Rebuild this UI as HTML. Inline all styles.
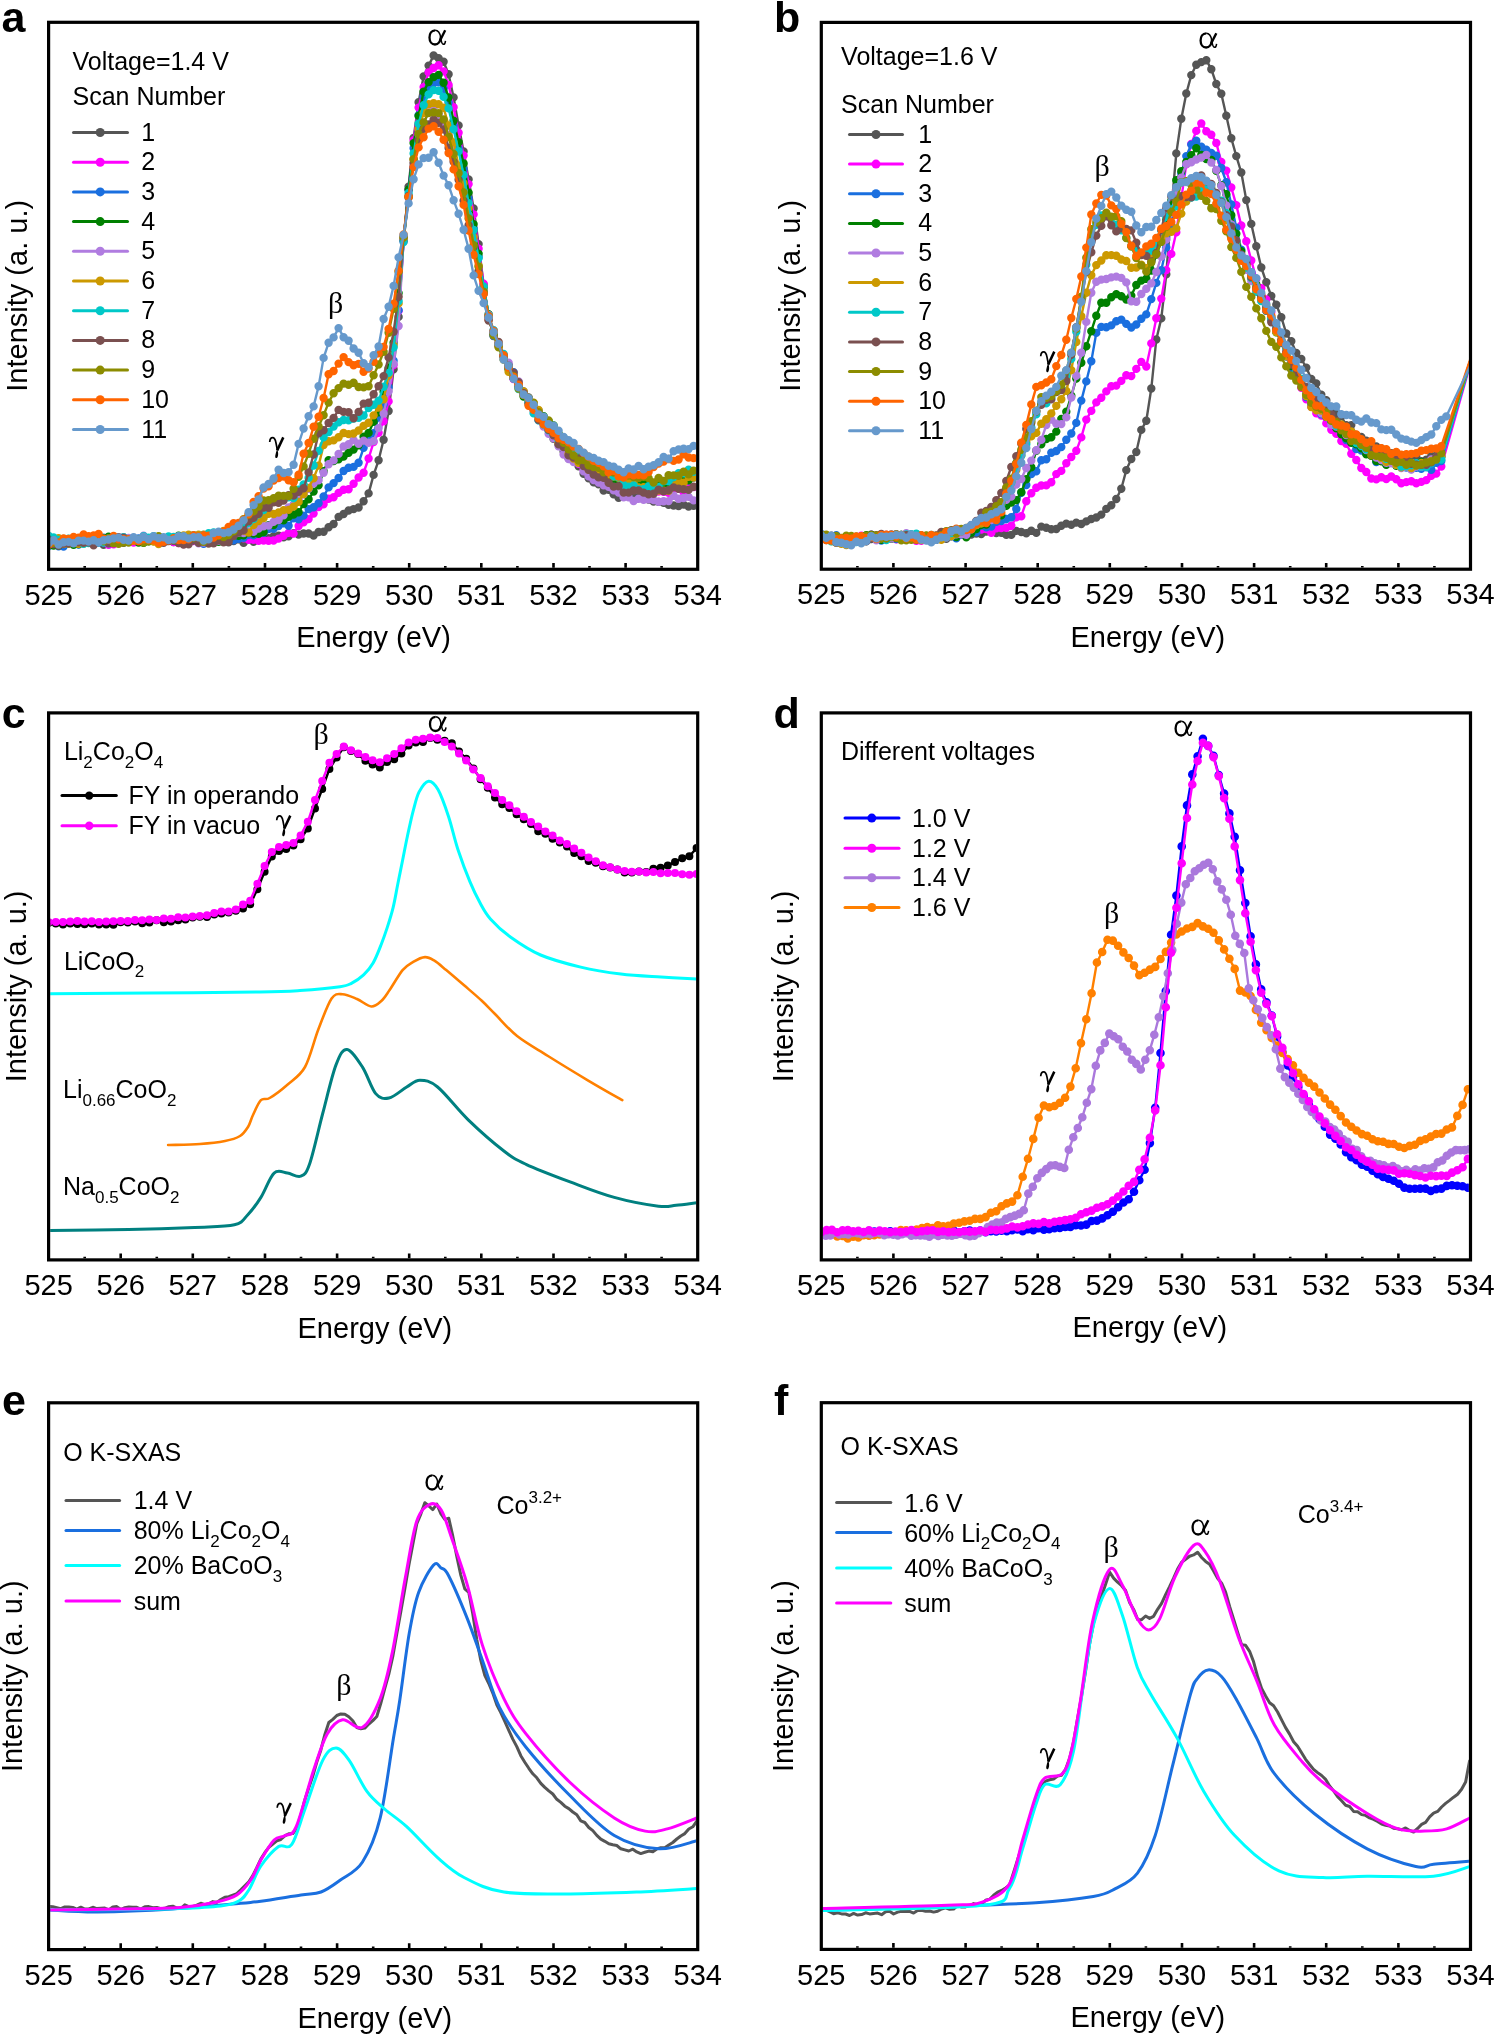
<!DOCTYPE html>
<html><head><meta charset="utf-8"><style>html,body{margin:0;padding:0;background:#fff;overflow:hidden}svg{display:block;will-change:transform}</style></head><body>
<svg width="1494" height="2034" viewBox="0 0 1494 2034">
<rect width="1494" height="2034" fill="#fff"/>
<defs>
<clipPath id="cla"><rect x="50.2" y="23.9" width="645.9" height="543.8"/></clipPath>
<clipPath id="clb"><rect x="822.9" y="24" width="646" height="543.6"/></clipPath>
<clipPath id="clc"><rect x="50.2" y="714.5" width="645.9" height="543.8"/></clipPath>
<clipPath id="cld"><rect x="822.9" y="714.5" width="646" height="543.8"/></clipPath>
<clipPath id="cle"><rect x="50.2" y="1404.4" width="645.9" height="543.6"/></clipPath>
<clipPath id="clf"><rect x="822.9" y="1404.3" width="646" height="543.5"/></clipPath>
</defs>
<g clip-path="url(#cla)"><path d="M48.6 540.1L53.6 538.2L58.6 542.8L63.6 543L68.6 540.9L73.6 542.4L78.6 540.3L83.6 540.6L88.6 541.1L93.6 543.4L98.6 540.7L103.6 544.8L108.6 539.6L113.6 540.1L118.6 539.3L123.6 542.8L128.6 540.2L133.6 540.6L138.6 539.6L143.6 541.2L148.6 539.8L153.6 538.7L158.6 539.9L163.6 539.2L168.6 538.1L173.6 542L178.6 541.1L183.6 541.2L188.6 542.7L193.6 540.3L198.6 540.4L203.6 540.9L208.6 541.1L213.6 542.8L218.6 539.3L223.6 541.9L228.6 542.2L233.6 541L238.6 539.2L243.6 542.9L248.6 539L253.6 541.7L258.6 538.9L263.6 537.8L268.6 538.1L273.6 536.3L278.6 535.6L283.6 537.4L288.6 536.4L293.6 533.1L298.6 534.6L303.6 533.5L308.6 533.5L313.6 535.5L318.6 532L323.6 531.7L328.6 527.3L333.6 524L338.6 516.9L343.6 514L348.6 510.5L353.6 509.1L358.6 507.5L363.6 501.3L368.6 493.4L373.6 474.9L378.6 460.3L383.6 439.8L388.6 411L393.6 369.2L398.6 316.9L403.6 239.8L408.6 186.6L413.6 137.9L418.6 102.3L423.6 76.4L428.6 65.6L433.6 55.5L438.6 58.2L443.6 61.7L448.6 74.2L453.6 97.4L458.6 125.4L463.6 151.4L468.6 179.4L473.6 208.5L478.6 244.1L483.6 284.8L488.6 315.7L493.6 336.1L498.6 345.2L503.6 355.4L508.6 365L513.6 378.3L518.6 386.3L523.6 391.5L528.6 397.4L533.6 407.8L538.6 416.5L543.6 419.1L548.6 430L553.6 438.9L558.6 444.4L563.6 451.6L568.6 458.4L573.6 460.6L578.6 466.2L583.6 473.7L588.6 478.3L593.6 482.3L598.6 484.3L603.6 490.6L608.6 489.7L613.6 494.3L618.6 497.7L623.6 496.4L628.6 495.2L633.6 496.9L638.6 496.9L643.6 498.4L648.6 499.6L653.6 501.6L658.6 501.9L663.6 502.9L668.6 504.8L673.6 505.5L678.6 506.1L683.6 504.6L688.6 506.5L693.6 505.8" fill="none" stroke="#555555" stroke-width="2.4" stroke-linejoin="round"/><path d="M48.6 540.1h0M53.6 538.2h0M58.6 542.8h0M63.6 543h0M68.6 540.9h0M73.6 542.4h0M78.6 540.3h0M83.6 540.6h0M88.6 541.1h0M93.6 543.4h0M98.6 540.7h0M103.6 544.8h0M108.6 539.6h0M113.6 540.1h0M118.6 539.3h0M123.6 542.8h0M128.6 540.2h0M133.6 540.6h0M138.6 539.6h0M143.6 541.2h0M148.6 539.8h0M153.6 538.7h0M158.6 539.9h0M163.6 539.2h0M168.6 538.1h0M173.6 542h0M178.6 541.1h0M183.6 541.2h0M188.6 542.7h0M193.6 540.3h0M198.6 540.4h0M203.6 540.9h0M208.6 541.1h0M213.6 542.8h0M218.6 539.3h0M223.6 541.9h0M228.6 542.2h0M233.6 541h0M238.6 539.2h0M243.6 542.9h0M248.6 539h0M253.6 541.7h0M258.6 538.9h0M263.6 537.8h0M268.6 538.1h0M273.6 536.3h0M278.6 535.6h0M283.6 537.4h0M288.6 536.4h0M293.6 533.1h0M298.6 534.6h0M303.6 533.5h0M308.6 533.5h0M313.6 535.5h0M318.6 532h0M323.6 531.7h0M328.6 527.3h0M333.6 524h0M338.6 516.9h0M343.6 514h0M348.6 510.5h0M353.6 509.1h0M358.6 507.5h0M363.6 501.3h0M368.6 493.4h0M373.6 474.9h0M378.6 460.3h0M383.6 439.8h0M388.6 411h0M393.6 369.2h0M398.6 316.9h0M403.6 239.8h0M408.6 186.6h0M413.6 137.9h0M418.6 102.3h0M423.6 76.4h0M428.6 65.6h0M433.6 55.5h0M438.6 58.2h0M443.6 61.7h0M448.6 74.2h0M453.6 97.4h0M458.6 125.4h0M463.6 151.4h0M468.6 179.4h0M473.6 208.5h0M478.6 244.1h0M483.6 284.8h0M488.6 315.7h0M493.6 336.1h0M498.6 345.2h0M503.6 355.4h0M508.6 365h0M513.6 378.3h0M518.6 386.3h0M523.6 391.5h0M528.6 397.4h0M533.6 407.8h0M538.6 416.5h0M543.6 419.1h0M548.6 430h0M553.6 438.9h0M558.6 444.4h0M563.6 451.6h0M568.6 458.4h0M573.6 460.6h0M578.6 466.2h0M583.6 473.7h0M588.6 478.3h0M593.6 482.3h0M598.6 484.3h0M603.6 490.6h0M608.6 489.7h0M613.6 494.3h0M618.6 497.7h0M623.6 496.4h0M628.6 495.2h0M633.6 496.9h0M638.6 496.9h0M643.6 498.4h0M648.6 499.6h0M653.6 501.6h0M658.6 501.9h0M663.6 502.9h0M668.6 504.8h0M673.6 505.5h0M678.6 506.1h0M683.6 504.6h0M688.6 506.5h0M693.6 505.8h0" fill="none" stroke="#555555" stroke-width="8.4" stroke-linecap="round"/>
<path d="M48.6 541.5L53.6 543.3L58.6 539.7L63.6 541.7L68.6 540.2L73.6 538.3L78.6 539.3L83.6 539.2L88.6 536.9L93.6 540.4L98.6 541.9L103.6 542.2L108.6 544.9L113.6 544.4L118.6 542.3L123.6 541L128.6 539.6L133.6 542.5L138.6 540.8L143.6 539.6L148.6 538.2L153.6 538.4L158.6 537.1L163.6 539.6L168.6 538.4L173.6 542.1L178.6 543.1L183.6 544.1L188.6 542L193.6 541L198.6 541.7L203.6 542.6L208.6 540.4L213.6 540.3L218.6 537.3L223.6 536.2L228.6 538.6L233.6 534.5L238.6 535.2L243.6 538.3L248.6 539.8L253.6 539.7L258.6 540.9L263.6 540.5L268.6 540.7L273.6 540.5L278.6 538.6L283.6 535.7L288.6 532.9L293.6 533.6L298.6 526L303.6 522.3L308.6 519.1L313.6 513.5L318.6 507L323.6 504.2L328.6 498.8L333.6 497.2L338.6 492.9L343.6 489.7L348.6 489.3L353.6 483.8L358.6 477.5L363.6 472.7L368.6 458.5L373.6 442.1L378.6 432.7L383.6 421.3L388.6 401.4L393.6 365.1L398.6 310.9L403.6 241.5L408.6 189.8L413.6 140.3L418.6 107.6L423.6 87.1L428.6 72.4L433.6 68L438.6 65.3L443.6 71.4L448.6 84.9L453.6 107.2L458.6 132.8L463.6 155.5L468.6 184.1L473.6 214.4L478.6 248.8L483.6 283.6L488.6 319.2L493.6 333.3L498.6 345.8L503.6 356.5L508.6 367.7L513.6 379L518.6 384.4L523.6 394L528.6 402.2L533.6 408.5L538.6 412.6L543.6 421.1L548.6 426.6L553.6 431.1L558.6 437.6L563.6 444.3L568.6 453L573.6 456L578.6 463.7L583.6 469.5L588.6 474L593.6 475.1L598.6 475L603.6 478.6L608.6 480.1L613.6 484.2L618.6 486L623.6 488L628.6 487L633.6 488.8L638.6 487.6L643.6 487.7L648.6 491.1L653.6 488.7L658.6 491.6L663.6 491.7L668.6 492.8L673.6 488.4L678.6 488.7L683.6 492.3L688.6 486.7L693.6 487.1" fill="none" stroke="#ff00ff" stroke-width="2.4" stroke-linejoin="round"/><path d="M48.6 541.5h0M53.6 543.3h0M58.6 539.7h0M63.6 541.7h0M68.6 540.2h0M73.6 538.3h0M78.6 539.3h0M83.6 539.2h0M88.6 536.9h0M93.6 540.4h0M98.6 541.9h0M103.6 542.2h0M108.6 544.9h0M113.6 544.4h0M118.6 542.3h0M123.6 541h0M128.6 539.6h0M133.6 542.5h0M138.6 540.8h0M143.6 539.6h0M148.6 538.2h0M153.6 538.4h0M158.6 537.1h0M163.6 539.6h0M168.6 538.4h0M173.6 542.1h0M178.6 543.1h0M183.6 544.1h0M188.6 542h0M193.6 541h0M198.6 541.7h0M203.6 542.6h0M208.6 540.4h0M213.6 540.3h0M218.6 537.3h0M223.6 536.2h0M228.6 538.6h0M233.6 534.5h0M238.6 535.2h0M243.6 538.3h0M248.6 539.8h0M253.6 539.7h0M258.6 540.9h0M263.6 540.5h0M268.6 540.7h0M273.6 540.5h0M278.6 538.6h0M283.6 535.7h0M288.6 532.9h0M293.6 533.6h0M298.6 526h0M303.6 522.3h0M308.6 519.1h0M313.6 513.5h0M318.6 507h0M323.6 504.2h0M328.6 498.8h0M333.6 497.2h0M338.6 492.9h0M343.6 489.7h0M348.6 489.3h0M353.6 483.8h0M358.6 477.5h0M363.6 472.7h0M368.6 458.5h0M373.6 442.1h0M378.6 432.7h0M383.6 421.3h0M388.6 401.4h0M393.6 365.1h0M398.6 310.9h0M403.6 241.5h0M408.6 189.8h0M413.6 140.3h0M418.6 107.6h0M423.6 87.1h0M428.6 72.4h0M433.6 68h0M438.6 65.3h0M443.6 71.4h0M448.6 84.9h0M453.6 107.2h0M458.6 132.8h0M463.6 155.5h0M468.6 184.1h0M473.6 214.4h0M478.6 248.8h0M483.6 283.6h0M488.6 319.2h0M493.6 333.3h0M498.6 345.8h0M503.6 356.5h0M508.6 367.7h0M513.6 379h0M518.6 384.4h0M523.6 394h0M528.6 402.2h0M533.6 408.5h0M538.6 412.6h0M543.6 421.1h0M548.6 426.6h0M553.6 431.1h0M558.6 437.6h0M563.6 444.3h0M568.6 453h0M573.6 456h0M578.6 463.7h0M583.6 469.5h0M588.6 474h0M593.6 475.1h0M598.6 475h0M603.6 478.6h0M608.6 480.1h0M613.6 484.2h0M618.6 486h0M623.6 488h0M628.6 487h0M633.6 488.8h0M638.6 487.6h0M643.6 487.7h0M648.6 491.1h0M653.6 488.7h0M658.6 491.6h0M663.6 491.7h0M668.6 492.8h0M673.6 488.4h0M678.6 488.7h0M683.6 492.3h0M688.6 486.7h0M693.6 487.1h0" fill="none" stroke="#ff00ff" stroke-width="8.4" stroke-linecap="round"/>
<path d="M48.6 546.4L53.6 544.2L58.6 546.2L63.6 546.5L68.6 543.5L73.6 542.3L78.6 544.5L83.6 540.9L88.6 541.4L93.6 543.4L98.6 542.5L103.6 537.8L108.6 537.3L113.6 538L118.6 541.6L123.6 537.3L128.6 538.7L133.6 538.3L138.6 538.5L143.6 540.6L148.6 538.5L153.6 539.4L158.6 540.9L163.6 540.4L168.6 538.5L173.6 540.5L178.6 539.4L183.6 541.1L188.6 538.4L193.6 539.6L198.6 541.4L203.6 543.7L208.6 541.8L213.6 540.7L218.6 539L223.6 538.4L228.6 537.1L233.6 540.4L238.6 538.7L243.6 537.7L248.6 534.7L253.6 535.3L258.6 532.5L263.6 532.9L268.6 529.1L273.6 528.8L278.6 526L283.6 523.3L288.6 525.8L293.6 518.2L298.6 519.3L303.6 515.6L308.6 509.1L313.6 507.2L318.6 503.3L323.6 496.5L328.6 487.4L333.6 483.1L338.6 478L343.6 471L348.6 467.8L353.6 466.9L358.6 462.8L363.6 447.8L368.6 438.6L373.6 433.2L378.6 417.5L383.6 404.6L388.6 387.3L393.6 360.7L398.6 310.3L403.6 239.4L408.6 189.7L413.6 148.2L418.6 115.2L423.6 96.8L428.6 87.4L433.6 83.4L438.6 82.4L443.6 88.7L448.6 102.6L453.6 125.5L458.6 148.6L463.6 169.2L468.6 198.5L473.6 228.4L478.6 257L483.6 291.1L488.6 317.3L493.6 335.8L498.6 344.3L503.6 355.7L508.6 368.3L513.6 372.2L518.6 383.8L523.6 393.6L528.6 400.6L533.6 405.8L538.6 410.8L543.6 417.9L548.6 426.7L553.6 430.7L558.6 437.7L563.6 448.4L568.6 451.4L573.6 453.1L578.6 458.6L583.6 461.6L588.6 468.5L593.6 468L598.6 472.5L603.6 474.8L608.6 474.8L613.6 477L618.6 481.3L623.6 482.8L628.6 485.3L633.6 485.2L638.6 489L643.6 487.9L648.6 486.9L653.6 490L658.6 489.2L663.6 486.5L668.6 484.5L673.6 485L678.6 484.1L683.6 478.1L688.6 480.3L693.6 477.5" fill="none" stroke="#1a6fdf" stroke-width="2.4" stroke-linejoin="round"/><path d="M48.6 546.4h0M53.6 544.2h0M58.6 546.2h0M63.6 546.5h0M68.6 543.5h0M73.6 542.3h0M78.6 544.5h0M83.6 540.9h0M88.6 541.4h0M93.6 543.4h0M98.6 542.5h0M103.6 537.8h0M108.6 537.3h0M113.6 538h0M118.6 541.6h0M123.6 537.3h0M128.6 538.7h0M133.6 538.3h0M138.6 538.5h0M143.6 540.6h0M148.6 538.5h0M153.6 539.4h0M158.6 540.9h0M163.6 540.4h0M168.6 538.5h0M173.6 540.5h0M178.6 539.4h0M183.6 541.1h0M188.6 538.4h0M193.6 539.6h0M198.6 541.4h0M203.6 543.7h0M208.6 541.8h0M213.6 540.7h0M218.6 539h0M223.6 538.4h0M228.6 537.1h0M233.6 540.4h0M238.6 538.7h0M243.6 537.7h0M248.6 534.7h0M253.6 535.3h0M258.6 532.5h0M263.6 532.9h0M268.6 529.1h0M273.6 528.8h0M278.6 526h0M283.6 523.3h0M288.6 525.8h0M293.6 518.2h0M298.6 519.3h0M303.6 515.6h0M308.6 509.1h0M313.6 507.2h0M318.6 503.3h0M323.6 496.5h0M328.6 487.4h0M333.6 483.1h0M338.6 478h0M343.6 471h0M348.6 467.8h0M353.6 466.9h0M358.6 462.8h0M363.6 447.8h0M368.6 438.6h0M373.6 433.2h0M378.6 417.5h0M383.6 404.6h0M388.6 387.3h0M393.6 360.7h0M398.6 310.3h0M403.6 239.4h0M408.6 189.7h0M413.6 148.2h0M418.6 115.2h0M423.6 96.8h0M428.6 87.4h0M433.6 83.4h0M438.6 82.4h0M443.6 88.7h0M448.6 102.6h0M453.6 125.5h0M458.6 148.6h0M463.6 169.2h0M468.6 198.5h0M473.6 228.4h0M478.6 257h0M483.6 291.1h0M488.6 317.3h0M493.6 335.8h0M498.6 344.3h0M503.6 355.7h0M508.6 368.3h0M513.6 372.2h0M518.6 383.8h0M523.6 393.6h0M528.6 400.6h0M533.6 405.8h0M538.6 410.8h0M543.6 417.9h0M548.6 426.7h0M553.6 430.7h0M558.6 437.7h0M563.6 448.4h0M568.6 451.4h0M573.6 453.1h0M578.6 458.6h0M583.6 461.6h0M588.6 468.5h0M593.6 468h0M598.6 472.5h0M603.6 474.8h0M608.6 474.8h0M613.6 477h0M618.6 481.3h0M623.6 482.8h0M628.6 485.3h0M633.6 485.2h0M638.6 489h0M643.6 487.9h0M648.6 486.9h0M653.6 490h0M658.6 489.2h0M663.6 486.5h0M668.6 484.5h0M673.6 485h0M678.6 484.1h0M683.6 478.1h0M688.6 480.3h0M693.6 477.5h0" fill="none" stroke="#1a6fdf" stroke-width="8.4" stroke-linecap="round"/>
<path d="M48.6 545L53.6 545.6L58.6 545.5L63.6 542.9L68.6 543.2L73.6 544.7L78.6 544.1L83.6 538.5L88.6 538.1L93.6 541.1L98.6 535.9L103.6 538.5L108.6 536.7L113.6 538.9L118.6 540.8L123.6 540.1L128.6 539.9L133.6 540.3L138.6 542.5L143.6 542.7L148.6 541.3L153.6 541.1L158.6 540.8L163.6 538.4L168.6 537.2L173.6 538.7L178.6 535.7L183.6 538.4L188.6 539.8L193.6 540.4L198.6 537.8L203.6 539L208.6 541.9L213.6 538.6L218.6 541.8L223.6 536.6L228.6 539.2L233.6 533.5L238.6 535.7L243.6 535.2L248.6 532.6L253.6 533.5L258.6 533.9L263.6 532L268.6 525.3L273.6 525.1L278.6 520.3L283.6 520.2L288.6 516.7L293.6 514.5L298.6 512.3L303.6 504.1L308.6 499.3L313.6 491.6L318.6 485.3L323.6 471.3L328.6 460.3L333.6 461L338.6 459.3L343.6 456.5L348.6 452.8L353.6 449.6L358.6 445.3L363.6 436.8L368.6 432.9L373.6 421.8L378.6 412.4L383.6 391.8L388.6 368.1L393.6 342.8L398.6 293.1L403.6 240.2L408.6 189.5L413.6 143.1L418.6 115.9L423.6 91.7L428.6 82.1L433.6 77.1L438.6 74.9L443.6 82.7L448.6 97.5L453.6 120.8L458.6 142.3L463.6 163.5L468.6 192.6L473.6 224.1L478.6 253.6L483.6 287.7L488.6 314.3L493.6 333.9L498.6 345.1L503.6 356.7L508.6 369.2L513.6 378.2L518.6 387.1L523.6 396.6L528.6 402.7L533.6 408L538.6 415.8L543.6 416.1L548.6 421.2L553.6 425.4L558.6 433.8L563.6 437.8L568.6 444.6L573.6 448.9L578.6 454.9L583.6 462.8L588.6 466.6L593.6 475.8L598.6 477.1L603.6 478.5L608.6 480.7L613.6 483.7L618.6 481.5L623.6 480.3L628.6 478.3L633.6 478.6L638.6 480.9L643.6 480.7L648.6 480.3L653.6 484.9L658.6 481.3L663.6 483.2L668.6 486.1L673.6 486.8L678.6 483.3L683.6 479.2L688.6 480.2L693.6 476.9" fill="none" stroke="#008000" stroke-width="2.4" stroke-linejoin="round"/><path d="M48.6 545h0M53.6 545.6h0M58.6 545.5h0M63.6 542.9h0M68.6 543.2h0M73.6 544.7h0M78.6 544.1h0M83.6 538.5h0M88.6 538.1h0M93.6 541.1h0M98.6 535.9h0M103.6 538.5h0M108.6 536.7h0M113.6 538.9h0M118.6 540.8h0M123.6 540.1h0M128.6 539.9h0M133.6 540.3h0M138.6 542.5h0M143.6 542.7h0M148.6 541.3h0M153.6 541.1h0M158.6 540.8h0M163.6 538.4h0M168.6 537.2h0M173.6 538.7h0M178.6 535.7h0M183.6 538.4h0M188.6 539.8h0M193.6 540.4h0M198.6 537.8h0M203.6 539h0M208.6 541.9h0M213.6 538.6h0M218.6 541.8h0M223.6 536.6h0M228.6 539.2h0M233.6 533.5h0M238.6 535.7h0M243.6 535.2h0M248.6 532.6h0M253.6 533.5h0M258.6 533.9h0M263.6 532h0M268.6 525.3h0M273.6 525.1h0M278.6 520.3h0M283.6 520.2h0M288.6 516.7h0M293.6 514.5h0M298.6 512.3h0M303.6 504.1h0M308.6 499.3h0M313.6 491.6h0M318.6 485.3h0M323.6 471.3h0M328.6 460.3h0M333.6 461h0M338.6 459.3h0M343.6 456.5h0M348.6 452.8h0M353.6 449.6h0M358.6 445.3h0M363.6 436.8h0M368.6 432.9h0M373.6 421.8h0M378.6 412.4h0M383.6 391.8h0M388.6 368.1h0M393.6 342.8h0M398.6 293.1h0M403.6 240.2h0M408.6 189.5h0M413.6 143.1h0M418.6 115.9h0M423.6 91.7h0M428.6 82.1h0M433.6 77.1h0M438.6 74.9h0M443.6 82.7h0M448.6 97.5h0M453.6 120.8h0M458.6 142.3h0M463.6 163.5h0M468.6 192.6h0M473.6 224.1h0M478.6 253.6h0M483.6 287.7h0M488.6 314.3h0M493.6 333.9h0M498.6 345.1h0M503.6 356.7h0M508.6 369.2h0M513.6 378.2h0M518.6 387.1h0M523.6 396.6h0M528.6 402.7h0M533.6 408h0M538.6 415.8h0M543.6 416.1h0M548.6 421.2h0M553.6 425.4h0M558.6 433.8h0M563.6 437.8h0M568.6 444.6h0M573.6 448.9h0M578.6 454.9h0M583.6 462.8h0M588.6 466.6h0M593.6 475.8h0M598.6 477.1h0M603.6 478.5h0M608.6 480.7h0M613.6 483.7h0M618.6 481.5h0M623.6 480.3h0M628.6 478.3h0M633.6 478.6h0M638.6 480.9h0M643.6 480.7h0M648.6 480.3h0M653.6 484.9h0M658.6 481.3h0M663.6 483.2h0M668.6 486.1h0M673.6 486.8h0M678.6 483.3h0M683.6 479.2h0M688.6 480.2h0M693.6 476.9h0" fill="none" stroke="#008000" stroke-width="8.4" stroke-linecap="round"/>
<path d="M48.6 543.9L53.6 540.6L58.6 542.8L63.6 543.3L68.6 539.5L73.6 541.8L78.6 539.2L83.6 538.1L88.6 539.1L93.6 541.3L98.6 537.9L103.6 540.7L108.6 538.8L113.6 537.6L118.6 538.7L123.6 538L128.6 538L133.6 539.9L138.6 539.8L143.6 535.6L148.6 539.8L153.6 537.6L158.6 539.7L163.6 539.2L168.6 538.1L173.6 537.2L178.6 541.7L183.6 542.8L188.6 541.3L193.6 538.9L198.6 543.2L203.6 542.5L208.6 542.5L213.6 542.1L218.6 540.9L223.6 538.3L228.6 535L233.6 534.4L238.6 532.9L243.6 533.1L248.6 531.3L253.6 531.8L258.6 528.6L263.6 526.3L268.6 525.6L273.6 521.9L278.6 520L283.6 515.2L288.6 507.4L293.6 504.5L298.6 499.2L303.6 494.4L308.6 488.7L313.6 483.5L318.6 480.3L323.6 472.7L328.6 464.3L333.6 460.4L338.6 453.9L343.6 446.5L348.6 444.2L353.6 440.1L358.6 443.7L363.6 440.6L368.6 442.8L373.6 441.1L378.6 428.1L383.6 413.5L388.6 391.5L393.6 363.7L398.6 326L403.6 239.6L408.6 198.1L413.6 159.3L418.6 134.2L423.6 123L428.6 112.4L433.6 107.5L438.6 114.7L443.6 123.3L448.6 134.8L453.6 151.4L458.6 174.6L463.6 191.3L468.6 215.3L473.6 240.9L478.6 271.2L483.6 291.9L488.6 315L493.6 330.4L498.6 344.4L503.6 356.5L508.6 362.6L513.6 374L518.6 381.5L523.6 394.6L528.6 401.1L533.6 410.7L538.6 420.2L543.6 426.6L548.6 433.7L553.6 438.4L558.6 446.2L563.6 454.5L568.6 459L573.6 462.1L578.6 463.2L583.6 471.3L588.6 476.3L593.6 480L598.6 482.6L603.6 485.3L608.6 486.9L613.6 490.3L618.6 492.5L623.6 497.4L628.6 497.2L633.6 501L638.6 498.8L643.6 499.7L648.6 499.4L653.6 500.1L658.6 501.8L663.6 501.2L668.6 501.1L673.6 495.7L678.6 498.8L683.6 498L688.6 496.9L693.6 500.4" fill="none" stroke="#b07ce0" stroke-width="2.4" stroke-linejoin="round"/><path d="M48.6 543.9h0M53.6 540.6h0M58.6 542.8h0M63.6 543.3h0M68.6 539.5h0M73.6 541.8h0M78.6 539.2h0M83.6 538.1h0M88.6 539.1h0M93.6 541.3h0M98.6 537.9h0M103.6 540.7h0M108.6 538.8h0M113.6 537.6h0M118.6 538.7h0M123.6 538h0M128.6 538h0M133.6 539.9h0M138.6 539.8h0M143.6 535.6h0M148.6 539.8h0M153.6 537.6h0M158.6 539.7h0M163.6 539.2h0M168.6 538.1h0M173.6 537.2h0M178.6 541.7h0M183.6 542.8h0M188.6 541.3h0M193.6 538.9h0M198.6 543.2h0M203.6 542.5h0M208.6 542.5h0M213.6 542.1h0M218.6 540.9h0M223.6 538.3h0M228.6 535h0M233.6 534.4h0M238.6 532.9h0M243.6 533.1h0M248.6 531.3h0M253.6 531.8h0M258.6 528.6h0M263.6 526.3h0M268.6 525.6h0M273.6 521.9h0M278.6 520h0M283.6 515.2h0M288.6 507.4h0M293.6 504.5h0M298.6 499.2h0M303.6 494.4h0M308.6 488.7h0M313.6 483.5h0M318.6 480.3h0M323.6 472.7h0M328.6 464.3h0M333.6 460.4h0M338.6 453.9h0M343.6 446.5h0M348.6 444.2h0M353.6 440.1h0M358.6 443.7h0M363.6 440.6h0M368.6 442.8h0M373.6 441.1h0M378.6 428.1h0M383.6 413.5h0M388.6 391.5h0M393.6 363.7h0M398.6 326h0M403.6 239.6h0M408.6 198.1h0M413.6 159.3h0M418.6 134.2h0M423.6 123h0M428.6 112.4h0M433.6 107.5h0M438.6 114.7h0M443.6 123.3h0M448.6 134.8h0M453.6 151.4h0M458.6 174.6h0M463.6 191.3h0M468.6 215.3h0M473.6 240.9h0M478.6 271.2h0M483.6 291.9h0M488.6 315h0M493.6 330.4h0M498.6 344.4h0M503.6 356.5h0M508.6 362.6h0M513.6 374h0M518.6 381.5h0M523.6 394.6h0M528.6 401.1h0M533.6 410.7h0M538.6 420.2h0M543.6 426.6h0M548.6 433.7h0M553.6 438.4h0M558.6 446.2h0M563.6 454.5h0M568.6 459h0M573.6 462.1h0M578.6 463.2h0M583.6 471.3h0M588.6 476.3h0M593.6 480h0M598.6 482.6h0M603.6 485.3h0M608.6 486.9h0M613.6 490.3h0M618.6 492.5h0M623.6 497.4h0M628.6 497.2h0M633.6 501h0M638.6 498.8h0M643.6 499.7h0M648.6 499.4h0M653.6 500.1h0M658.6 501.8h0M663.6 501.2h0M668.6 501.1h0M673.6 495.7h0M678.6 498.8h0M683.6 498h0M688.6 496.9h0M693.6 500.4h0" fill="none" stroke="#b07ce0" stroke-width="8.4" stroke-linecap="round"/>
<path d="M48.6 540.9L53.6 542.5L58.6 538.2L63.6 543.9L68.6 543.6L73.6 539.6L78.6 543.8L83.6 543.5L88.6 539.5L93.6 543.3L98.6 539.2L103.6 539L108.6 539.7L113.6 539.6L118.6 540L123.6 537.6L128.6 539.3L133.6 538.1L138.6 539.6L143.6 541.5L148.6 539.8L153.6 541.5L158.6 544L163.6 540L168.6 540.6L173.6 537.4L178.6 540.2L183.6 535.4L188.6 534.8L193.6 537.1L198.6 534.8L203.6 534.6L208.6 534.2L213.6 533.2L218.6 532.6L223.6 531L228.6 530.9L233.6 531L238.6 530.8L243.6 530.5L248.6 532.6L253.6 525L258.6 521L263.6 518.1L268.6 513.7L273.6 514L278.6 512.5L283.6 510.1L288.6 509.9L293.6 506.6L298.6 501.9L303.6 494L308.6 488L313.6 478.2L318.6 465.6L323.6 445L328.6 441.3L333.6 440.4L338.6 437.3L343.6 433L348.6 434.1L353.6 433.5L358.6 430.5L363.6 425.9L368.6 422.8L373.6 415.4L378.6 407.6L383.6 399.2L388.6 375.6L393.6 345.8L398.6 303.4L403.6 238.1L408.6 196.8L413.6 159.5L418.6 129L423.6 113L428.6 104.3L433.6 103.1L438.6 104.2L443.6 107.8L448.6 125.5L453.6 142.4L458.6 165.8L463.6 183.3L468.6 208.1L473.6 237.3L478.6 265.7L483.6 292.7L488.6 319.7L493.6 332.6L498.6 346.6L503.6 356.1L508.6 371.7L513.6 377.2L518.6 384.2L523.6 391.4L528.6 399.9L533.6 402.6L538.6 410L543.6 419.7L548.6 426L553.6 434.5L558.6 442.8L563.6 446.2L568.6 453.7L573.6 458.5L578.6 462.8L583.6 464.9L588.6 469.5L593.6 467.6L598.6 469.7L603.6 473.1L608.6 474.5L613.6 476.6L618.6 477.7L623.6 477.7L628.6 481.1L633.6 482.5L638.6 487.5L643.6 487.3L648.6 492.4L653.6 491.9L658.6 490.6L663.6 490.8L668.6 490.7L673.6 485.4L678.6 481L683.6 482.7L688.6 476.7L693.6 477.6" fill="none" stroke="#cc9900" stroke-width="2.4" stroke-linejoin="round"/><path d="M48.6 540.9h0M53.6 542.5h0M58.6 538.2h0M63.6 543.9h0M68.6 543.6h0M73.6 539.6h0M78.6 543.8h0M83.6 543.5h0M88.6 539.5h0M93.6 543.3h0M98.6 539.2h0M103.6 539h0M108.6 539.7h0M113.6 539.6h0M118.6 540h0M123.6 537.6h0M128.6 539.3h0M133.6 538.1h0M138.6 539.6h0M143.6 541.5h0M148.6 539.8h0M153.6 541.5h0M158.6 544h0M163.6 540h0M168.6 540.6h0M173.6 537.4h0M178.6 540.2h0M183.6 535.4h0M188.6 534.8h0M193.6 537.1h0M198.6 534.8h0M203.6 534.6h0M208.6 534.2h0M213.6 533.2h0M218.6 532.6h0M223.6 531h0M228.6 530.9h0M233.6 531h0M238.6 530.8h0M243.6 530.5h0M248.6 532.6h0M253.6 525h0M258.6 521h0M263.6 518.1h0M268.6 513.7h0M273.6 514h0M278.6 512.5h0M283.6 510.1h0M288.6 509.9h0M293.6 506.6h0M298.6 501.9h0M303.6 494h0M308.6 488h0M313.6 478.2h0M318.6 465.6h0M323.6 445h0M328.6 441.3h0M333.6 440.4h0M338.6 437.3h0M343.6 433h0M348.6 434.1h0M353.6 433.5h0M358.6 430.5h0M363.6 425.9h0M368.6 422.8h0M373.6 415.4h0M378.6 407.6h0M383.6 399.2h0M388.6 375.6h0M393.6 345.8h0M398.6 303.4h0M403.6 238.1h0M408.6 196.8h0M413.6 159.5h0M418.6 129h0M423.6 113h0M428.6 104.3h0M433.6 103.1h0M438.6 104.2h0M443.6 107.8h0M448.6 125.5h0M453.6 142.4h0M458.6 165.8h0M463.6 183.3h0M468.6 208.1h0M473.6 237.3h0M478.6 265.7h0M483.6 292.7h0M488.6 319.7h0M493.6 332.6h0M498.6 346.6h0M503.6 356.1h0M508.6 371.7h0M513.6 377.2h0M518.6 384.2h0M523.6 391.4h0M528.6 399.9h0M533.6 402.6h0M538.6 410h0M543.6 419.7h0M548.6 426h0M553.6 434.5h0M558.6 442.8h0M563.6 446.2h0M568.6 453.7h0M573.6 458.5h0M578.6 462.8h0M583.6 464.9h0M588.6 469.5h0M593.6 467.6h0M598.6 469.7h0M603.6 473.1h0M608.6 474.5h0M613.6 476.6h0M618.6 477.7h0M623.6 477.7h0M628.6 481.1h0M633.6 482.5h0M638.6 487.5h0M643.6 487.3h0M648.6 492.4h0M653.6 491.9h0M658.6 490.6h0M663.6 490.8h0M668.6 490.7h0M673.6 485.4h0M678.6 481h0M683.6 482.7h0M688.6 476.7h0M693.6 477.6h0" fill="none" stroke="#cc9900" stroke-width="8.4" stroke-linecap="round"/>
<path d="M48.6 535.7L53.6 537.5L58.6 540L63.6 538.9L68.6 538.6L73.6 538.5L78.6 538.4L83.6 543.9L88.6 543L93.6 540.4L98.6 542.3L103.6 542.6L108.6 543.2L113.6 539.1L118.6 538.7L123.6 537.4L128.6 539.1L133.6 540.7L138.6 539.5L143.6 536.2L148.6 537.6L153.6 536.1L158.6 536.6L163.6 538.5L168.6 536.5L173.6 536.9L178.6 536.4L183.6 537L188.6 539L193.6 535.2L198.6 537L203.6 534.9L208.6 533.3L213.6 532.5L218.6 534.5L223.6 534.1L228.6 532.8L233.6 532.9L238.6 531.1L243.6 527.6L248.6 522.9L253.6 519.1L258.6 514.2L263.6 510L268.6 505.5L273.6 499.7L278.6 498.9L283.6 497.2L288.6 497.3L293.6 498.1L298.6 489.7L303.6 484.5L308.6 477.9L313.6 465.5L318.6 450.9L323.6 437.4L328.6 432.1L333.6 426.6L338.6 422.3L343.6 420L348.6 420.3L353.6 418.5L358.6 417.7L363.6 415.5L368.6 408L373.6 404.8L378.6 400.6L383.6 386.7L388.6 372.9L393.6 347.5L398.6 301L403.6 242L408.6 192.9L413.6 153.5L418.6 123.8L423.6 105.1L428.6 94.4L433.6 90.1L438.6 90.8L443.6 96.9L448.6 108.4L453.6 129.3L458.6 151.2L463.6 175L468.6 203.1L473.6 230L478.6 258.2L483.6 286.5L488.6 315.6L493.6 330.3L498.6 343.8L503.6 354L508.6 367.1L513.6 376L518.6 389.1L523.6 394.3L528.6 401.4L533.6 413.2L538.6 420.4L543.6 424.5L548.6 430.4L553.6 434.7L558.6 440.2L563.6 443.3L568.6 444.7L573.6 452.2L578.6 454.3L583.6 457.4L588.6 456.9L593.6 462.8L598.6 462.4L603.6 469.4L608.6 469.4L613.6 476.2L618.6 477.4L623.6 484.9L628.6 486.6L633.6 485.4L638.6 489.3L643.6 489.2L648.6 486.1L653.6 488.9L658.6 486.9L663.6 481.2L668.6 481.4L673.6 477L678.6 473.1L683.6 473.4L688.6 469.7L693.6 471.8" fill="none" stroke="#00c8c8" stroke-width="2.4" stroke-linejoin="round"/><path d="M48.6 535.7h0M53.6 537.5h0M58.6 540h0M63.6 538.9h0M68.6 538.6h0M73.6 538.5h0M78.6 538.4h0M83.6 543.9h0M88.6 543h0M93.6 540.4h0M98.6 542.3h0M103.6 542.6h0M108.6 543.2h0M113.6 539.1h0M118.6 538.7h0M123.6 537.4h0M128.6 539.1h0M133.6 540.7h0M138.6 539.5h0M143.6 536.2h0M148.6 537.6h0M153.6 536.1h0M158.6 536.6h0M163.6 538.5h0M168.6 536.5h0M173.6 536.9h0M178.6 536.4h0M183.6 537h0M188.6 539h0M193.6 535.2h0M198.6 537h0M203.6 534.9h0M208.6 533.3h0M213.6 532.5h0M218.6 534.5h0M223.6 534.1h0M228.6 532.8h0M233.6 532.9h0M238.6 531.1h0M243.6 527.6h0M248.6 522.9h0M253.6 519.1h0M258.6 514.2h0M263.6 510h0M268.6 505.5h0M273.6 499.7h0M278.6 498.9h0M283.6 497.2h0M288.6 497.3h0M293.6 498.1h0M298.6 489.7h0M303.6 484.5h0M308.6 477.9h0M313.6 465.5h0M318.6 450.9h0M323.6 437.4h0M328.6 432.1h0M333.6 426.6h0M338.6 422.3h0M343.6 420h0M348.6 420.3h0M353.6 418.5h0M358.6 417.7h0M363.6 415.5h0M368.6 408h0M373.6 404.8h0M378.6 400.6h0M383.6 386.7h0M388.6 372.9h0M393.6 347.5h0M398.6 301h0M403.6 242h0M408.6 192.9h0M413.6 153.5h0M418.6 123.8h0M423.6 105.1h0M428.6 94.4h0M433.6 90.1h0M438.6 90.8h0M443.6 96.9h0M448.6 108.4h0M453.6 129.3h0M458.6 151.2h0M463.6 175h0M468.6 203.1h0M473.6 230h0M478.6 258.2h0M483.6 286.5h0M488.6 315.6h0M493.6 330.3h0M498.6 343.8h0M503.6 354h0M508.6 367.1h0M513.6 376h0M518.6 389.1h0M523.6 394.3h0M528.6 401.4h0M533.6 413.2h0M538.6 420.4h0M543.6 424.5h0M548.6 430.4h0M553.6 434.7h0M558.6 440.2h0M563.6 443.3h0M568.6 444.7h0M573.6 452.2h0M578.6 454.3h0M583.6 457.4h0M588.6 456.9h0M593.6 462.8h0M598.6 462.4h0M603.6 469.4h0M608.6 469.4h0M613.6 476.2h0M618.6 477.4h0M623.6 484.9h0M628.6 486.6h0M633.6 485.4h0M638.6 489.3h0M643.6 489.2h0M648.6 486.1h0M653.6 488.9h0M658.6 486.9h0M663.6 481.2h0M668.6 481.4h0M673.6 477h0M678.6 473.1h0M683.6 473.4h0M688.6 469.7h0M693.6 471.8h0" fill="none" stroke="#00c8c8" stroke-width="8.4" stroke-linecap="round"/>
<path d="M48.6 539.7L53.6 544.4L58.6 545.6L63.6 543.5L68.6 543.3L73.6 543.1L78.6 542.4L83.6 542.9L88.6 542.3L93.6 545.3L98.6 540.8L103.6 539.9L108.6 543.2L113.6 542.4L118.6 537.2L123.6 538L128.6 541.5L133.6 538.1L138.6 539.6L143.6 540.3L148.6 540.4L153.6 537.6L158.6 541.7L163.6 542.7L168.6 541L173.6 540.7L178.6 543L183.6 544.5L188.6 544.2L193.6 539.9L198.6 542.8L203.6 541L208.6 543.5L213.6 543.2L218.6 540.2L223.6 542.2L228.6 541.9L233.6 536.1L238.6 532.5L243.6 530.4L248.6 521.3L253.6 517.7L258.6 513.7L263.6 507.5L268.6 507.8L273.6 502.4L278.6 502.7L283.6 500.5L288.6 495.2L293.6 495.6L298.6 491.8L303.6 488.3L308.6 472.4L313.6 454.5L318.6 433.4L323.6 430.2L328.6 423L333.6 417.9L338.6 409.9L343.6 411.9L348.6 412.2L353.6 418.2L358.6 411.9L363.6 403.6L368.6 402.8L373.6 394.2L378.6 386.2L383.6 376.1L388.6 357.4L393.6 331.7L398.6 296.8L403.6 236.6L408.6 196L413.6 162.7L418.6 140L423.6 128.8L428.6 124.5L433.6 119.8L438.6 122.9L443.6 129.4L448.6 147.9L453.6 161.8L458.6 179.8L463.6 200.7L468.6 225.2L473.6 247.1L478.6 271.1L483.6 294L488.6 320.5L493.6 332L498.6 342L503.6 355.9L508.6 365.7L513.6 372.8L518.6 382.1L523.6 393.3L528.6 404.6L533.6 409.2L538.6 419.9L543.6 423.6L548.6 429.9L553.6 435.2L558.6 444.4L563.6 447L568.6 455.4L573.6 457.6L578.6 458.4L583.6 466.1L588.6 469.8L593.6 474.6L598.6 477.4L603.6 477.7L608.6 482.8L613.6 486.6L618.6 486.3L623.6 492.6L628.6 492.6L633.6 490.5L638.6 490.4L643.6 492.6L648.6 494.2L653.6 493.7L658.6 489.6L663.6 491.2L668.6 490.2L673.6 487.4L678.6 488.7L683.6 489.3L688.6 489.9L693.6 486.7" fill="none" stroke="#7a5050" stroke-width="2.4" stroke-linejoin="round"/><path d="M48.6 539.7h0M53.6 544.4h0M58.6 545.6h0M63.6 543.5h0M68.6 543.3h0M73.6 543.1h0M78.6 542.4h0M83.6 542.9h0M88.6 542.3h0M93.6 545.3h0M98.6 540.8h0M103.6 539.9h0M108.6 543.2h0M113.6 542.4h0M118.6 537.2h0M123.6 538h0M128.6 541.5h0M133.6 538.1h0M138.6 539.6h0M143.6 540.3h0M148.6 540.4h0M153.6 537.6h0M158.6 541.7h0M163.6 542.7h0M168.6 541h0M173.6 540.7h0M178.6 543h0M183.6 544.5h0M188.6 544.2h0M193.6 539.9h0M198.6 542.8h0M203.6 541h0M208.6 543.5h0M213.6 543.2h0M218.6 540.2h0M223.6 542.2h0M228.6 541.9h0M233.6 536.1h0M238.6 532.5h0M243.6 530.4h0M248.6 521.3h0M253.6 517.7h0M258.6 513.7h0M263.6 507.5h0M268.6 507.8h0M273.6 502.4h0M278.6 502.7h0M283.6 500.5h0M288.6 495.2h0M293.6 495.6h0M298.6 491.8h0M303.6 488.3h0M308.6 472.4h0M313.6 454.5h0M318.6 433.4h0M323.6 430.2h0M328.6 423h0M333.6 417.9h0M338.6 409.9h0M343.6 411.9h0M348.6 412.2h0M353.6 418.2h0M358.6 411.9h0M363.6 403.6h0M368.6 402.8h0M373.6 394.2h0M378.6 386.2h0M383.6 376.1h0M388.6 357.4h0M393.6 331.7h0M398.6 296.8h0M403.6 236.6h0M408.6 196h0M413.6 162.7h0M418.6 140h0M423.6 128.8h0M428.6 124.5h0M433.6 119.8h0M438.6 122.9h0M443.6 129.4h0M448.6 147.9h0M453.6 161.8h0M458.6 179.8h0M463.6 200.7h0M468.6 225.2h0M473.6 247.1h0M478.6 271.1h0M483.6 294h0M488.6 320.5h0M493.6 332h0M498.6 342h0M503.6 355.9h0M508.6 365.7h0M513.6 372.8h0M518.6 382.1h0M523.6 393.3h0M528.6 404.6h0M533.6 409.2h0M538.6 419.9h0M543.6 423.6h0M548.6 429.9h0M553.6 435.2h0M558.6 444.4h0M563.6 447h0M568.6 455.4h0M573.6 457.6h0M578.6 458.4h0M583.6 466.1h0M588.6 469.8h0M593.6 474.6h0M598.6 477.4h0M603.6 477.7h0M608.6 482.8h0M613.6 486.6h0M618.6 486.3h0M623.6 492.6h0M628.6 492.6h0M633.6 490.5h0M638.6 490.4h0M643.6 492.6h0M648.6 494.2h0M653.6 493.7h0M658.6 489.6h0M663.6 491.2h0M668.6 490.2h0M673.6 487.4h0M678.6 488.7h0M683.6 489.3h0M688.6 489.9h0M693.6 486.7h0" fill="none" stroke="#7a5050" stroke-width="8.4" stroke-linecap="round"/>
<path d="M48.6 541.9L53.6 542.8L58.6 542.8L63.6 539.7L68.6 541L73.6 542.6L78.6 539.6L83.6 538.7L88.6 539.9L93.6 538L98.6 537.4L103.6 541.2L108.6 538.3L113.6 543.2L118.6 543.9L123.6 542.5L128.6 542.5L133.6 539.8L138.6 539.9L143.6 542.5L148.6 541.3L153.6 539.8L158.6 536.2L163.6 538.9L168.6 540.1L173.6 539.6L178.6 538.8L183.6 538.1L188.6 538.5L193.6 537.5L198.6 537.1L203.6 541.9L208.6 537.8L213.6 536.6L218.6 535.7L223.6 537L228.6 535.1L233.6 531.4L238.6 526.1L243.6 519.3L248.6 514.9L253.6 511.4L258.6 506.5L263.6 500.5L268.6 500.2L273.6 498.2L278.6 495.8L283.6 495.9L288.6 496L293.6 488.8L298.6 476.9L303.6 466.4L308.6 453.7L313.6 438.7L318.6 426.4L323.6 415.3L328.6 402.6L333.6 393.2L338.6 388.1L343.6 383.6L348.6 384.8L353.6 382.7L358.6 387L363.6 387.4L368.6 386.2L373.6 375.3L378.6 364.5L383.6 351.8L388.6 332.7L393.6 308.9L398.6 271.8L403.6 237.5L408.6 197.3L413.6 159.2L418.6 134L423.6 122.4L428.6 113.1L433.6 112.2L438.6 113.1L443.6 119.4L448.6 137L453.6 154L458.6 173.3L463.6 192.4L468.6 218.4L473.6 245.1L478.6 266.7L483.6 291.7L488.6 316.2L493.6 335.3L498.6 347.2L503.6 359.6L508.6 367L513.6 376.2L518.6 388.5L523.6 395L528.6 397.9L533.6 403L538.6 412.2L543.6 418.3L548.6 420.5L553.6 432.3L558.6 434.8L563.6 442.7L568.6 449.3L573.6 455.5L578.6 460.6L583.6 460.1L588.6 465.2L593.6 467L598.6 467.9L603.6 472.2L608.6 470.1L613.6 472.5L618.6 475.1L623.6 476.4L628.6 475.5L633.6 477.1L638.6 478L643.6 476.8L648.6 478.1L653.6 482.5L658.6 478L663.6 480.9L668.6 475.2L673.6 475.4L678.6 475.8L683.6 471.7L688.6 474.4L693.6 470.6" fill="none" stroke="#8c8c00" stroke-width="2.4" stroke-linejoin="round"/><path d="M48.6 541.9h0M53.6 542.8h0M58.6 542.8h0M63.6 539.7h0M68.6 541h0M73.6 542.6h0M78.6 539.6h0M83.6 538.7h0M88.6 539.9h0M93.6 538h0M98.6 537.4h0M103.6 541.2h0M108.6 538.3h0M113.6 543.2h0M118.6 543.9h0M123.6 542.5h0M128.6 542.5h0M133.6 539.8h0M138.6 539.9h0M143.6 542.5h0M148.6 541.3h0M153.6 539.8h0M158.6 536.2h0M163.6 538.9h0M168.6 540.1h0M173.6 539.6h0M178.6 538.8h0M183.6 538.1h0M188.6 538.5h0M193.6 537.5h0M198.6 537.1h0M203.6 541.9h0M208.6 537.8h0M213.6 536.6h0M218.6 535.7h0M223.6 537h0M228.6 535.1h0M233.6 531.4h0M238.6 526.1h0M243.6 519.3h0M248.6 514.9h0M253.6 511.4h0M258.6 506.5h0M263.6 500.5h0M268.6 500.2h0M273.6 498.2h0M278.6 495.8h0M283.6 495.9h0M288.6 496h0M293.6 488.8h0M298.6 476.9h0M303.6 466.4h0M308.6 453.7h0M313.6 438.7h0M318.6 426.4h0M323.6 415.3h0M328.6 402.6h0M333.6 393.2h0M338.6 388.1h0M343.6 383.6h0M348.6 384.8h0M353.6 382.7h0M358.6 387h0M363.6 387.4h0M368.6 386.2h0M373.6 375.3h0M378.6 364.5h0M383.6 351.8h0M388.6 332.7h0M393.6 308.9h0M398.6 271.8h0M403.6 237.5h0M408.6 197.3h0M413.6 159.2h0M418.6 134h0M423.6 122.4h0M428.6 113.1h0M433.6 112.2h0M438.6 113.1h0M443.6 119.4h0M448.6 137h0M453.6 154h0M458.6 173.3h0M463.6 192.4h0M468.6 218.4h0M473.6 245.1h0M478.6 266.7h0M483.6 291.7h0M488.6 316.2h0M493.6 335.3h0M498.6 347.2h0M503.6 359.6h0M508.6 367h0M513.6 376.2h0M518.6 388.5h0M523.6 395h0M528.6 397.9h0M533.6 403h0M538.6 412.2h0M543.6 418.3h0M548.6 420.5h0M553.6 432.3h0M558.6 434.8h0M563.6 442.7h0M568.6 449.3h0M573.6 455.5h0M578.6 460.6h0M583.6 460.1h0M588.6 465.2h0M593.6 467h0M598.6 467.9h0M603.6 472.2h0M608.6 470.1h0M613.6 472.5h0M618.6 475.1h0M623.6 476.4h0M628.6 475.5h0M633.6 477.1h0M638.6 478h0M643.6 476.8h0M648.6 478.1h0M653.6 482.5h0M658.6 478h0M663.6 480.9h0M668.6 475.2h0M673.6 475.4h0M678.6 475.8h0M683.6 471.7h0M688.6 474.4h0M693.6 470.6h0" fill="none" stroke="#8c8c00" stroke-width="8.4" stroke-linecap="round"/>
<path d="M48.6 544.7L53.6 541L58.6 542.6L63.6 538.5L68.6 538.9L73.6 536.9L78.6 537.7L83.6 534.5L88.6 536.1L93.6 535.4L98.6 533.9L103.6 538.6L108.6 539.6L113.6 535.9L118.6 539.2L123.6 539.3L128.6 539.3L133.6 540.7L138.6 541.4L143.6 539.4L148.6 539.8L153.6 540.4L158.6 542.7L163.6 541.8L168.6 540.4L173.6 538.1L178.6 540.1L183.6 540.1L188.6 539.3L193.6 535.3L198.6 536.5L203.6 535.1L208.6 535.8L213.6 537.6L218.6 535L223.6 531.4L228.6 526.9L233.6 523.1L238.6 523L243.6 519.7L248.6 514.1L253.6 501.9L258.6 496.1L263.6 488.6L268.6 486.2L273.6 480.5L278.6 478L283.6 476.6L288.6 480.2L293.6 482.3L298.6 474.8L303.6 453.7L308.6 443L313.6 426.8L318.6 416.7L323.6 398L328.6 374.3L333.6 371L338.6 363.6L343.6 357.1L348.6 362.1L353.6 365.3L358.6 363.9L363.6 371.7L368.6 368.6L373.6 361.7L378.6 353.4L383.6 346.9L388.6 329L393.6 303.8L398.6 270.6L403.6 234.4L408.6 196.7L413.6 167.1L418.6 147.4L423.6 137.3L428.6 128.6L433.6 126.2L438.6 131.8L443.6 139.7L448.6 153L453.6 169.4L458.6 186.2L463.6 204.9L468.6 230.5L473.6 254.9L478.6 274.1L483.6 294.3L488.6 316.1L493.6 331L498.6 343.6L503.6 355.3L508.6 367.5L513.6 376.9L518.6 384.6L523.6 394.6L528.6 405.8L533.6 409.9L538.6 418.4L543.6 424.2L548.6 428.7L553.6 432.7L558.6 438.4L563.6 439.8L568.6 442.3L573.6 446.6L578.6 449L583.6 453L588.6 456.8L593.6 460.8L598.6 462.8L603.6 466.3L608.6 472.4L613.6 470.9L618.6 476.6L623.6 477.5L628.6 474.2L633.6 475.3L638.6 474.9L643.6 475.4L648.6 472.1L653.6 467L658.6 463.5L663.6 461.5L668.6 459L673.6 460.9L678.6 459.5L683.6 454.3L688.6 457.5L693.6 458.1" fill="none" stroke="#ff6400" stroke-width="2.4" stroke-linejoin="round"/><path d="M48.6 544.7h0M53.6 541h0M58.6 542.6h0M63.6 538.5h0M68.6 538.9h0M73.6 536.9h0M78.6 537.7h0M83.6 534.5h0M88.6 536.1h0M93.6 535.4h0M98.6 533.9h0M103.6 538.6h0M108.6 539.6h0M113.6 535.9h0M118.6 539.2h0M123.6 539.3h0M128.6 539.3h0M133.6 540.7h0M138.6 541.4h0M143.6 539.4h0M148.6 539.8h0M153.6 540.4h0M158.6 542.7h0M163.6 541.8h0M168.6 540.4h0M173.6 538.1h0M178.6 540.1h0M183.6 540.1h0M188.6 539.3h0M193.6 535.3h0M198.6 536.5h0M203.6 535.1h0M208.6 535.8h0M213.6 537.6h0M218.6 535h0M223.6 531.4h0M228.6 526.9h0M233.6 523.1h0M238.6 523h0M243.6 519.7h0M248.6 514.1h0M253.6 501.9h0M258.6 496.1h0M263.6 488.6h0M268.6 486.2h0M273.6 480.5h0M278.6 478h0M283.6 476.6h0M288.6 480.2h0M293.6 482.3h0M298.6 474.8h0M303.6 453.7h0M308.6 443h0M313.6 426.8h0M318.6 416.7h0M323.6 398h0M328.6 374.3h0M333.6 371h0M338.6 363.6h0M343.6 357.1h0M348.6 362.1h0M353.6 365.3h0M358.6 363.9h0M363.6 371.7h0M368.6 368.6h0M373.6 361.7h0M378.6 353.4h0M383.6 346.9h0M388.6 329h0M393.6 303.8h0M398.6 270.6h0M403.6 234.4h0M408.6 196.7h0M413.6 167.1h0M418.6 147.4h0M423.6 137.3h0M428.6 128.6h0M433.6 126.2h0M438.6 131.8h0M443.6 139.7h0M448.6 153h0M453.6 169.4h0M458.6 186.2h0M463.6 204.9h0M468.6 230.5h0M473.6 254.9h0M478.6 274.1h0M483.6 294.3h0M488.6 316.1h0M493.6 331h0M498.6 343.6h0M503.6 355.3h0M508.6 367.5h0M513.6 376.9h0M518.6 384.6h0M523.6 394.6h0M528.6 405.8h0M533.6 409.9h0M538.6 418.4h0M543.6 424.2h0M548.6 428.7h0M553.6 432.7h0M558.6 438.4h0M563.6 439.8h0M568.6 442.3h0M573.6 446.6h0M578.6 449h0M583.6 453h0M588.6 456.8h0M593.6 460.8h0M598.6 462.8h0M603.6 466.3h0M608.6 472.4h0M613.6 470.9h0M618.6 476.6h0M623.6 477.5h0M628.6 474.2h0M633.6 475.3h0M638.6 474.9h0M643.6 475.4h0M648.6 472.1h0M653.6 467h0M658.6 463.5h0M663.6 461.5h0M668.6 459h0M673.6 460.9h0M678.6 459.5h0M683.6 454.3h0M688.6 457.5h0M693.6 458.1h0" fill="none" stroke="#ff6400" stroke-width="8.4" stroke-linecap="round"/>
<path d="M48.6 543.3L53.6 540.2L58.6 544.5L63.6 542.3L68.6 541.9L73.6 543.2L78.6 540.6L83.6 540.6L88.6 541.6L93.6 540.2L98.6 542.2L103.6 540.3L108.6 539.5L113.6 538.4L118.6 537.6L123.6 539.9L128.6 540.5L133.6 537.1L138.6 539.5L143.6 536.7L148.6 539.2L153.6 536.3L158.6 538.1L163.6 537.3L168.6 540L173.6 539.6L178.6 536.1L183.6 536.3L188.6 538.4L193.6 537.1L198.6 537.3L203.6 540.5L208.6 539.4L213.6 533L218.6 531.8L223.6 533.1L228.6 532.3L233.6 529.5L238.6 525.7L243.6 520.4L248.6 512.3L253.6 505.1L258.6 499.4L263.6 487.5L268.6 484L273.6 478.5L278.6 469.7L283.6 473L288.6 472.1L293.6 464.8L298.6 443.9L303.6 428.5L308.6 416.3L313.6 406.4L318.6 386.2L323.6 357.9L328.6 342.8L333.6 337.4L338.6 328.1L343.6 337.2L348.6 340.8L353.6 348.5L358.6 352.7L363.6 363.2L368.6 367.3L373.6 355.3L378.6 346.5L383.6 319L388.6 306.7L393.6 285.9L398.6 257.4L403.6 234.9L408.6 203.4L413.6 179.2L418.6 164.4L423.6 158.1L428.6 157.8L433.6 152.3L438.6 162.7L443.6 175.6L448.6 185.2L453.6 200.2L458.6 213.8L463.6 229.8L468.6 248.7L473.6 275.4L478.6 290.8L483.6 303.1L488.6 317.6L493.6 332.3L498.6 343.9L503.6 359.5L508.6 365.7L513.6 378.7L518.6 387.3L523.6 394.5L528.6 398.1L533.6 404.7L538.6 414.4L543.6 416.8L548.6 424.1L553.6 425.8L558.6 430.8L563.6 436.9L568.6 440.2L573.6 443L578.6 449.1L583.6 452.6L588.6 456.4L593.6 458L598.6 460.8L603.6 462.1L608.6 465.7L613.6 466.6L618.6 469.7L623.6 472.2L628.6 468.4L633.6 469.5L638.6 466L643.6 469.3L648.6 466.8L653.6 465.2L658.6 462.2L663.6 457L668.6 458.7L673.6 451.2L678.6 449.5L683.6 448.8L688.6 449.1L693.6 445.9" fill="none" stroke="#6699cc" stroke-width="2.4" stroke-linejoin="round"/><path d="M48.6 543.3h0M53.6 540.2h0M58.6 544.5h0M63.6 542.3h0M68.6 541.9h0M73.6 543.2h0M78.6 540.6h0M83.6 540.6h0M88.6 541.6h0M93.6 540.2h0M98.6 542.2h0M103.6 540.3h0M108.6 539.5h0M113.6 538.4h0M118.6 537.6h0M123.6 539.9h0M128.6 540.5h0M133.6 537.1h0M138.6 539.5h0M143.6 536.7h0M148.6 539.2h0M153.6 536.3h0M158.6 538.1h0M163.6 537.3h0M168.6 540h0M173.6 539.6h0M178.6 536.1h0M183.6 536.3h0M188.6 538.4h0M193.6 537.1h0M198.6 537.3h0M203.6 540.5h0M208.6 539.4h0M213.6 533h0M218.6 531.8h0M223.6 533.1h0M228.6 532.3h0M233.6 529.5h0M238.6 525.7h0M243.6 520.4h0M248.6 512.3h0M253.6 505.1h0M258.6 499.4h0M263.6 487.5h0M268.6 484h0M273.6 478.5h0M278.6 469.7h0M283.6 473h0M288.6 472.1h0M293.6 464.8h0M298.6 443.9h0M303.6 428.5h0M308.6 416.3h0M313.6 406.4h0M318.6 386.2h0M323.6 357.9h0M328.6 342.8h0M333.6 337.4h0M338.6 328.1h0M343.6 337.2h0M348.6 340.8h0M353.6 348.5h0M358.6 352.7h0M363.6 363.2h0M368.6 367.3h0M373.6 355.3h0M378.6 346.5h0M383.6 319h0M388.6 306.7h0M393.6 285.9h0M398.6 257.4h0M403.6 234.9h0M408.6 203.4h0M413.6 179.2h0M418.6 164.4h0M423.6 158.1h0M428.6 157.8h0M433.6 152.3h0M438.6 162.7h0M443.6 175.6h0M448.6 185.2h0M453.6 200.2h0M458.6 213.8h0M463.6 229.8h0M468.6 248.7h0M473.6 275.4h0M478.6 290.8h0M483.6 303.1h0M488.6 317.6h0M493.6 332.3h0M498.6 343.9h0M503.6 359.5h0M508.6 365.7h0M513.6 378.7h0M518.6 387.3h0M523.6 394.5h0M528.6 398.1h0M533.6 404.7h0M538.6 414.4h0M543.6 416.8h0M548.6 424.1h0M553.6 425.8h0M558.6 430.8h0M563.6 436.9h0M568.6 440.2h0M573.6 443h0M578.6 449.1h0M583.6 452.6h0M588.6 456.4h0M593.6 458h0M598.6 460.8h0M603.6 462.1h0M608.6 465.7h0M613.6 466.6h0M618.6 469.7h0M623.6 472.2h0M628.6 468.4h0M633.6 469.5h0M638.6 466h0M643.6 469.3h0M648.6 466.8h0M653.6 465.2h0M658.6 462.2h0M663.6 457h0M668.6 458.7h0M673.6 451.2h0M678.6 449.5h0M683.6 448.8h0M688.6 449.1h0M693.6 445.9h0" fill="none" stroke="#6699cc" stroke-width="8.4" stroke-linecap="round"/></g>
<g clip-path="url(#clb)"><path d="M821.3 534.8L826.3 536.8L831.3 535.7L836.3 538.1L841.3 541.7L846.3 542.2L851.3 540.6L856.3 541.8L861.3 539.6L866.3 541.3L871.3 539L876.3 535.9L881.3 537.8L886.3 536.7L891.3 536.5L896.3 534.2L901.3 536.7L906.3 533.9L911.3 534.9L916.3 535.1L921.3 536L926.3 536.4L931.3 540.2L936.3 539.9L941.3 536.3L946.3 538.9L951.3 535.4L956.3 537.5L961.3 534.9L966.3 534.4L971.3 534.5L976.3 533.6L981.3 534L986.3 531.5L991.3 530.3L996.3 533L1001.3 532.8L1006.3 534.9L1011.3 534.9L1016.3 530.9L1021.3 532L1026.3 533.3L1031.3 530.8L1036.3 532.9L1041.3 526.6L1046.3 527.8L1051.3 529.3L1056.3 529L1061.3 525.7L1066.3 523.6L1071.3 524.8L1076.3 522.6L1081.3 524L1086.3 521.4L1091.3 519L1096.3 517.5L1101.3 514.6L1106.3 508.9L1111.3 505.3L1116.3 499L1121.3 488.8L1126.3 470.1L1131.3 459L1136.3 452L1141.3 429.9L1146.3 420.8L1151.3 388.5L1156.3 339.5L1161.3 318.4L1166.3 274.2L1171.3 209.5L1176.3 153.4L1181.3 118.8L1186.3 93.5L1191.3 75.1L1196.3 64.7L1201.3 62.1L1206.3 60.2L1211.3 69.2L1216.3 84L1221.3 93.8L1226.3 115.8L1231.3 138.3L1236.3 156.1L1241.3 172.5L1246.3 200.1L1251.3 223.9L1256.3 246.3L1261.3 267.5L1266.3 282.3L1271.3 296L1276.3 304.7L1281.3 317.2L1286.3 333.5L1291.3 341.3L1296.3 353L1301.3 359L1306.3 367.6L1311.3 378.9L1316.3 383.4L1321.3 394.8L1326.3 400.2L1331.3 407L1336.3 413.8L1341.3 416.4L1346.3 425.3L1351.3 425.1L1356.3 434.9L1361.3 436.9L1366.3 440.8L1371.3 443.9L1376.3 446.4L1381.3 448.5L1386.3 450.4L1391.3 453.1L1396.3 452.8L1401.3 457.3L1406.3 458.2L1411.3 455.2L1416.3 456.3L1421.3 461.2L1426.3 459.8L1431.3 455.9L1436.3 455.4L1441.3 452.3L1480 330" fill="none" stroke="#555555" stroke-width="2.4" stroke-linejoin="round"/><path d="M821.3 534.8h0M826.3 536.8h0M831.3 535.7h0M836.3 538.1h0M841.3 541.7h0M846.3 542.2h0M851.3 540.6h0M856.3 541.8h0M861.3 539.6h0M866.3 541.3h0M871.3 539h0M876.3 535.9h0M881.3 537.8h0M886.3 536.7h0M891.3 536.5h0M896.3 534.2h0M901.3 536.7h0M906.3 533.9h0M911.3 534.9h0M916.3 535.1h0M921.3 536h0M926.3 536.4h0M931.3 540.2h0M936.3 539.9h0M941.3 536.3h0M946.3 538.9h0M951.3 535.4h0M956.3 537.5h0M961.3 534.9h0M966.3 534.4h0M971.3 534.5h0M976.3 533.6h0M981.3 534h0M986.3 531.5h0M991.3 530.3h0M996.3 533h0M1001.3 532.8h0M1006.3 534.9h0M1011.3 534.9h0M1016.3 530.9h0M1021.3 532h0M1026.3 533.3h0M1031.3 530.8h0M1036.3 532.9h0M1041.3 526.6h0M1046.3 527.8h0M1051.3 529.3h0M1056.3 529h0M1061.3 525.7h0M1066.3 523.6h0M1071.3 524.8h0M1076.3 522.6h0M1081.3 524h0M1086.3 521.4h0M1091.3 519h0M1096.3 517.5h0M1101.3 514.6h0M1106.3 508.9h0M1111.3 505.3h0M1116.3 499h0M1121.3 488.8h0M1126.3 470.1h0M1131.3 459h0M1136.3 452h0M1141.3 429.9h0M1146.3 420.8h0M1151.3 388.5h0M1156.3 339.5h0M1161.3 318.4h0M1166.3 274.2h0M1171.3 209.5h0M1176.3 153.4h0M1181.3 118.8h0M1186.3 93.5h0M1191.3 75.1h0M1196.3 64.7h0M1201.3 62.1h0M1206.3 60.2h0M1211.3 69.2h0M1216.3 84h0M1221.3 93.8h0M1226.3 115.8h0M1231.3 138.3h0M1236.3 156.1h0M1241.3 172.5h0M1246.3 200.1h0M1251.3 223.9h0M1256.3 246.3h0M1261.3 267.5h0M1266.3 282.3h0M1271.3 296h0M1276.3 304.7h0M1281.3 317.2h0M1286.3 333.5h0M1291.3 341.3h0M1296.3 353h0M1301.3 359h0M1306.3 367.6h0M1311.3 378.9h0M1316.3 383.4h0M1321.3 394.8h0M1326.3 400.2h0M1331.3 407h0M1336.3 413.8h0M1341.3 416.4h0M1346.3 425.3h0M1351.3 425.1h0M1356.3 434.9h0M1361.3 436.9h0M1366.3 440.8h0M1371.3 443.9h0M1376.3 446.4h0M1381.3 448.5h0M1386.3 450.4h0M1391.3 453.1h0M1396.3 452.8h0M1401.3 457.3h0M1406.3 458.2h0M1411.3 455.2h0M1416.3 456.3h0M1421.3 461.2h0M1426.3 459.8h0M1431.3 455.9h0M1436.3 455.4h0M1441.3 452.3h0" fill="none" stroke="#555555" stroke-width="8.4" stroke-linecap="round"/>
<path d="M821.3 538.1L826.3 538.3L831.3 538L836.3 537.7L841.3 541.2L846.3 543.4L851.3 539.6L856.3 541.1L861.3 535.7L866.3 537.5L871.3 534.8L876.3 536.2L881.3 536.9L886.3 538.4L891.3 536.9L896.3 539.3L901.3 536.9L906.3 536.4L911.3 538.8L916.3 540.7L921.3 540.9L926.3 537.1L931.3 537.8L936.3 536.7L941.3 536.6L946.3 537.4L951.3 532.7L956.3 530.2L961.3 533.9L966.3 532.8L971.3 531.9L976.3 527.8L981.3 529.6L986.3 529L991.3 532.9L996.3 528.3L1001.3 528L1006.3 527.7L1011.3 525.8L1016.3 517.3L1021.3 516.2L1026.3 501.3L1031.3 493.3L1036.3 487.8L1041.3 485.5L1046.3 485.4L1051.3 482.2L1056.3 474.1L1061.3 470.9L1066.3 463.3L1071.3 457L1076.3 450.8L1081.3 437.4L1086.3 419.6L1091.3 410.9L1096.3 402.4L1101.3 397.8L1106.3 391.4L1111.3 386.3L1116.3 385.6L1121.3 380.9L1126.3 375.2L1131.3 376.1L1136.3 368.9L1141.3 361.9L1146.3 366.5L1151.3 343.4L1156.3 318.3L1161.3 298.6L1166.3 270.1L1171.3 253.9L1176.3 232.3L1181.3 198.4L1186.3 164.4L1191.3 144L1196.3 130.9L1201.3 123.5L1206.3 131.3L1211.3 134.8L1216.3 143L1221.3 161.9L1226.3 170.6L1231.3 187.5L1236.3 205.1L1241.3 225.5L1246.3 241.2L1251.3 260.5L1256.3 278.8L1261.3 288.3L1266.3 299.4L1271.3 312.3L1276.3 328.3L1281.3 342.7L1286.3 352.6L1291.3 361.7L1296.3 374L1301.3 387.7L1306.3 399.2L1311.3 406.7L1316.3 413.3L1321.3 415.6L1326.3 423.4L1331.3 429.8L1336.3 433.9L1341.3 441.1L1346.3 443.7L1351.3 453.7L1356.3 460L1361.3 468L1366.3 472L1371.3 478.5L1376.3 479.4L1381.3 477.2L1386.3 479.1L1391.3 476.5L1396.3 479.3L1401.3 483.2L1406.3 482.1L1411.3 481.2L1416.3 483.2L1421.3 481.9L1426.3 480.1L1431.3 475.7L1436.3 473.6L1441.3 466.5L1480 330" fill="none" stroke="#ff00ff" stroke-width="2.4" stroke-linejoin="round"/><path d="M821.3 538.1h0M826.3 538.3h0M831.3 538h0M836.3 537.7h0M841.3 541.2h0M846.3 543.4h0M851.3 539.6h0M856.3 541.1h0M861.3 535.7h0M866.3 537.5h0M871.3 534.8h0M876.3 536.2h0M881.3 536.9h0M886.3 538.4h0M891.3 536.9h0M896.3 539.3h0M901.3 536.9h0M906.3 536.4h0M911.3 538.8h0M916.3 540.7h0M921.3 540.9h0M926.3 537.1h0M931.3 537.8h0M936.3 536.7h0M941.3 536.6h0M946.3 537.4h0M951.3 532.7h0M956.3 530.2h0M961.3 533.9h0M966.3 532.8h0M971.3 531.9h0M976.3 527.8h0M981.3 529.6h0M986.3 529h0M991.3 532.9h0M996.3 528.3h0M1001.3 528h0M1006.3 527.7h0M1011.3 525.8h0M1016.3 517.3h0M1021.3 516.2h0M1026.3 501.3h0M1031.3 493.3h0M1036.3 487.8h0M1041.3 485.5h0M1046.3 485.4h0M1051.3 482.2h0M1056.3 474.1h0M1061.3 470.9h0M1066.3 463.3h0M1071.3 457h0M1076.3 450.8h0M1081.3 437.4h0M1086.3 419.6h0M1091.3 410.9h0M1096.3 402.4h0M1101.3 397.8h0M1106.3 391.4h0M1111.3 386.3h0M1116.3 385.6h0M1121.3 380.9h0M1126.3 375.2h0M1131.3 376.1h0M1136.3 368.9h0M1141.3 361.9h0M1146.3 366.5h0M1151.3 343.4h0M1156.3 318.3h0M1161.3 298.6h0M1166.3 270.1h0M1171.3 253.9h0M1176.3 232.3h0M1181.3 198.4h0M1186.3 164.4h0M1191.3 144h0M1196.3 130.9h0M1201.3 123.5h0M1206.3 131.3h0M1211.3 134.8h0M1216.3 143h0M1221.3 161.9h0M1226.3 170.6h0M1231.3 187.5h0M1236.3 205.1h0M1241.3 225.5h0M1246.3 241.2h0M1251.3 260.5h0M1256.3 278.8h0M1261.3 288.3h0M1266.3 299.4h0M1271.3 312.3h0M1276.3 328.3h0M1281.3 342.7h0M1286.3 352.6h0M1291.3 361.7h0M1296.3 374h0M1301.3 387.7h0M1306.3 399.2h0M1311.3 406.7h0M1316.3 413.3h0M1321.3 415.6h0M1326.3 423.4h0M1331.3 429.8h0M1336.3 433.9h0M1341.3 441.1h0M1346.3 443.7h0M1351.3 453.7h0M1356.3 460h0M1361.3 468h0M1366.3 472h0M1371.3 478.5h0M1376.3 479.4h0M1381.3 477.2h0M1386.3 479.1h0M1391.3 476.5h0M1396.3 479.3h0M1401.3 483.2h0M1406.3 482.1h0M1411.3 481.2h0M1416.3 483.2h0M1421.3 481.9h0M1426.3 480.1h0M1431.3 475.7h0M1436.3 473.6h0M1441.3 466.5h0" fill="none" stroke="#ff00ff" stroke-width="8.4" stroke-linecap="round"/>
<path d="M821.3 533.8L826.3 537.9L831.3 536.8L836.3 535.3L841.3 539.5L846.3 539.6L851.3 541L856.3 539.9L861.3 540.6L866.3 540.8L871.3 537.9L876.3 536.3L881.3 540.5L886.3 535.5L891.3 537.3L896.3 539.1L901.3 535L906.3 534.3L911.3 535L916.3 534.3L921.3 537.9L926.3 536.1L931.3 535.4L936.3 538.5L941.3 536.6L946.3 535.8L951.3 534.4L956.3 538.2L961.3 534.7L966.3 534.8L971.3 532.2L976.3 532.2L981.3 525.8L986.3 527.2L991.3 526.6L996.3 521.9L1001.3 521.1L1006.3 519L1011.3 517.3L1016.3 509L1021.3 492.8L1026.3 485L1031.3 474.1L1036.3 471.2L1041.3 460.2L1046.3 459.3L1051.3 452.7L1056.3 451L1061.3 447.1L1066.3 439.8L1071.3 433.5L1076.3 422.9L1081.3 400.6L1086.3 381.4L1091.3 361.2L1096.3 332.9L1101.3 326.9L1106.3 327.3L1111.3 325.4L1116.3 321.3L1121.3 319.6L1126.3 323.9L1131.3 327.5L1136.3 324.5L1141.3 318.8L1146.3 314.4L1151.3 299.1L1156.3 282.9L1161.3 270.3L1166.3 247.4L1171.3 225.2L1176.3 197.7L1181.3 173.4L1186.3 156.1L1191.3 144.6L1196.3 140.7L1201.3 146.8L1206.3 149.6L1211.3 153L1216.3 155.8L1221.3 168L1226.3 182.2L1231.3 204.4L1236.3 227.8L1241.3 249.8L1246.3 261.8L1251.3 272.4L1256.3 288.2L1261.3 299.6L1266.3 310.8L1271.3 320.3L1276.3 329.9L1281.3 342.7L1286.3 356.6L1291.3 369.2L1296.3 377.7L1301.3 383.6L1306.3 397L1311.3 404.1L1316.3 407.7L1321.3 414.2L1326.3 417.1L1331.3 423L1336.3 425.4L1341.3 430.4L1346.3 440.1L1351.3 442.2L1356.3 449L1361.3 450.5L1366.3 453.9L1371.3 455.2L1376.3 462.1L1381.3 460.8L1386.3 464.2L1391.3 461.5L1396.3 463.1L1401.3 463.2L1406.3 467.6L1411.3 469L1416.3 467.9L1421.3 468.7L1426.3 467.1L1431.3 469.7L1436.3 462.8L1441.3 461L1480 330" fill="none" stroke="#1a6fdf" stroke-width="2.4" stroke-linejoin="round"/><path d="M821.3 533.8h0M826.3 537.9h0M831.3 536.8h0M836.3 535.3h0M841.3 539.5h0M846.3 539.6h0M851.3 541h0M856.3 539.9h0M861.3 540.6h0M866.3 540.8h0M871.3 537.9h0M876.3 536.3h0M881.3 540.5h0M886.3 535.5h0M891.3 537.3h0M896.3 539.1h0M901.3 535h0M906.3 534.3h0M911.3 535h0M916.3 534.3h0M921.3 537.9h0M926.3 536.1h0M931.3 535.4h0M936.3 538.5h0M941.3 536.6h0M946.3 535.8h0M951.3 534.4h0M956.3 538.2h0M961.3 534.7h0M966.3 534.8h0M971.3 532.2h0M976.3 532.2h0M981.3 525.8h0M986.3 527.2h0M991.3 526.6h0M996.3 521.9h0M1001.3 521.1h0M1006.3 519h0M1011.3 517.3h0M1016.3 509h0M1021.3 492.8h0M1026.3 485h0M1031.3 474.1h0M1036.3 471.2h0M1041.3 460.2h0M1046.3 459.3h0M1051.3 452.7h0M1056.3 451h0M1061.3 447.1h0M1066.3 439.8h0M1071.3 433.5h0M1076.3 422.9h0M1081.3 400.6h0M1086.3 381.4h0M1091.3 361.2h0M1096.3 332.9h0M1101.3 326.9h0M1106.3 327.3h0M1111.3 325.4h0M1116.3 321.3h0M1121.3 319.6h0M1126.3 323.9h0M1131.3 327.5h0M1136.3 324.5h0M1141.3 318.8h0M1146.3 314.4h0M1151.3 299.1h0M1156.3 282.9h0M1161.3 270.3h0M1166.3 247.4h0M1171.3 225.2h0M1176.3 197.7h0M1181.3 173.4h0M1186.3 156.1h0M1191.3 144.6h0M1196.3 140.7h0M1201.3 146.8h0M1206.3 149.6h0M1211.3 153h0M1216.3 155.8h0M1221.3 168h0M1226.3 182.2h0M1231.3 204.4h0M1236.3 227.8h0M1241.3 249.8h0M1246.3 261.8h0M1251.3 272.4h0M1256.3 288.2h0M1261.3 299.6h0M1266.3 310.8h0M1271.3 320.3h0M1276.3 329.9h0M1281.3 342.7h0M1286.3 356.6h0M1291.3 369.2h0M1296.3 377.7h0M1301.3 383.6h0M1306.3 397h0M1311.3 404.1h0M1316.3 407.7h0M1321.3 414.2h0M1326.3 417.1h0M1331.3 423h0M1336.3 425.4h0M1341.3 430.4h0M1346.3 440.1h0M1351.3 442.2h0M1356.3 449h0M1361.3 450.5h0M1366.3 453.9h0M1371.3 455.2h0M1376.3 462.1h0M1381.3 460.8h0M1386.3 464.2h0M1391.3 461.5h0M1396.3 463.1h0M1401.3 463.2h0M1406.3 467.6h0M1411.3 469h0M1416.3 467.9h0M1421.3 468.7h0M1426.3 467.1h0M1431.3 469.7h0M1436.3 462.8h0M1441.3 461h0" fill="none" stroke="#1a6fdf" stroke-width="8.4" stroke-linecap="round"/>
<path d="M821.3 536.9L826.3 535.5L831.3 538.7L836.3 536.6L841.3 539.1L846.3 538.8L851.3 540.2L856.3 536.6L861.3 540.7L866.3 535.2L871.3 534.6L876.3 538L881.3 539.8L886.3 539L891.3 538.7L896.3 534.8L901.3 534.9L906.3 535.3L911.3 534.9L916.3 534.5L921.3 535.4L926.3 536L931.3 535.9L936.3 538.4L941.3 538.4L946.3 534.3L951.3 536.2L956.3 537.1L961.3 532.8L966.3 537.3L971.3 532.8L976.3 529L981.3 524.9L986.3 524.6L991.3 519.5L996.3 515.9L1001.3 515.3L1006.3 505.9L1011.3 502.5L1016.3 500.1L1021.3 492.2L1026.3 479.3L1031.3 467.2L1036.3 450.7L1041.3 444.3L1046.3 439L1051.3 437.3L1056.3 431.6L1061.3 418.9L1066.3 411.8L1071.3 395.8L1076.3 378.5L1081.3 362.8L1086.3 346.3L1091.3 331.2L1096.3 315.7L1101.3 302.8L1106.3 302.7L1111.3 297.2L1116.3 294.1L1121.3 296.2L1126.3 299.6L1131.3 295.6L1136.3 285L1141.3 280.6L1146.3 278.8L1151.3 270.5L1156.3 254.5L1161.3 241.7L1166.3 219.7L1171.3 200.7L1176.3 180.2L1181.3 171.3L1186.3 162L1191.3 155.3L1196.3 148.3L1201.3 155L1206.3 159L1211.3 159.9L1216.3 170.8L1221.3 185.3L1226.3 194.3L1231.3 215.3L1236.3 233.8L1241.3 251.2L1246.3 264.9L1251.3 278.4L1256.3 284.5L1261.3 297.1L1266.3 310.6L1271.3 318.1L1276.3 332.3L1281.3 341.5L1286.3 355.8L1291.3 366.1L1296.3 374.2L1301.3 380.3L1306.3 393.4L1311.3 399.1L1316.3 407.1L1321.3 411.5L1326.3 416.6L1331.3 420.9L1336.3 428.3L1341.3 434.3L1346.3 438.4L1351.3 442.9L1356.3 444.4L1361.3 448.2L1366.3 454.3L1371.3 455.8L1376.3 461.1L1381.3 461.4L1386.3 464.7L1391.3 460L1396.3 465.8L1401.3 463L1406.3 465.7L1411.3 464L1416.3 463.7L1421.3 462.3L1426.3 463.9L1431.3 462.5L1436.3 457.3L1441.3 456.9L1480 330" fill="none" stroke="#008000" stroke-width="2.4" stroke-linejoin="round"/><path d="M821.3 536.9h0M826.3 535.5h0M831.3 538.7h0M836.3 536.6h0M841.3 539.1h0M846.3 538.8h0M851.3 540.2h0M856.3 536.6h0M861.3 540.7h0M866.3 535.2h0M871.3 534.6h0M876.3 538h0M881.3 539.8h0M886.3 539h0M891.3 538.7h0M896.3 534.8h0M901.3 534.9h0M906.3 535.3h0M911.3 534.9h0M916.3 534.5h0M921.3 535.4h0M926.3 536h0M931.3 535.9h0M936.3 538.4h0M941.3 538.4h0M946.3 534.3h0M951.3 536.2h0M956.3 537.1h0M961.3 532.8h0M966.3 537.3h0M971.3 532.8h0M976.3 529h0M981.3 524.9h0M986.3 524.6h0M991.3 519.5h0M996.3 515.9h0M1001.3 515.3h0M1006.3 505.9h0M1011.3 502.5h0M1016.3 500.1h0M1021.3 492.2h0M1026.3 479.3h0M1031.3 467.2h0M1036.3 450.7h0M1041.3 444.3h0M1046.3 439h0M1051.3 437.3h0M1056.3 431.6h0M1061.3 418.9h0M1066.3 411.8h0M1071.3 395.8h0M1076.3 378.5h0M1081.3 362.8h0M1086.3 346.3h0M1091.3 331.2h0M1096.3 315.7h0M1101.3 302.8h0M1106.3 302.7h0M1111.3 297.2h0M1116.3 294.1h0M1121.3 296.2h0M1126.3 299.6h0M1131.3 295.6h0M1136.3 285h0M1141.3 280.6h0M1146.3 278.8h0M1151.3 270.5h0M1156.3 254.5h0M1161.3 241.7h0M1166.3 219.7h0M1171.3 200.7h0M1176.3 180.2h0M1181.3 171.3h0M1186.3 162h0M1191.3 155.3h0M1196.3 148.3h0M1201.3 155h0M1206.3 159h0M1211.3 159.9h0M1216.3 170.8h0M1221.3 185.3h0M1226.3 194.3h0M1231.3 215.3h0M1236.3 233.8h0M1241.3 251.2h0M1246.3 264.9h0M1251.3 278.4h0M1256.3 284.5h0M1261.3 297.1h0M1266.3 310.6h0M1271.3 318.1h0M1276.3 332.3h0M1281.3 341.5h0M1286.3 355.8h0M1291.3 366.1h0M1296.3 374.2h0M1301.3 380.3h0M1306.3 393.4h0M1311.3 399.1h0M1316.3 407.1h0M1321.3 411.5h0M1326.3 416.6h0M1331.3 420.9h0M1336.3 428.3h0M1341.3 434.3h0M1346.3 438.4h0M1351.3 442.9h0M1356.3 444.4h0M1361.3 448.2h0M1366.3 454.3h0M1371.3 455.8h0M1376.3 461.1h0M1381.3 461.4h0M1386.3 464.7h0M1391.3 460h0M1396.3 465.8h0M1401.3 463h0M1406.3 465.7h0M1411.3 464h0M1416.3 463.7h0M1421.3 462.3h0M1426.3 463.9h0M1431.3 462.5h0M1436.3 457.3h0M1441.3 456.9h0" fill="none" stroke="#008000" stroke-width="8.4" stroke-linecap="round"/>
<path d="M821.3 536.2L826.3 538.8L831.3 538.9L836.3 539.8L841.3 542.9L846.3 540.5L851.3 544.3L856.3 541.2L861.3 538.1L866.3 540.8L871.3 536.8L876.3 540.3L881.3 538.1L886.3 534.8L891.3 538.6L896.3 534.7L901.3 538.2L906.3 533.1L911.3 535.1L916.3 537.4L921.3 536.1L926.3 537L931.3 535.9L936.3 538.3L941.3 539.1L946.3 535.3L951.3 536.3L956.3 534.4L961.3 534.2L966.3 534.7L971.3 529.3L976.3 525.1L981.3 523.1L986.3 521.4L991.3 520L996.3 516.9L1001.3 508.9L1006.3 499.8L1011.3 496.6L1016.3 484.5L1021.3 479.1L1026.3 468L1031.3 460.6L1036.3 450.2L1041.3 439.9L1046.3 425.1L1051.3 419.6L1056.3 423.7L1061.3 424.1L1066.3 417.4L1071.3 397.5L1076.3 375.7L1081.3 352.7L1086.3 321.9L1091.3 292.8L1096.3 281.8L1101.3 279.6L1106.3 279L1111.3 277.4L1116.3 276.6L1121.3 277.9L1126.3 282.4L1131.3 301.2L1136.3 301.8L1141.3 294L1146.3 288.8L1151.3 283.4L1156.3 272L1161.3 256.5L1166.3 239.6L1171.3 212.7L1176.3 190.2L1181.3 177.6L1186.3 164.1L1191.3 162.2L1196.3 159.5L1201.3 157.6L1206.3 154.9L1211.3 162.6L1216.3 169.9L1221.3 186L1226.3 205.5L1231.3 224.5L1236.3 240.9L1241.3 257.9L1246.3 269.9L1251.3 281.1L1256.3 290.7L1261.3 300.9L1266.3 310.3L1271.3 317.9L1276.3 331.3L1281.3 340.3L1286.3 353.2L1291.3 362.6L1296.3 375.3L1301.3 382.5L1306.3 392.3L1311.3 401L1316.3 407.9L1321.3 413.4L1326.3 415.5L1331.3 424.8L1336.3 426.5L1341.3 428.2L1346.3 435L1351.3 434.2L1356.3 441.7L1361.3 443.4L1366.3 450L1371.3 449L1376.3 457.6L1381.3 460.1L1386.3 462.9L1391.3 463.4L1396.3 464.9L1401.3 468.1L1406.3 467L1411.3 469.6L1416.3 466.5L1421.3 466.7L1426.3 465.4L1431.3 459.4L1436.3 457.5L1441.3 452.1L1480 330" fill="none" stroke="#b07ce0" stroke-width="2.4" stroke-linejoin="round"/><path d="M821.3 536.2h0M826.3 538.8h0M831.3 538.9h0M836.3 539.8h0M841.3 542.9h0M846.3 540.5h0M851.3 544.3h0M856.3 541.2h0M861.3 538.1h0M866.3 540.8h0M871.3 536.8h0M876.3 540.3h0M881.3 538.1h0M886.3 534.8h0M891.3 538.6h0M896.3 534.7h0M901.3 538.2h0M906.3 533.1h0M911.3 535.1h0M916.3 537.4h0M921.3 536.1h0M926.3 537h0M931.3 535.9h0M936.3 538.3h0M941.3 539.1h0M946.3 535.3h0M951.3 536.3h0M956.3 534.4h0M961.3 534.2h0M966.3 534.7h0M971.3 529.3h0M976.3 525.1h0M981.3 523.1h0M986.3 521.4h0M991.3 520h0M996.3 516.9h0M1001.3 508.9h0M1006.3 499.8h0M1011.3 496.6h0M1016.3 484.5h0M1021.3 479.1h0M1026.3 468h0M1031.3 460.6h0M1036.3 450.2h0M1041.3 439.9h0M1046.3 425.1h0M1051.3 419.6h0M1056.3 423.7h0M1061.3 424.1h0M1066.3 417.4h0M1071.3 397.5h0M1076.3 375.7h0M1081.3 352.7h0M1086.3 321.9h0M1091.3 292.8h0M1096.3 281.8h0M1101.3 279.6h0M1106.3 279h0M1111.3 277.4h0M1116.3 276.6h0M1121.3 277.9h0M1126.3 282.4h0M1131.3 301.2h0M1136.3 301.8h0M1141.3 294h0M1146.3 288.8h0M1151.3 283.4h0M1156.3 272h0M1161.3 256.5h0M1166.3 239.6h0M1171.3 212.7h0M1176.3 190.2h0M1181.3 177.6h0M1186.3 164.1h0M1191.3 162.2h0M1196.3 159.5h0M1201.3 157.6h0M1206.3 154.9h0M1211.3 162.6h0M1216.3 169.9h0M1221.3 186h0M1226.3 205.5h0M1231.3 224.5h0M1236.3 240.9h0M1241.3 257.9h0M1246.3 269.9h0M1251.3 281.1h0M1256.3 290.7h0M1261.3 300.9h0M1266.3 310.3h0M1271.3 317.9h0M1276.3 331.3h0M1281.3 340.3h0M1286.3 353.2h0M1291.3 362.6h0M1296.3 375.3h0M1301.3 382.5h0M1306.3 392.3h0M1311.3 401h0M1316.3 407.9h0M1321.3 413.4h0M1326.3 415.5h0M1331.3 424.8h0M1336.3 426.5h0M1341.3 428.2h0M1346.3 435h0M1351.3 434.2h0M1356.3 441.7h0M1361.3 443.4h0M1366.3 450h0M1371.3 449h0M1376.3 457.6h0M1381.3 460.1h0M1386.3 462.9h0M1391.3 463.4h0M1396.3 464.9h0M1401.3 468.1h0M1406.3 467h0M1411.3 469.6h0M1416.3 466.5h0M1421.3 466.7h0M1426.3 465.4h0M1431.3 459.4h0M1436.3 457.5h0M1441.3 452.1h0" fill="none" stroke="#b07ce0" stroke-width="8.4" stroke-linecap="round"/>
<path d="M821.3 534.8L826.3 537.6L831.3 541.1L836.3 542.7L841.3 543.9L846.3 545L851.3 539.9L856.3 539.5L861.3 540.1L866.3 539.7L871.3 536L876.3 538.5L881.3 535.4L886.3 537.2L891.3 536.7L896.3 534.6L901.3 535.3L906.3 537L911.3 536.6L916.3 535.8L921.3 540L926.3 537.3L931.3 537.4L936.3 535.7L941.3 539.8L946.3 537.4L951.3 536L956.3 533.8L961.3 530.5L966.3 528L971.3 527.6L976.3 525.1L981.3 523.4L986.3 514.8L991.3 511.3L996.3 507.9L1001.3 502.8L1006.3 494.1L1011.3 481.5L1016.3 470.1L1021.3 455.5L1026.3 441.9L1031.3 436.4L1036.3 432.9L1041.3 423.8L1046.3 419.2L1051.3 413.4L1056.3 405.9L1061.3 399.2L1066.3 390.9L1071.3 370.1L1076.3 342L1081.3 316.2L1086.3 292.8L1091.3 275.2L1096.3 265.1L1101.3 260.5L1106.3 255.2L1111.3 255.1L1116.3 255.7L1121.3 259.5L1126.3 261L1131.3 267.7L1136.3 267.5L1141.3 264.6L1146.3 268.1L1151.3 257.2L1156.3 244.5L1161.3 239.4L1166.3 233.4L1171.3 231.8L1176.3 228.4L1181.3 213.6L1186.3 201.6L1191.3 190.1L1196.3 183.6L1201.3 182.6L1206.3 182.2L1211.3 188L1216.3 196.8L1221.3 202.9L1226.3 220.2L1231.3 231.9L1236.3 242.7L1241.3 256.9L1246.3 266.4L1251.3 277.7L1256.3 286.6L1261.3 295.2L1266.3 305.3L1271.3 316.7L1276.3 332.1L1281.3 339.4L1286.3 356.3L1291.3 363.8L1296.3 374.9L1301.3 383.6L1306.3 396L1311.3 407.1L1316.3 410.4L1321.3 410.5L1326.3 416.8L1331.3 418.1L1336.3 421.2L1341.3 424.4L1346.3 430.3L1351.3 431.5L1356.3 439L1361.3 441.1L1366.3 443.5L1371.3 446.9L1376.3 455.4L1381.3 457.7L1386.3 461.9L1391.3 460.4L1396.3 464.8L1401.3 467.4L1406.3 466.1L1411.3 468.1L1416.3 465.4L1421.3 462.9L1426.3 465.1L1431.3 460.9L1436.3 458.3L1441.3 456.4L1480 330" fill="none" stroke="#cc9900" stroke-width="2.4" stroke-linejoin="round"/><path d="M821.3 534.8h0M826.3 537.6h0M831.3 541.1h0M836.3 542.7h0M841.3 543.9h0M846.3 545h0M851.3 539.9h0M856.3 539.5h0M861.3 540.1h0M866.3 539.7h0M871.3 536h0M876.3 538.5h0M881.3 535.4h0M886.3 537.2h0M891.3 536.7h0M896.3 534.6h0M901.3 535.3h0M906.3 537h0M911.3 536.6h0M916.3 535.8h0M921.3 540h0M926.3 537.3h0M931.3 537.4h0M936.3 535.7h0M941.3 539.8h0M946.3 537.4h0M951.3 536h0M956.3 533.8h0M961.3 530.5h0M966.3 528h0M971.3 527.6h0M976.3 525.1h0M981.3 523.4h0M986.3 514.8h0M991.3 511.3h0M996.3 507.9h0M1001.3 502.8h0M1006.3 494.1h0M1011.3 481.5h0M1016.3 470.1h0M1021.3 455.5h0M1026.3 441.9h0M1031.3 436.4h0M1036.3 432.9h0M1041.3 423.8h0M1046.3 419.2h0M1051.3 413.4h0M1056.3 405.9h0M1061.3 399.2h0M1066.3 390.9h0M1071.3 370.1h0M1076.3 342h0M1081.3 316.2h0M1086.3 292.8h0M1091.3 275.2h0M1096.3 265.1h0M1101.3 260.5h0M1106.3 255.2h0M1111.3 255.1h0M1116.3 255.7h0M1121.3 259.5h0M1126.3 261h0M1131.3 267.7h0M1136.3 267.5h0M1141.3 264.6h0M1146.3 268.1h0M1151.3 257.2h0M1156.3 244.5h0M1161.3 239.4h0M1166.3 233.4h0M1171.3 231.8h0M1176.3 228.4h0M1181.3 213.6h0M1186.3 201.6h0M1191.3 190.1h0M1196.3 183.6h0M1201.3 182.6h0M1206.3 182.2h0M1211.3 188h0M1216.3 196.8h0M1221.3 202.9h0M1226.3 220.2h0M1231.3 231.9h0M1236.3 242.7h0M1241.3 256.9h0M1246.3 266.4h0M1251.3 277.7h0M1256.3 286.6h0M1261.3 295.2h0M1266.3 305.3h0M1271.3 316.7h0M1276.3 332.1h0M1281.3 339.4h0M1286.3 356.3h0M1291.3 363.8h0M1296.3 374.9h0M1301.3 383.6h0M1306.3 396h0M1311.3 407.1h0M1316.3 410.4h0M1321.3 410.5h0M1326.3 416.8h0M1331.3 418.1h0M1336.3 421.2h0M1341.3 424.4h0M1346.3 430.3h0M1351.3 431.5h0M1356.3 439h0M1361.3 441.1h0M1366.3 443.5h0M1371.3 446.9h0M1376.3 455.4h0M1381.3 457.7h0M1386.3 461.9h0M1391.3 460.4h0M1396.3 464.8h0M1401.3 467.4h0M1406.3 466.1h0M1411.3 468.1h0M1416.3 465.4h0M1421.3 462.9h0M1426.3 465.1h0M1431.3 460.9h0M1436.3 458.3h0M1441.3 456.4h0" fill="none" stroke="#cc9900" stroke-width="8.4" stroke-linecap="round"/>
<path d="M821.3 537.5L826.3 539.4L831.3 541.4L836.3 538.9L841.3 539.6L846.3 543.2L851.3 540.8L856.3 542.1L861.3 542.3L866.3 537.1L871.3 537.9L876.3 536.5L881.3 537L886.3 540L891.3 535.6L896.3 536.3L901.3 534.9L906.3 534.5L911.3 534.1L916.3 533.6L921.3 537.8L926.3 537.2L931.3 534.9L936.3 536.4L941.3 536.4L946.3 531.7L951.3 533L956.3 529.1L961.3 529.1L966.3 528.6L971.3 526.2L976.3 523.6L981.3 518.9L986.3 515.3L991.3 514L996.3 508.1L1001.3 504.4L1006.3 493.3L1011.3 482.8L1016.3 467.7L1021.3 455.6L1026.3 444.3L1031.3 427.4L1036.3 414.3L1041.3 403.3L1046.3 403.4L1051.3 397.7L1056.3 391.6L1061.3 388.1L1066.3 375.7L1071.3 358.9L1076.3 331.8L1081.3 299L1086.3 264.8L1091.3 236.3L1096.3 224.8L1101.3 215.5L1106.3 213.9L1111.3 218.4L1116.3 224.9L1121.3 230.3L1126.3 237.9L1131.3 246L1136.3 249.5L1141.3 254L1146.3 251.3L1151.3 250.6L1156.3 243.5L1161.3 230.4L1166.3 216.9L1171.3 209.5L1176.3 206.3L1181.3 199L1186.3 196.3L1191.3 197.5L1196.3 196.6L1201.3 189.8L1206.3 189.3L1211.3 189.1L1216.3 193.9L1221.3 200.6L1226.3 213.1L1231.3 226.1L1236.3 241.4L1241.3 257.4L1246.3 267.5L1251.3 277.8L1256.3 291.7L1261.3 301.1L1266.3 307.1L1271.3 318.8L1276.3 326.2L1281.3 341.7L1286.3 348.3L1291.3 361L1296.3 371.2L1301.3 378.7L1306.3 390.8L1311.3 396.7L1316.3 402.2L1321.3 407.7L1326.3 413.6L1331.3 419.8L1336.3 425.8L1341.3 428L1346.3 431.3L1351.3 435.2L1356.3 443L1361.3 446.1L1366.3 449.3L1371.3 451.5L1376.3 454.3L1381.3 454.8L1386.3 458.9L1391.3 460.2L1396.3 460.1L1401.3 466.5L1406.3 466.4L1411.3 465.4L1416.3 463.3L1421.3 466.6L1426.3 467L1431.3 463.3L1436.3 459.6L1441.3 459.5L1480 330" fill="none" stroke="#00c8c8" stroke-width="2.4" stroke-linejoin="round"/><path d="M821.3 537.5h0M826.3 539.4h0M831.3 541.4h0M836.3 538.9h0M841.3 539.6h0M846.3 543.2h0M851.3 540.8h0M856.3 542.1h0M861.3 542.3h0M866.3 537.1h0M871.3 537.9h0M876.3 536.5h0M881.3 537h0M886.3 540h0M891.3 535.6h0M896.3 536.3h0M901.3 534.9h0M906.3 534.5h0M911.3 534.1h0M916.3 533.6h0M921.3 537.8h0M926.3 537.2h0M931.3 534.9h0M936.3 536.4h0M941.3 536.4h0M946.3 531.7h0M951.3 533h0M956.3 529.1h0M961.3 529.1h0M966.3 528.6h0M971.3 526.2h0M976.3 523.6h0M981.3 518.9h0M986.3 515.3h0M991.3 514h0M996.3 508.1h0M1001.3 504.4h0M1006.3 493.3h0M1011.3 482.8h0M1016.3 467.7h0M1021.3 455.6h0M1026.3 444.3h0M1031.3 427.4h0M1036.3 414.3h0M1041.3 403.3h0M1046.3 403.4h0M1051.3 397.7h0M1056.3 391.6h0M1061.3 388.1h0M1066.3 375.7h0M1071.3 358.9h0M1076.3 331.8h0M1081.3 299h0M1086.3 264.8h0M1091.3 236.3h0M1096.3 224.8h0M1101.3 215.5h0M1106.3 213.9h0M1111.3 218.4h0M1116.3 224.9h0M1121.3 230.3h0M1126.3 237.9h0M1131.3 246h0M1136.3 249.5h0M1141.3 254h0M1146.3 251.3h0M1151.3 250.6h0M1156.3 243.5h0M1161.3 230.4h0M1166.3 216.9h0M1171.3 209.5h0M1176.3 206.3h0M1181.3 199h0M1186.3 196.3h0M1191.3 197.5h0M1196.3 196.6h0M1201.3 189.8h0M1206.3 189.3h0M1211.3 189.1h0M1216.3 193.9h0M1221.3 200.6h0M1226.3 213.1h0M1231.3 226.1h0M1236.3 241.4h0M1241.3 257.4h0M1246.3 267.5h0M1251.3 277.8h0M1256.3 291.7h0M1261.3 301.1h0M1266.3 307.1h0M1271.3 318.8h0M1276.3 326.2h0M1281.3 341.7h0M1286.3 348.3h0M1291.3 361h0M1296.3 371.2h0M1301.3 378.7h0M1306.3 390.8h0M1311.3 396.7h0M1316.3 402.2h0M1321.3 407.7h0M1326.3 413.6h0M1331.3 419.8h0M1336.3 425.8h0M1341.3 428h0M1346.3 431.3h0M1351.3 435.2h0M1356.3 443h0M1361.3 446.1h0M1366.3 449.3h0M1371.3 451.5h0M1376.3 454.3h0M1381.3 454.8h0M1386.3 458.9h0M1391.3 460.2h0M1396.3 460.1h0M1401.3 466.5h0M1406.3 466.4h0M1411.3 465.4h0M1416.3 463.3h0M1421.3 466.6h0M1426.3 467h0M1431.3 463.3h0M1436.3 459.6h0M1441.3 459.5h0" fill="none" stroke="#00c8c8" stroke-width="8.4" stroke-linecap="round"/>
<path d="M821.3 536.2L826.3 540.1L831.3 537.2L836.3 542.6L841.3 540.6L846.3 543.1L851.3 543.8L856.3 539.6L861.3 540.7L866.3 541L871.3 537.7L876.3 535.3L881.3 533.9L886.3 538.3L891.3 534.5L896.3 538L901.3 536.8L906.3 535.1L911.3 536.9L916.3 537.2L921.3 538.6L926.3 536.2L931.3 537.1L936.3 535.5L941.3 532L946.3 533.7L951.3 530.2L956.3 531L961.3 530.5L966.3 529L971.3 525.2L976.3 521L981.3 512.8L986.3 511L991.3 507L996.3 500.2L1001.3 492.9L1006.3 481L1011.3 467L1016.3 456.2L1021.3 443.7L1026.3 428.9L1031.3 422.8L1036.3 411.6L1041.3 404.8L1046.3 399.7L1051.3 399.4L1056.3 392L1061.3 390L1066.3 381L1071.3 354.7L1076.3 327.3L1081.3 299.4L1086.3 271.8L1091.3 252.3L1096.3 235.6L1101.3 225.9L1106.3 216.2L1111.3 225.2L1116.3 231.4L1121.3 228.2L1126.3 228.9L1131.3 230.4L1136.3 242.8L1141.3 255L1146.3 255.9L1151.3 261.5L1156.3 252.9L1161.3 229.9L1166.3 208.2L1171.3 196.6L1176.3 201L1181.3 196.2L1186.3 197L1191.3 197.4L1196.3 182.8L1201.3 175.4L1206.3 181.1L1211.3 183.9L1216.3 192.9L1221.3 201.9L1226.3 215.3L1231.3 226.7L1236.3 240.4L1241.3 254.4L1246.3 263.8L1251.3 277L1256.3 288.4L1261.3 296.8L1266.3 308.3L1271.3 322.2L1276.3 329.3L1281.3 340.9L1286.3 352L1291.3 364.6L1296.3 374.3L1301.3 380.1L1306.3 386.9L1311.3 396.5L1316.3 399.8L1321.3 408.3L1326.3 409.4L1331.3 414.5L1336.3 421.1L1341.3 426L1346.3 430.6L1351.3 436.6L1356.3 438.1L1361.3 444.2L1366.3 447.6L1371.3 449.7L1376.3 451L1381.3 455.5L1386.3 452.3L1391.3 456.2L1396.3 459.2L1401.3 461.1L1406.3 460.7L1411.3 463.9L1416.3 464.6L1421.3 464.7L1426.3 464.7L1431.3 462.3L1436.3 457.3L1441.3 452.5L1480 330" fill="none" stroke="#7a5050" stroke-width="2.4" stroke-linejoin="round"/><path d="M821.3 536.2h0M826.3 540.1h0M831.3 537.2h0M836.3 542.6h0M841.3 540.6h0M846.3 543.1h0M851.3 543.8h0M856.3 539.6h0M861.3 540.7h0M866.3 541h0M871.3 537.7h0M876.3 535.3h0M881.3 533.9h0M886.3 538.3h0M891.3 534.5h0M896.3 538h0M901.3 536.8h0M906.3 535.1h0M911.3 536.9h0M916.3 537.2h0M921.3 538.6h0M926.3 536.2h0M931.3 537.1h0M936.3 535.5h0M941.3 532h0M946.3 533.7h0M951.3 530.2h0M956.3 531h0M961.3 530.5h0M966.3 529h0M971.3 525.2h0M976.3 521h0M981.3 512.8h0M986.3 511h0M991.3 507h0M996.3 500.2h0M1001.3 492.9h0M1006.3 481h0M1011.3 467h0M1016.3 456.2h0M1021.3 443.7h0M1026.3 428.9h0M1031.3 422.8h0M1036.3 411.6h0M1041.3 404.8h0M1046.3 399.7h0M1051.3 399.4h0M1056.3 392h0M1061.3 390h0M1066.3 381h0M1071.3 354.7h0M1076.3 327.3h0M1081.3 299.4h0M1086.3 271.8h0M1091.3 252.3h0M1096.3 235.6h0M1101.3 225.9h0M1106.3 216.2h0M1111.3 225.2h0M1116.3 231.4h0M1121.3 228.2h0M1126.3 228.9h0M1131.3 230.4h0M1136.3 242.8h0M1141.3 255h0M1146.3 255.9h0M1151.3 261.5h0M1156.3 252.9h0M1161.3 229.9h0M1166.3 208.2h0M1171.3 196.6h0M1176.3 201h0M1181.3 196.2h0M1186.3 197h0M1191.3 197.4h0M1196.3 182.8h0M1201.3 175.4h0M1206.3 181.1h0M1211.3 183.9h0M1216.3 192.9h0M1221.3 201.9h0M1226.3 215.3h0M1231.3 226.7h0M1236.3 240.4h0M1241.3 254.4h0M1246.3 263.8h0M1251.3 277h0M1256.3 288.4h0M1261.3 296.8h0M1266.3 308.3h0M1271.3 322.2h0M1276.3 329.3h0M1281.3 340.9h0M1286.3 352h0M1291.3 364.6h0M1296.3 374.3h0M1301.3 380.1h0M1306.3 386.9h0M1311.3 396.5h0M1316.3 399.8h0M1321.3 408.3h0M1326.3 409.4h0M1331.3 414.5h0M1336.3 421.1h0M1341.3 426h0M1346.3 430.6h0M1351.3 436.6h0M1356.3 438.1h0M1361.3 444.2h0M1366.3 447.6h0M1371.3 449.7h0M1376.3 451h0M1381.3 455.5h0M1386.3 452.3h0M1391.3 456.2h0M1396.3 459.2h0M1401.3 461.1h0M1406.3 460.7h0M1411.3 463.9h0M1416.3 464.6h0M1421.3 464.7h0M1426.3 464.7h0M1431.3 462.3h0M1436.3 457.3h0M1441.3 452.5h0" fill="none" stroke="#7a5050" stroke-width="8.4" stroke-linecap="round"/>
<path d="M821.3 538L826.3 534.8L831.3 539.8L836.3 535.9L841.3 538L846.3 535.6L851.3 536L856.3 537.7L861.3 538.9L866.3 535.7L871.3 535.3L876.3 535.4L881.3 538.6L886.3 538.4L891.3 537.1L896.3 537.9L901.3 540.2L906.3 540.3L911.3 539.9L916.3 539.8L921.3 536.7L926.3 535.4L931.3 537.9L936.3 536.2L941.3 535.2L946.3 531.1L951.3 530.6L956.3 533.5L961.3 529L966.3 529.5L971.3 527.9L976.3 523.2L981.3 520.4L986.3 512.4L991.3 511.5L996.3 506.1L1001.3 502.3L1006.3 487.4L1011.3 478.6L1016.3 463.2L1021.3 449.7L1026.3 437.6L1031.3 421.1L1036.3 410.8L1041.3 397.1L1046.3 397.7L1051.3 396.1L1056.3 391.3L1061.3 384.7L1066.3 370.6L1071.3 352.7L1076.3 328.8L1081.3 296.6L1086.3 257.7L1091.3 229.2L1096.3 222.2L1101.3 218.2L1106.3 212.7L1111.3 216.7L1116.3 216.2L1121.3 221.2L1126.3 238L1131.3 246.6L1136.3 258.1L1141.3 265.4L1146.3 271.6L1151.3 262.4L1156.3 254.3L1161.3 241.9L1166.3 226.9L1171.3 211.8L1176.3 201.8L1181.3 182.2L1186.3 181.3L1191.3 184.8L1196.3 189.6L1201.3 195.7L1206.3 200.9L1211.3 208.2L1216.3 209.1L1221.3 220.7L1226.3 231.3L1231.3 247.1L1236.3 257.9L1241.3 271.9L1246.3 286.9L1251.3 296.9L1256.3 308.4L1261.3 318.3L1266.3 330.9L1271.3 341.9L1276.3 346.7L1281.3 357.4L1286.3 366.4L1291.3 375.6L1296.3 380.5L1301.3 387.1L1306.3 394.8L1311.3 402.9L1316.3 406.7L1321.3 408.8L1326.3 412.4L1331.3 420.7L1336.3 422.3L1341.3 430.2L1346.3 434.1L1351.3 441.1L1356.3 440.5L1361.3 444.8L1366.3 447.6L1371.3 455.3L1376.3 455.9L1381.3 456.8L1386.3 457.8L1391.3 460.9L1396.3 462.9L1401.3 461.9L1406.3 464.9L1411.3 462.6L1416.3 465.5L1421.3 464.6L1426.3 462.5L1431.3 461.5L1436.3 459.6L1441.3 453.3L1480 330" fill="none" stroke="#8c8c00" stroke-width="2.4" stroke-linejoin="round"/><path d="M821.3 538h0M826.3 534.8h0M831.3 539.8h0M836.3 535.9h0M841.3 538h0M846.3 535.6h0M851.3 536h0M856.3 537.7h0M861.3 538.9h0M866.3 535.7h0M871.3 535.3h0M876.3 535.4h0M881.3 538.6h0M886.3 538.4h0M891.3 537.1h0M896.3 537.9h0M901.3 540.2h0M906.3 540.3h0M911.3 539.9h0M916.3 539.8h0M921.3 536.7h0M926.3 535.4h0M931.3 537.9h0M936.3 536.2h0M941.3 535.2h0M946.3 531.1h0M951.3 530.6h0M956.3 533.5h0M961.3 529h0M966.3 529.5h0M971.3 527.9h0M976.3 523.2h0M981.3 520.4h0M986.3 512.4h0M991.3 511.5h0M996.3 506.1h0M1001.3 502.3h0M1006.3 487.4h0M1011.3 478.6h0M1016.3 463.2h0M1021.3 449.7h0M1026.3 437.6h0M1031.3 421.1h0M1036.3 410.8h0M1041.3 397.1h0M1046.3 397.7h0M1051.3 396.1h0M1056.3 391.3h0M1061.3 384.7h0M1066.3 370.6h0M1071.3 352.7h0M1076.3 328.8h0M1081.3 296.6h0M1086.3 257.7h0M1091.3 229.2h0M1096.3 222.2h0M1101.3 218.2h0M1106.3 212.7h0M1111.3 216.7h0M1116.3 216.2h0M1121.3 221.2h0M1126.3 238h0M1131.3 246.6h0M1136.3 258.1h0M1141.3 265.4h0M1146.3 271.6h0M1151.3 262.4h0M1156.3 254.3h0M1161.3 241.9h0M1166.3 226.9h0M1171.3 211.8h0M1176.3 201.8h0M1181.3 182.2h0M1186.3 181.3h0M1191.3 184.8h0M1196.3 189.6h0M1201.3 195.7h0M1206.3 200.9h0M1211.3 208.2h0M1216.3 209.1h0M1221.3 220.7h0M1226.3 231.3h0M1231.3 247.1h0M1236.3 257.9h0M1241.3 271.9h0M1246.3 286.9h0M1251.3 296.9h0M1256.3 308.4h0M1261.3 318.3h0M1266.3 330.9h0M1271.3 341.9h0M1276.3 346.7h0M1281.3 357.4h0M1286.3 366.4h0M1291.3 375.6h0M1296.3 380.5h0M1301.3 387.1h0M1306.3 394.8h0M1311.3 402.9h0M1316.3 406.7h0M1321.3 408.8h0M1326.3 412.4h0M1331.3 420.7h0M1336.3 422.3h0M1341.3 430.2h0M1346.3 434.1h0M1351.3 441.1h0M1356.3 440.5h0M1361.3 444.8h0M1366.3 447.6h0M1371.3 455.3h0M1376.3 455.9h0M1381.3 456.8h0M1386.3 457.8h0M1391.3 460.9h0M1396.3 462.9h0M1401.3 461.9h0M1406.3 464.9h0M1411.3 462.6h0M1416.3 465.5h0M1421.3 464.6h0M1426.3 462.5h0M1431.3 461.5h0M1436.3 459.6h0M1441.3 453.3h0" fill="none" stroke="#8c8c00" stroke-width="8.4" stroke-linecap="round"/>
<path d="M821.3 538L826.3 540L831.3 540.6L836.3 539.2L841.3 538.4L846.3 537.9L851.3 538.6L856.3 536.4L861.3 536.3L866.3 537.9L871.3 537L876.3 539L881.3 535L886.3 534.7L891.3 535L896.3 536.5L901.3 534.9L906.3 538.4L911.3 537.2L916.3 539.4L921.3 535.2L926.3 538.9L931.3 535L936.3 536.5L941.3 535.9L946.3 531.9L951.3 531.2L956.3 528.7L961.3 531.6L966.3 530.1L971.3 529.4L976.3 524L981.3 521L986.3 523L991.3 518.3L996.3 520L1001.3 512.4L1006.3 493.5L1011.3 480.9L1016.3 464.1L1021.3 442.7L1026.3 424.9L1031.3 404.4L1036.3 386.9L1041.3 385.2L1046.3 382.5L1051.3 379.3L1056.3 366.1L1061.3 355L1066.3 339.7L1071.3 318L1076.3 299L1081.3 276.5L1086.3 247.6L1091.3 214.5L1096.3 203.5L1101.3 194.9L1106.3 195.6L1111.3 205.4L1116.3 209.1L1121.3 223.7L1126.3 232.1L1131.3 245.8L1136.3 256L1141.3 252.4L1146.3 246.4L1151.3 243.7L1156.3 237.9L1161.3 228.7L1166.3 226L1171.3 222.1L1176.3 214.9L1181.3 204.5L1186.3 194.6L1191.3 190.9L1196.3 182.6L1201.3 183.3L1206.3 192.8L1211.3 194.1L1216.3 203.6L1221.3 215.6L1226.3 229.7L1231.3 238.8L1236.3 249.7L1241.3 260.8L1246.3 266L1251.3 275.6L1256.3 289.3L1261.3 299.1L1266.3 310L1271.3 315.6L1276.3 330.4L1281.3 342L1286.3 353.4L1291.3 359.9L1296.3 367.5L1301.3 379.9L1306.3 390.4L1311.3 396.1L1316.3 405.6L1321.3 406.3L1326.3 415.9L1331.3 419.3L1336.3 424.5L1341.3 425.5L1346.3 426.8L1351.3 434.3L1356.3 434.5L1361.3 439.1L1366.3 442.7L1371.3 441.2L1376.3 448.5L1381.3 448.2L1386.3 449.3L1391.3 453.8L1396.3 451.9L1401.3 454.6L1406.3 454.3L1411.3 453.9L1416.3 453.3L1421.3 450.8L1426.3 450.1L1431.3 448.7L1436.3 448.5L1441.3 446.2L1480 330" fill="none" stroke="#ff6400" stroke-width="2.4" stroke-linejoin="round"/><path d="M821.3 538h0M826.3 540h0M831.3 540.6h0M836.3 539.2h0M841.3 538.4h0M846.3 537.9h0M851.3 538.6h0M856.3 536.4h0M861.3 536.3h0M866.3 537.9h0M871.3 537h0M876.3 539h0M881.3 535h0M886.3 534.7h0M891.3 535h0M896.3 536.5h0M901.3 534.9h0M906.3 538.4h0M911.3 537.2h0M916.3 539.4h0M921.3 535.2h0M926.3 538.9h0M931.3 535h0M936.3 536.5h0M941.3 535.9h0M946.3 531.9h0M951.3 531.2h0M956.3 528.7h0M961.3 531.6h0M966.3 530.1h0M971.3 529.4h0M976.3 524h0M981.3 521h0M986.3 523h0M991.3 518.3h0M996.3 520h0M1001.3 512.4h0M1006.3 493.5h0M1011.3 480.9h0M1016.3 464.1h0M1021.3 442.7h0M1026.3 424.9h0M1031.3 404.4h0M1036.3 386.9h0M1041.3 385.2h0M1046.3 382.5h0M1051.3 379.3h0M1056.3 366.1h0M1061.3 355h0M1066.3 339.7h0M1071.3 318h0M1076.3 299h0M1081.3 276.5h0M1086.3 247.6h0M1091.3 214.5h0M1096.3 203.5h0M1101.3 194.9h0M1106.3 195.6h0M1111.3 205.4h0M1116.3 209.1h0M1121.3 223.7h0M1126.3 232.1h0M1131.3 245.8h0M1136.3 256h0M1141.3 252.4h0M1146.3 246.4h0M1151.3 243.7h0M1156.3 237.9h0M1161.3 228.7h0M1166.3 226h0M1171.3 222.1h0M1176.3 214.9h0M1181.3 204.5h0M1186.3 194.6h0M1191.3 190.9h0M1196.3 182.6h0M1201.3 183.3h0M1206.3 192.8h0M1211.3 194.1h0M1216.3 203.6h0M1221.3 215.6h0M1226.3 229.7h0M1231.3 238.8h0M1236.3 249.7h0M1241.3 260.8h0M1246.3 266h0M1251.3 275.6h0M1256.3 289.3h0M1261.3 299.1h0M1266.3 310h0M1271.3 315.6h0M1276.3 330.4h0M1281.3 342h0M1286.3 353.4h0M1291.3 359.9h0M1296.3 367.5h0M1301.3 379.9h0M1306.3 390.4h0M1311.3 396.1h0M1316.3 405.6h0M1321.3 406.3h0M1326.3 415.9h0M1331.3 419.3h0M1336.3 424.5h0M1341.3 425.5h0M1346.3 426.8h0M1351.3 434.3h0M1356.3 434.5h0M1361.3 439.1h0M1366.3 442.7h0M1371.3 441.2h0M1376.3 448.5h0M1381.3 448.2h0M1386.3 449.3h0M1391.3 453.8h0M1396.3 451.9h0M1401.3 454.6h0M1406.3 454.3h0M1411.3 453.9h0M1416.3 453.3h0M1421.3 450.8h0M1426.3 450.1h0M1431.3 448.7h0M1436.3 448.5h0M1441.3 446.2h0" fill="none" stroke="#ff6400" stroke-width="8.4" stroke-linecap="round"/>
<path d="M821.3 535.5L826.3 537.9L831.3 535.6L836.3 542.3L841.3 542.8L846.3 544.3L851.3 545.2L856.3 541.8L861.3 543.3L866.3 541.1L871.3 536.3L876.3 538.2L881.3 536.4L886.3 536.7L891.3 536.2L896.3 535.1L901.3 535.2L906.3 537.7L911.3 534.5L916.3 535.6L921.3 539.5L926.3 540.5L931.3 542.3L936.3 539.8L941.3 537.4L946.3 537.6L951.3 531.2L956.3 529.6L961.3 531.5L966.3 528L971.3 524.9L976.3 521.5L981.3 518L986.3 517.5L991.3 514.3L996.3 512.3L1001.3 509.2L1006.3 496.9L1011.3 490.6L1016.3 476.4L1021.3 462.8L1026.3 448L1031.3 429L1036.3 411L1041.3 401.2L1046.3 395.6L1051.3 391.7L1056.3 386.9L1061.3 375.8L1066.3 370.1L1071.3 352.9L1076.3 327.5L1081.3 301.8L1086.3 271.1L1091.3 242.3L1096.3 218.6L1101.3 205.9L1106.3 194.1L1111.3 191.6L1116.3 197.5L1121.3 205.6L1126.3 209.8L1131.3 211.8L1136.3 225.5L1141.3 232.2L1146.3 227L1151.3 226.8L1156.3 220L1161.3 212.9L1166.3 205.8L1171.3 195.1L1176.3 187.3L1181.3 182.5L1186.3 182.1L1191.3 178.3L1196.3 175.9L1201.3 177.3L1206.3 180.8L1211.3 185.3L1216.3 194.7L1221.3 202.8L1226.3 217.1L1231.3 233.4L1236.3 247.4L1241.3 255.5L1246.3 259L1251.3 272.2L1256.3 278.1L1261.3 292.9L1266.3 303.9L1271.3 310.5L1276.3 323.3L1281.3 332.4L1286.3 345L1291.3 350.6L1296.3 361.1L1301.3 369.8L1306.3 378L1311.3 387.7L1316.3 392L1321.3 397.9L1326.3 402.5L1331.3 406.4L1336.3 406.5L1341.3 414.2L1346.3 415L1351.3 415.3L1356.3 419.8L1361.3 421.6L1366.3 418.5L1371.3 422.5L1376.3 423.1L1381.3 429.4L1386.3 430.1L1391.3 429.8L1396.3 434.5L1401.3 438.6L1406.3 439.8L1411.3 441.6L1416.3 442.9L1421.3 440.1L1426.3 437.1L1431.3 434.5L1436.3 426.2L1441.3 419.9L1446.3 416.4L1480 345" fill="none" stroke="#6699cc" stroke-width="2.4" stroke-linejoin="round"/><path d="M821.3 535.5h0M826.3 537.9h0M831.3 535.6h0M836.3 542.3h0M841.3 542.8h0M846.3 544.3h0M851.3 545.2h0M856.3 541.8h0M861.3 543.3h0M866.3 541.1h0M871.3 536.3h0M876.3 538.2h0M881.3 536.4h0M886.3 536.7h0M891.3 536.2h0M896.3 535.1h0M901.3 535.2h0M906.3 537.7h0M911.3 534.5h0M916.3 535.6h0M921.3 539.5h0M926.3 540.5h0M931.3 542.3h0M936.3 539.8h0M941.3 537.4h0M946.3 537.6h0M951.3 531.2h0M956.3 529.6h0M961.3 531.5h0M966.3 528h0M971.3 524.9h0M976.3 521.5h0M981.3 518h0M986.3 517.5h0M991.3 514.3h0M996.3 512.3h0M1001.3 509.2h0M1006.3 496.9h0M1011.3 490.6h0M1016.3 476.4h0M1021.3 462.8h0M1026.3 448h0M1031.3 429h0M1036.3 411h0M1041.3 401.2h0M1046.3 395.6h0M1051.3 391.7h0M1056.3 386.9h0M1061.3 375.8h0M1066.3 370.1h0M1071.3 352.9h0M1076.3 327.5h0M1081.3 301.8h0M1086.3 271.1h0M1091.3 242.3h0M1096.3 218.6h0M1101.3 205.9h0M1106.3 194.1h0M1111.3 191.6h0M1116.3 197.5h0M1121.3 205.6h0M1126.3 209.8h0M1131.3 211.8h0M1136.3 225.5h0M1141.3 232.2h0M1146.3 227h0M1151.3 226.8h0M1156.3 220h0M1161.3 212.9h0M1166.3 205.8h0M1171.3 195.1h0M1176.3 187.3h0M1181.3 182.5h0M1186.3 182.1h0M1191.3 178.3h0M1196.3 175.9h0M1201.3 177.3h0M1206.3 180.8h0M1211.3 185.3h0M1216.3 194.7h0M1221.3 202.8h0M1226.3 217.1h0M1231.3 233.4h0M1236.3 247.4h0M1241.3 255.5h0M1246.3 259h0M1251.3 272.2h0M1256.3 278.1h0M1261.3 292.9h0M1266.3 303.9h0M1271.3 310.5h0M1276.3 323.3h0M1281.3 332.4h0M1286.3 345h0M1291.3 350.6h0M1296.3 361.1h0M1301.3 369.8h0M1306.3 378h0M1311.3 387.7h0M1316.3 392h0M1321.3 397.9h0M1326.3 402.5h0M1331.3 406.4h0M1336.3 406.5h0M1341.3 414.2h0M1346.3 415h0M1351.3 415.3h0M1356.3 419.8h0M1361.3 421.6h0M1366.3 418.5h0M1371.3 422.5h0M1376.3 423.1h0M1381.3 429.4h0M1386.3 430.1h0M1391.3 429.8h0M1396.3 434.5h0M1401.3 438.6h0M1406.3 439.8h0M1411.3 441.6h0M1416.3 442.9h0M1421.3 440.1h0M1426.3 437.1h0M1431.3 434.5h0M1436.3 426.2h0M1441.3 419.9h0M1446.3 416.4h0" fill="none" stroke="#6699cc" stroke-width="8.4" stroke-linecap="round"/></g>
<g clip-path="url(#clc)"><path d="M48.6 922.9L55.8 923.4L63 924.6L70.2 923.5L77.4 923.9L84.6 924.3L91.8 923.4L99 924.5L106.2 924.6L113.4 924.7L120.6 922.3L127.8 922.6L135 921.6L142.2 923.3L149.4 922.6L156.6 920.2L163.8 922.2L171 921.6L178.2 920.2L185.4 919.5L192.6 917.6L199.8 916.7L207 916.9L214.2 914.5L221.4 913.6L228.6 912.6L235.8 910.8L243 908.4L250.2 904.2L257.4 889.3L264.6 871.7L271.8 856.6L279 851L286.2 848.9L293.4 845.6L300.6 839.3L307.8 828.4L315 808.4L322.2 789L329.4 769.1L336.6 757.5L343.8 747.3L351 751.1L358.2 754.1L365.4 760.8L372.6 764.6L379.8 767.5L387 762L394.2 759.3L401.4 753.4L408.6 745.5L415.8 742.5L423 741.9L430.2 738.1L437.4 739.7L444.6 740.7L451.8 743.3L459 751.6L466.2 758.7L473.4 768.5L480.6 779.2L487.8 787.7L495 797.4L502.2 804.2L509.4 808.1L516.6 814.2L523.8 819.2L531 824.1L538.2 831.2L545.4 833.7L552.6 838.8L559.8 842.4L567 846.6L574.2 853.1L581.4 856.3L588.6 860.9L595.8 862.7L603 866.3L610.2 867.5L617.4 869.5L624.6 872.5L631.8 872.4L639 871.4L646.2 872L653.4 868.7L660.6 867.8L667.8 865.4L675 861.9L682.2 858.3L689.4 856.3L696.6 848.1" fill="none" stroke="#000000" stroke-width="2.4" stroke-linejoin="round"/><path d="M48.6 922.9h0M55.8 923.4h0M63 924.6h0M70.2 923.5h0M77.4 923.9h0M84.6 924.3h0M91.8 923.4h0M99 924.5h0M106.2 924.6h0M113.4 924.7h0M120.6 922.3h0M127.8 922.6h0M135 921.6h0M142.2 923.3h0M149.4 922.6h0M156.6 920.2h0M163.8 922.2h0M171 921.6h0M178.2 920.2h0M185.4 919.5h0M192.6 917.6h0M199.8 916.7h0M207 916.9h0M214.2 914.5h0M221.4 913.6h0M228.6 912.6h0M235.8 910.8h0M243 908.4h0M250.2 904.2h0M257.4 889.3h0M264.6 871.7h0M271.8 856.6h0M279 851h0M286.2 848.9h0M293.4 845.6h0M300.6 839.3h0M307.8 828.4h0M315 808.4h0M322.2 789h0M329.4 769.1h0M336.6 757.5h0M343.8 747.3h0M351 751.1h0M358.2 754.1h0M365.4 760.8h0M372.6 764.6h0M379.8 767.5h0M387 762h0M394.2 759.3h0M401.4 753.4h0M408.6 745.5h0M415.8 742.5h0M423 741.9h0M430.2 738.1h0M437.4 739.7h0M444.6 740.7h0M451.8 743.3h0M459 751.6h0M466.2 758.7h0M473.4 768.5h0M480.6 779.2h0M487.8 787.7h0M495 797.4h0M502.2 804.2h0M509.4 808.1h0M516.6 814.2h0M523.8 819.2h0M531 824.1h0M538.2 831.2h0M545.4 833.7h0M552.6 838.8h0M559.8 842.4h0M567 846.6h0M574.2 853.1h0M581.4 856.3h0M588.6 860.9h0M595.8 862.7h0M603 866.3h0M610.2 867.5h0M617.4 869.5h0M624.6 872.5h0M631.8 872.4h0M639 871.4h0M646.2 872h0M653.4 868.7h0M660.6 867.8h0M667.8 865.4h0M675 861.9h0M682.2 858.3h0M689.4 856.3h0M696.6 848.1h0" fill="none" stroke="#000000" stroke-width="8" stroke-linecap="round"/>
<path d="M48.6 922L55.8 922.1L63 922.1L70.2 921.4L77.4 921.1L84.6 921.5L91.8 921.3L99 921.9L106.2 921.5L113.4 921.2L120.6 921L127.8 920.9L135 920L142.2 920.2L149.4 919.6L156.6 920L163.8 918.4L171 918.7L178.2 917.2L185.4 917.4L192.6 916.4L199.8 915.9L207 915.2L214.2 912.9L221.4 911.6L228.6 911.4L235.8 909.6L243 904.6L250.2 900.7L257.4 883.8L264.6 866L271.8 851.9L279 846.9L286.2 845.1L293.4 843.1L300.6 835.4L307.8 821.8L315 800.1L322.2 781L329.4 762.7L336.6 754L343.8 746.4L351 750.2L358.2 753.6L365.4 757.1L372.6 760.3L379.8 762.2L387 758.2L394.2 754L401.4 748.2L408.6 742.5L415.8 739.7L423 738.8L430.2 737.4L437.4 738L444.6 741.9L451.8 746.5L459 753.4L466.2 760.5L473.4 769.4L480.6 778L487.8 786.2L495 792.9L502.2 799.9L509.4 805.3L516.6 811.3L523.8 816.7L531 822.1L538.2 826.4L545.4 831.5L552.6 835.4L559.8 840.4L567 843.9L574.2 848.5L581.4 852.8L588.6 857.5L595.8 861.2L603 865.3L610.2 867.2L617.4 869.4L624.6 870.9L631.8 871.8L639 871.6L646.2 872.5L653.4 871.9L660.6 873.2L667.8 872.9L675 873.1L682.2 874.2L689.4 874.8L696.6 874.1" fill="none" stroke="#ff00ff" stroke-width="2.4" stroke-linejoin="round"/><path d="M48.6 922h0M55.8 922.1h0M63 922.1h0M70.2 921.4h0M77.4 921.1h0M84.6 921.5h0M91.8 921.3h0M99 921.9h0M106.2 921.5h0M113.4 921.2h0M120.6 921h0M127.8 920.9h0M135 920h0M142.2 920.2h0M149.4 919.6h0M156.6 920h0M163.8 918.4h0M171 918.7h0M178.2 917.2h0M185.4 917.4h0M192.6 916.4h0M199.8 915.9h0M207 915.2h0M214.2 912.9h0M221.4 911.6h0M228.6 911.4h0M235.8 909.6h0M243 904.6h0M250.2 900.7h0M257.4 883.8h0M264.6 866h0M271.8 851.9h0M279 846.9h0M286.2 845.1h0M293.4 843.1h0M300.6 835.4h0M307.8 821.8h0M315 800.1h0M322.2 781h0M329.4 762.7h0M336.6 754h0M343.8 746.4h0M351 750.2h0M358.2 753.6h0M365.4 757.1h0M372.6 760.3h0M379.8 762.2h0M387 758.2h0M394.2 754h0M401.4 748.2h0M408.6 742.5h0M415.8 739.7h0M423 738.8h0M430.2 737.4h0M437.4 738h0M444.6 741.9h0M451.8 746.5h0M459 753.4h0M466.2 760.5h0M473.4 769.4h0M480.6 778h0M487.8 786.2h0M495 792.9h0M502.2 799.9h0M509.4 805.3h0M516.6 811.3h0M523.8 816.7h0M531 822.1h0M538.2 826.4h0M545.4 831.5h0M552.6 835.4h0M559.8 840.4h0M567 843.9h0M574.2 848.5h0M581.4 852.8h0M588.6 857.5h0M595.8 861.2h0M603 865.3h0M610.2 867.2h0M617.4 869.4h0M624.6 870.9h0M631.8 871.8h0M639 871.6h0M646.2 872.5h0M653.4 871.9h0M660.6 873.2h0M667.8 872.9h0M675 873.1h0M682.2 874.2h0M689.4 874.8h0M696.6 874.1h0" fill="none" stroke="#ff00ff" stroke-width="8" stroke-linecap="round"/>
<path d="M48.6 993.8C65.5 993.7 114.8 993.3 150 993C185.2 992.7 235 992.4 260 992C285 991.6 286.7 991.4 300 990.5C313.3 989.6 331.4 987.9 340 986.7C348.6 985.5 347.9 985.1 351.8 983.1C355.7 981.1 360.1 978.2 363.6 974.9C367.2 971.5 370.2 968.1 373.1 963C376.1 957.9 379 950.1 381.3 944.2C383.6 938.3 385.2 933.7 387.2 927.6C389.2 921.5 391.3 914.9 393.1 907.6C394.9 900.3 396.2 891.9 397.8 884C399.4 876.1 401 868.2 402.6 860.3C404.2 852.4 405.5 845 407.3 836.7C409.1 828.5 411.2 818.3 413.2 810.8C415.2 803.3 416.6 796.8 419.1 791.9C421.7 787 425.4 781.6 428.5 781.2C431.6 780.8 434.6 783.6 438 789.5C441.4 795.4 445.3 806.7 448.6 816.7C451.9 826.7 454.4 838.9 458 849.7C461.6 860.5 466.2 872.8 469.9 881.6C473.6 890.5 476.6 896.6 480 902.8C483.4 909 485.3 913.2 490.4 918.9C495.5 924.6 502 931 510.4 937C518.8 943 528.9 950 540.6 955C552.3 960 567.3 963.9 580.7 967.1C594.1 970.3 607.5 972.4 620.9 974.1C634.3 975.8 648.3 976.3 661 977.1C673.7 977.9 691 978.8 697 979.1" fill="none" stroke="#00ffff" stroke-width="3" stroke-linejoin="round" stroke-linecap="round"/>
<path d="M168.1 1145C173.4 1144.8 190.5 1144.7 200 1144C209.5 1143.3 218.3 1142.3 225 1141C231.7 1139.7 236.2 1138.3 240 1136C243.8 1133.7 245.8 1130.5 248 1127C250.2 1123.5 250.8 1119.5 253 1115C255.2 1110.5 258.1 1103 260.9 1100.2C263.7 1097.4 265.3 1100.6 269.7 1098C274.1 1095.4 281.5 1089.9 287.4 1084.7C293.3 1079.5 299.9 1076.2 305 1067C310.1 1057.8 313.9 1040.9 318.3 1029.5C322.7 1018.1 327.6 1004.5 331.6 998.6C335.7 992.7 338.4 994.1 342.6 994.2C346.8 994.3 352.2 997 357 999C361.8 1001 367.2 1006.2 371.3 1006.5C375.4 1006.8 378.2 1003.8 381.3 1001C384.4 998.2 386.1 995.1 389.6 990C393.2 984.9 398.7 974.8 402.6 970.1C406.5 965.4 409.5 964.1 413.2 961.9C416.9 959.7 421.5 957.3 425 957.1C428.5 956.9 430.9 958.6 434.4 960.7C437.9 962.9 441.2 965.9 446.2 970C451.1 974.1 458.2 980.2 464.1 985.3C470 990.4 476.7 996 481.8 1000.8C486.9 1005.6 489.1 1008.1 495 1014C500.9 1019.9 508.3 1029.1 517.1 1036.1C525.9 1043.1 536.2 1048.6 548 1056C559.8 1063.4 575.4 1072.9 587.8 1080.3C600.2 1087.7 616.5 1096.9 622.3 1100.2" fill="none" stroke="#ff8000" stroke-width="2.6" stroke-linejoin="round" stroke-linecap="round"/>
<path d="M48.8 1230.5C62.1 1230.3 104.1 1230.1 128.4 1229.6C152.7 1229.1 176.9 1228.2 194.6 1227.4C212.3 1226.6 225.6 1226.9 234.4 1224.8C243.2 1222.7 243.2 1219.6 247.6 1215C252 1210.4 256.5 1204.4 260.9 1197.4C265.3 1190.4 269.7 1177.1 274.1 1173.1C278.5 1169 283 1172.6 287.4 1173.1C291.8 1173.6 296.9 1177.7 300.6 1176.2C304.3 1174.7 305.8 1174.8 309.5 1164.3C313.2 1153.8 318.3 1130.1 322.7 1113.5C327.1 1096.9 331.9 1075.6 336 1064.9C340.1 1054.2 342.6 1049 347 1049.4C351.4 1049.8 357.7 1059.7 362.5 1067.1C367.3 1074.5 371.3 1088.4 375.7 1093.6C380.1 1098.8 383.8 1099.1 389 1098C394.2 1096.9 401.6 1090 406.7 1087C411.8 1084 414.8 1080.3 419.9 1080.3C425 1080.3 429.5 1080.4 437.6 1087C445.7 1093.6 457.4 1109.4 468.5 1120.1C479.6 1130.8 494.3 1143.6 503.9 1151C513.5 1158.4 515 1159.1 526 1164.3C537 1169.5 555.4 1176.4 570.1 1181.9C584.8 1187.4 599.6 1193.4 614.3 1197.4C629 1201.5 648.2 1204.9 658.5 1206.2C668.8 1207.5 669.7 1205.9 676.1 1205.3C682.5 1204.7 693.5 1203.1 697 1202.7" fill="none" stroke="#008080" stroke-width="3" stroke-linejoin="round" stroke-linecap="round"/></g>
<g clip-path="url(#cld)"><path d="M821.3 1233.2L826.6 1234.3L831.9 1234.1L837.2 1233.5L842.5 1232.8L847.8 1234L853.1 1233.9L858.4 1233.1L863.7 1232.9L869 1232.2L874.3 1231.5L879.6 1232.2L884.9 1232.6L890.2 1231.2L895.5 1232.8L900.8 1231.4L906.1 1231.3L911.4 1230.8L916.7 1233.1L922 1232.4L927.3 1232.7L932.6 1232L937.9 1230.6L943.2 1231.2L948.5 1231.6L953.8 1230.6L959.1 1232.6L964.4 1231.2L969.7 1230.6L975 1232.2L980.3 1230.5L985.6 1232.3L990.9 1231.2L996.2 1231.4L1001.5 1230.8L1006.8 1231.1L1012.1 1230.3L1017.4 1229.5L1022.7 1231.1L1028 1229.2L1033.3 1230.1L1038.6 1228.3L1043.9 1229.7L1049.2 1229.1L1054.5 1228.3L1059.8 1227.9L1065.1 1227L1070.4 1227L1075.7 1225.1L1081 1225.5L1086.3 1224.6L1091.6 1221L1096.9 1220.6L1102.2 1218.4L1107.5 1215.2L1112.8 1211.7L1118.1 1207.3L1123.4 1202.5L1128.7 1199.3L1134 1191.7L1139.3 1180.2L1144.6 1169.7L1149.9 1143.1L1155.2 1107.8L1160.5 1053L1165.8 991.1L1171.1 934.7L1176.4 895.6L1181.7 846.4L1187 805.4L1192.3 774.4L1197.6 756.3L1202.9 738.8L1208.2 745.9L1213.5 755.8L1218.8 775.1L1224.1 793.5L1229.4 813.4L1234.7 836.7L1240 870.2L1245.3 903L1250.6 936.3L1255.9 964.4L1261.2 989.4L1266.5 1002.2L1271.8 1015.5L1277.1 1036.5L1282.4 1052.1L1287.7 1065.4L1293 1077.2L1298.3 1086.9L1303.6 1095.7L1308.9 1104.6L1314.2 1111.6L1319.5 1119.2L1324.8 1126.8L1330.1 1134.6L1335.4 1138.8L1340.7 1144.5L1346 1152.1L1351.3 1157.2L1356.6 1160.2L1361.9 1164.8L1367.2 1166.6L1372.5 1170.8L1377.8 1174.2L1383.1 1176.9L1388.4 1178.7L1393.7 1180.8L1399 1183.8L1404.3 1187.6L1409.6 1188.8L1414.9 1188.7L1420.2 1188.6L1425.5 1188.6L1430.8 1190.9L1436.1 1189.2L1441.4 1188.6L1446.7 1185.9L1452 1185.2L1457.3 1185.7L1462.6 1186.3L1467.9 1187.8" fill="none" stroke="#0000ff" stroke-width="2.4" stroke-linejoin="round"/><path d="M821.3 1233.2h0M826.6 1234.3h0M831.9 1234.1h0M837.2 1233.5h0M842.5 1232.8h0M847.8 1234h0M853.1 1233.9h0M858.4 1233.1h0M863.7 1232.9h0M869 1232.2h0M874.3 1231.5h0M879.6 1232.2h0M884.9 1232.6h0M890.2 1231.2h0M895.5 1232.8h0M900.8 1231.4h0M906.1 1231.3h0M911.4 1230.8h0M916.7 1233.1h0M922 1232.4h0M927.3 1232.7h0M932.6 1232h0M937.9 1230.6h0M943.2 1231.2h0M948.5 1231.6h0M953.8 1230.6h0M959.1 1232.6h0M964.4 1231.2h0M969.7 1230.6h0M975 1232.2h0M980.3 1230.5h0M985.6 1232.3h0M990.9 1231.2h0M996.2 1231.4h0M1001.5 1230.8h0M1006.8 1231.1h0M1012.1 1230.3h0M1017.4 1229.5h0M1022.7 1231.1h0M1028 1229.2h0M1033.3 1230.1h0M1038.6 1228.3h0M1043.9 1229.7h0M1049.2 1229.1h0M1054.5 1228.3h0M1059.8 1227.9h0M1065.1 1227h0M1070.4 1227h0M1075.7 1225.1h0M1081 1225.5h0M1086.3 1224.6h0M1091.6 1221h0M1096.9 1220.6h0M1102.2 1218.4h0M1107.5 1215.2h0M1112.8 1211.7h0M1118.1 1207.3h0M1123.4 1202.5h0M1128.7 1199.3h0M1134 1191.7h0M1139.3 1180.2h0M1144.6 1169.7h0M1149.9 1143.1h0M1155.2 1107.8h0M1160.5 1053h0M1165.8 991.1h0M1171.1 934.7h0M1176.4 895.6h0M1181.7 846.4h0M1187 805.4h0M1192.3 774.4h0M1197.6 756.3h0M1202.9 738.8h0M1208.2 745.9h0M1213.5 755.8h0M1218.8 775.1h0M1224.1 793.5h0M1229.4 813.4h0M1234.7 836.7h0M1240 870.2h0M1245.3 903h0M1250.6 936.3h0M1255.9 964.4h0M1261.2 989.4h0M1266.5 1002.2h0M1271.8 1015.5h0M1277.1 1036.5h0M1282.4 1052.1h0M1287.7 1065.4h0M1293 1077.2h0M1298.3 1086.9h0M1303.6 1095.7h0M1308.9 1104.6h0M1314.2 1111.6h0M1319.5 1119.2h0M1324.8 1126.8h0M1330.1 1134.6h0M1335.4 1138.8h0M1340.7 1144.5h0M1346 1152.1h0M1351.3 1157.2h0M1356.6 1160.2h0M1361.9 1164.8h0M1367.2 1166.6h0M1372.5 1170.8h0M1377.8 1174.2h0M1383.1 1176.9h0M1388.4 1178.7h0M1393.7 1180.8h0M1399 1183.8h0M1404.3 1187.6h0M1409.6 1188.8h0M1414.9 1188.7h0M1420.2 1188.6h0M1425.5 1188.6h0M1430.8 1190.9h0M1436.1 1189.2h0M1441.4 1188.6h0M1446.7 1185.9h0M1452 1185.2h0M1457.3 1185.7h0M1462.6 1186.3h0M1467.9 1187.8h0" fill="none" stroke="#0000ff" stroke-width="8.6" stroke-linecap="round"/>
<path d="M821.3 1231.6L826.6 1233.3L831.9 1233.1L837.2 1236.4L842.5 1235.9L847.8 1238.4L853.1 1236.6L858.4 1237.5L863.7 1235.3L869 1235.8L874.3 1235.1L879.6 1234.5L884.9 1233L890.2 1233.3L895.5 1232.8L900.8 1230L906.1 1230.3L911.4 1230.7L916.7 1229.5L922 1228.1L927.3 1227.1L932.6 1228L937.9 1225.3L943.2 1226.3L948.5 1225.8L953.8 1223.5L959.1 1222.8L964.4 1221.4L969.7 1220.7L975 1218.9L980.3 1218.9L985.6 1217.1L990.9 1212.7L996.2 1211.2L1001.5 1206.2L1006.8 1203.4L1012.1 1201.6L1017.4 1195.3L1022.7 1176.7L1028 1158.8L1033.3 1138.9L1038.6 1117.8L1043.9 1105.5L1049.2 1107.2L1054.5 1106L1059.8 1102.7L1065.1 1097.7L1070.4 1086.6L1075.7 1068.2L1081 1043.1L1086.3 1019.3L1091.6 993.3L1096.9 962.5L1102.2 952L1107.5 939.7L1112.8 940.6L1118.1 945.7L1123.4 952.4L1128.7 958L1134 965.6L1139.3 975.1L1144.6 972.8L1149.9 969.6L1155.2 966.9L1160.5 959L1165.8 951.9L1171.1 942.6L1176.4 934.5L1181.7 931.5L1187 928.5L1192.3 926.9L1197.6 923.1L1202.9 926.4L1208.2 928.8L1213.5 932.8L1218.8 940.4L1224.1 949.4L1229.4 958.8L1234.7 968.9L1240 990.6L1245.3 992.5L1250.6 996L1255.9 1009.9L1261.2 1022.6L1266.5 1030.1L1271.8 1038L1277.1 1045.5L1282.4 1053L1287.7 1059.1L1293 1065.3L1298.3 1072.7L1303.6 1077.9L1308.9 1082.8L1314.2 1086.6L1319.5 1092.5L1324.8 1098.5L1330.1 1104.6L1335.4 1109.7L1340.7 1116.1L1346 1122.5L1351.3 1126.8L1356.6 1130.5L1361.9 1134.1L1367.2 1135.7L1372.5 1139.3L1377.8 1141.2L1383.1 1141.7L1388.4 1143.9L1393.7 1144L1399 1146.8L1404.3 1148L1409.6 1145.9L1414.9 1144.7L1420.2 1140.9L1425.5 1139.3L1430.8 1136.6L1436.1 1134L1441.4 1133.6L1446.7 1129.5L1452 1127.4L1457.3 1115.9L1462.6 1104.9L1467.9 1089.2" fill="none" stroke="#ff8000" stroke-width="2.4" stroke-linejoin="round"/><path d="M821.3 1231.6h0M826.6 1233.3h0M831.9 1233.1h0M837.2 1236.4h0M842.5 1235.9h0M847.8 1238.4h0M853.1 1236.6h0M858.4 1237.5h0M863.7 1235.3h0M869 1235.8h0M874.3 1235.1h0M879.6 1234.5h0M884.9 1233h0M890.2 1233.3h0M895.5 1232.8h0M900.8 1230h0M906.1 1230.3h0M911.4 1230.7h0M916.7 1229.5h0M922 1228.1h0M927.3 1227.1h0M932.6 1228h0M937.9 1225.3h0M943.2 1226.3h0M948.5 1225.8h0M953.8 1223.5h0M959.1 1222.8h0M964.4 1221.4h0M969.7 1220.7h0M975 1218.9h0M980.3 1218.9h0M985.6 1217.1h0M990.9 1212.7h0M996.2 1211.2h0M1001.5 1206.2h0M1006.8 1203.4h0M1012.1 1201.6h0M1017.4 1195.3h0M1022.7 1176.7h0M1028 1158.8h0M1033.3 1138.9h0M1038.6 1117.8h0M1043.9 1105.5h0M1049.2 1107.2h0M1054.5 1106h0M1059.8 1102.7h0M1065.1 1097.7h0M1070.4 1086.6h0M1075.7 1068.2h0M1081 1043.1h0M1086.3 1019.3h0M1091.6 993.3h0M1096.9 962.5h0M1102.2 952h0M1107.5 939.7h0M1112.8 940.6h0M1118.1 945.7h0M1123.4 952.4h0M1128.7 958h0M1134 965.6h0M1139.3 975.1h0M1144.6 972.8h0M1149.9 969.6h0M1155.2 966.9h0M1160.5 959h0M1165.8 951.9h0M1171.1 942.6h0M1176.4 934.5h0M1181.7 931.5h0M1187 928.5h0M1192.3 926.9h0M1197.6 923.1h0M1202.9 926.4h0M1208.2 928.8h0M1213.5 932.8h0M1218.8 940.4h0M1224.1 949.4h0M1229.4 958.8h0M1234.7 968.9h0M1240 990.6h0M1245.3 992.5h0M1250.6 996h0M1255.9 1009.9h0M1261.2 1022.6h0M1266.5 1030.1h0M1271.8 1038h0M1277.1 1045.5h0M1282.4 1053h0M1287.7 1059.1h0M1293 1065.3h0M1298.3 1072.7h0M1303.6 1077.9h0M1308.9 1082.8h0M1314.2 1086.6h0M1319.5 1092.5h0M1324.8 1098.5h0M1330.1 1104.6h0M1335.4 1109.7h0M1340.7 1116.1h0M1346 1122.5h0M1351.3 1126.8h0M1356.6 1130.5h0M1361.9 1134.1h0M1367.2 1135.7h0M1372.5 1139.3h0M1377.8 1141.2h0M1383.1 1141.7h0M1388.4 1143.9h0M1393.7 1144h0M1399 1146.8h0M1404.3 1148h0M1409.6 1145.9h0M1414.9 1144.7h0M1420.2 1140.9h0M1425.5 1139.3h0M1430.8 1136.6h0M1436.1 1134h0M1441.4 1133.6h0M1446.7 1129.5h0M1452 1127.4h0M1457.3 1115.9h0M1462.6 1104.9h0M1467.9 1089.2h0" fill="none" stroke="#ff8000" stroke-width="8.6" stroke-linecap="round"/>
<path d="M821.3 1235.5L825.8 1235.7L830.3 1235.5L834.8 1232.6L839.3 1234.5L843.8 1233.9L848.3 1234.4L852.8 1233L857.3 1233.2L861.8 1234.2L866.3 1233.4L870.8 1234.3L875.3 1232.8L879.8 1233L884.3 1235.3L888.8 1234.3L893.3 1234.7L897.8 1235.5L902.3 1234.2L906.8 1233.2L911.3 1235.8L915.8 1235.2L920.3 1235.5L924.8 1235.4L929.3 1236.7L933.8 1234.5L938.3 1236L942.8 1234.6L947.3 1235.4L951.8 1235.8L956.3 1234.6L960.8 1233.8L965.3 1235.2L969.8 1236.1L974.3 1235.7L978.8 1233.2L983.3 1231.3L987.8 1227.1L992.3 1224.6L996.8 1222.6L1001.3 1222.6L1005.8 1218.9L1010.3 1217.1L1014.8 1215.6L1019.3 1213.9L1023.8 1210.3L1028.3 1193.6L1032.8 1186.8L1037.3 1178.2L1041.8 1172.9L1046.3 1169.1L1050.8 1165.5L1055.3 1165.3L1059.8 1166.8L1064.3 1168L1068.8 1149.8L1073.3 1137.3L1077.8 1128L1082.3 1117.2L1086.8 1102.7L1091.3 1089.1L1095.8 1065.7L1100.3 1050.4L1104.8 1042.9L1109.3 1033.6L1113.8 1036.3L1118.3 1039.2L1122.8 1046.7L1127.3 1051.5L1131.8 1059.8L1136.3 1063.9L1140.8 1069.5L1145.3 1059.8L1149.8 1050.2L1154.3 1034.8L1158.8 1017.3L1163.3 996.2L1167.8 973.3L1172.3 950.1L1176.8 923.8L1181.3 902.6L1185.8 884.3L1190.3 878L1194.8 871.2L1199.3 868.3L1203.8 864.8L1208.3 862.8L1212.8 869.2L1217.3 881.4L1221.8 889.4L1226.3 899.7L1230.8 914.7L1235.3 935.8L1239.8 943.9L1244.3 953L1248.8 988.4L1253.3 1000.3L1257.8 1009.2L1262.3 1017.9L1266.8 1027.1L1271.3 1035.3L1275.8 1049.2L1280.3 1068.6L1284.8 1077.1L1289.3 1082.7L1293.8 1087.6L1298.3 1093.7L1302.8 1099.9L1307.3 1106.9L1311.8 1111.9L1316.3 1115.9L1320.8 1120.5L1325.3 1121.5L1329.8 1127L1334.3 1129.5L1338.8 1133.9L1343.3 1139.3L1347.8 1141.7L1352.3 1148.8L1356.8 1150.1L1361.3 1156.4L1365.8 1160.9L1370.3 1160.9L1374.8 1163.3L1379.3 1164.2L1383.8 1165.3L1388.3 1167.5L1392.8 1166.1L1397.3 1168.6L1401.8 1171.3L1406.3 1169.9L1410.8 1172.1L1415.3 1169.2L1419.8 1170.5L1424.3 1168.2L1428.8 1168.8L1433.3 1167.4L1437.8 1162.2L1442.3 1160.5L1446.8 1155.7L1451.3 1152.5L1455.8 1150.1L1460.3 1150.2L1464.8 1150.1L1469.3 1149.3" fill="none" stroke="#aa78dc" stroke-width="2.4" stroke-linejoin="round"/><path d="M821.3 1235.5h0M825.8 1235.7h0M830.3 1235.5h0M834.8 1232.6h0M839.3 1234.5h0M843.8 1233.9h0M848.3 1234.4h0M852.8 1233h0M857.3 1233.2h0M861.8 1234.2h0M866.3 1233.4h0M870.8 1234.3h0M875.3 1232.8h0M879.8 1233h0M884.3 1235.3h0M888.8 1234.3h0M893.3 1234.7h0M897.8 1235.5h0M902.3 1234.2h0M906.8 1233.2h0M911.3 1235.8h0M915.8 1235.2h0M920.3 1235.5h0M924.8 1235.4h0M929.3 1236.7h0M933.8 1234.5h0M938.3 1236h0M942.8 1234.6h0M947.3 1235.4h0M951.8 1235.8h0M956.3 1234.6h0M960.8 1233.8h0M965.3 1235.2h0M969.8 1236.1h0M974.3 1235.7h0M978.8 1233.2h0M983.3 1231.3h0M987.8 1227.1h0M992.3 1224.6h0M996.8 1222.6h0M1001.3 1222.6h0M1005.8 1218.9h0M1010.3 1217.1h0M1014.8 1215.6h0M1019.3 1213.9h0M1023.8 1210.3h0M1028.3 1193.6h0M1032.8 1186.8h0M1037.3 1178.2h0M1041.8 1172.9h0M1046.3 1169.1h0M1050.8 1165.5h0M1055.3 1165.3h0M1059.8 1166.8h0M1064.3 1168h0M1068.8 1149.8h0M1073.3 1137.3h0M1077.8 1128h0M1082.3 1117.2h0M1086.8 1102.7h0M1091.3 1089.1h0M1095.8 1065.7h0M1100.3 1050.4h0M1104.8 1042.9h0M1109.3 1033.6h0M1113.8 1036.3h0M1118.3 1039.2h0M1122.8 1046.7h0M1127.3 1051.5h0M1131.8 1059.8h0M1136.3 1063.9h0M1140.8 1069.5h0M1145.3 1059.8h0M1149.8 1050.2h0M1154.3 1034.8h0M1158.8 1017.3h0M1163.3 996.2h0M1167.8 973.3h0M1172.3 950.1h0M1176.8 923.8h0M1181.3 902.6h0M1185.8 884.3h0M1190.3 878h0M1194.8 871.2h0M1199.3 868.3h0M1203.8 864.8h0M1208.3 862.8h0M1212.8 869.2h0M1217.3 881.4h0M1221.8 889.4h0M1226.3 899.7h0M1230.8 914.7h0M1235.3 935.8h0M1239.8 943.9h0M1244.3 953h0M1248.8 988.4h0M1253.3 1000.3h0M1257.8 1009.2h0M1262.3 1017.9h0M1266.8 1027.1h0M1271.3 1035.3h0M1275.8 1049.2h0M1280.3 1068.6h0M1284.8 1077.1h0M1289.3 1082.7h0M1293.8 1087.6h0M1298.3 1093.7h0M1302.8 1099.9h0M1307.3 1106.9h0M1311.8 1111.9h0M1316.3 1115.9h0M1320.8 1120.5h0M1325.3 1121.5h0M1329.8 1127h0M1334.3 1129.5h0M1338.8 1133.9h0M1343.3 1139.3h0M1347.8 1141.7h0M1352.3 1148.8h0M1356.8 1150.1h0M1361.3 1156.4h0M1365.8 1160.9h0M1370.3 1160.9h0M1374.8 1163.3h0M1379.3 1164.2h0M1383.8 1165.3h0M1388.3 1167.5h0M1392.8 1166.1h0M1397.3 1168.6h0M1401.8 1171.3h0M1406.3 1169.9h0M1410.8 1172.1h0M1415.3 1169.2h0M1419.8 1170.5h0M1424.3 1168.2h0M1428.8 1168.8h0M1433.3 1167.4h0M1437.8 1162.2h0M1442.3 1160.5h0M1446.8 1155.7h0M1451.3 1152.5h0M1455.8 1150.1h0M1460.3 1150.2h0M1464.8 1150.1h0M1469.3 1149.3h0" fill="none" stroke="#aa78dc" stroke-width="8.6" stroke-linecap="round"/>
<path d="M821.3 1232.1L826.6 1230.1L831.9 1229.9L837.2 1232.2L842.5 1230.3L847.8 1230.1L853.1 1231.4L858.4 1230.7L863.7 1232L869 1230.4L874.3 1232.1L879.6 1230.6L884.9 1231.3L890.2 1232.1L895.5 1231.5L900.8 1232.1L906.1 1231.6L911.4 1230L916.7 1232L922 1231.3L927.3 1230.6L932.6 1230.3L937.9 1231.9L943.2 1231.3L948.5 1232.1L953.8 1231.7L959.1 1232.2L964.4 1231.2L969.7 1231.6L975 1231.4L980.3 1230.5L985.6 1231.9L990.9 1229.7L996.2 1230.1L1001.5 1229.8L1006.8 1228.4L1012.1 1226.5L1017.4 1227.4L1022.7 1226.3L1028 1224.5L1033.3 1223.4L1038.6 1223.9L1043.9 1222L1049.2 1223.4L1054.5 1221.7L1059.8 1221L1065.1 1220.1L1070.4 1219.3L1075.7 1217.8L1081 1214.2L1086.3 1212.3L1091.6 1210.6L1096.9 1207.8L1102.2 1206.4L1107.5 1204.2L1112.8 1200.6L1118.1 1196.5L1123.4 1191.5L1128.7 1185.8L1134 1181.9L1139.3 1169.7L1144.6 1159.3L1149.9 1137.7L1155.2 1110.4L1160.5 1065.3L1165.8 1007.2L1171.1 952.6L1176.4 907.8L1181.7 863.2L1187 818L1192.3 784.5L1197.6 761L1202.9 742.7L1208.2 745.9L1213.5 757.1L1218.8 776.1L1224.1 798.1L1229.4 818.7L1234.7 846.4L1240 880.1L1245.3 913.3L1250.6 941.8L1255.9 970.1L1261.2 992.7L1266.5 1004L1271.8 1016.1L1277.1 1034.2L1282.4 1047.9L1287.7 1061.9L1293 1073L1298.3 1084.3L1303.6 1094L1308.9 1101.3L1314.2 1109.3L1319.5 1116.6L1324.8 1123.4L1330.1 1130.3L1335.4 1135.9L1340.7 1141L1346 1147.3L1351.3 1150L1356.6 1154.8L1361.9 1158.7L1367.2 1161.6L1372.5 1164.8L1377.8 1168.8L1383.1 1169.2L1388.4 1169.9L1393.7 1170.4L1399 1173.7L1404.3 1173.3L1409.6 1173.8L1414.9 1175.1L1420.2 1176L1425.5 1177.5L1430.8 1175.8L1436.1 1176.1L1441.4 1175.6L1446.7 1175.9L1452 1172.6L1457.3 1170.3L1462.6 1167.2L1467.9 1158.9" fill="none" stroke="#ff00ff" stroke-width="2.4" stroke-linejoin="round"/><path d="M821.3 1232.1h0M826.6 1230.1h0M831.9 1229.9h0M837.2 1232.2h0M842.5 1230.3h0M847.8 1230.1h0M853.1 1231.4h0M858.4 1230.7h0M863.7 1232h0M869 1230.4h0M874.3 1232.1h0M879.6 1230.6h0M884.9 1231.3h0M890.2 1232.1h0M895.5 1231.5h0M900.8 1232.1h0M906.1 1231.6h0M911.4 1230h0M916.7 1232h0M922 1231.3h0M927.3 1230.6h0M932.6 1230.3h0M937.9 1231.9h0M943.2 1231.3h0M948.5 1232.1h0M953.8 1231.7h0M959.1 1232.2h0M964.4 1231.2h0M969.7 1231.6h0M975 1231.4h0M980.3 1230.5h0M985.6 1231.9h0M990.9 1229.7h0M996.2 1230.1h0M1001.5 1229.8h0M1006.8 1228.4h0M1012.1 1226.5h0M1017.4 1227.4h0M1022.7 1226.3h0M1028 1224.5h0M1033.3 1223.4h0M1038.6 1223.9h0M1043.9 1222h0M1049.2 1223.4h0M1054.5 1221.7h0M1059.8 1221h0M1065.1 1220.1h0M1070.4 1219.3h0M1075.7 1217.8h0M1081 1214.2h0M1086.3 1212.3h0M1091.6 1210.6h0M1096.9 1207.8h0M1102.2 1206.4h0M1107.5 1204.2h0M1112.8 1200.6h0M1118.1 1196.5h0M1123.4 1191.5h0M1128.7 1185.8h0M1134 1181.9h0M1139.3 1169.7h0M1144.6 1159.3h0M1149.9 1137.7h0M1155.2 1110.4h0M1160.5 1065.3h0M1165.8 1007.2h0M1171.1 952.6h0M1176.4 907.8h0M1181.7 863.2h0M1187 818h0M1192.3 784.5h0M1197.6 761h0M1202.9 742.7h0M1208.2 745.9h0M1213.5 757.1h0M1218.8 776.1h0M1224.1 798.1h0M1229.4 818.7h0M1234.7 846.4h0M1240 880.1h0M1245.3 913.3h0M1250.6 941.8h0M1255.9 970.1h0M1261.2 992.7h0M1266.5 1004h0M1271.8 1016.1h0M1277.1 1034.2h0M1282.4 1047.9h0M1287.7 1061.9h0M1293 1073h0M1298.3 1084.3h0M1303.6 1094h0M1308.9 1101.3h0M1314.2 1109.3h0M1319.5 1116.6h0M1324.8 1123.4h0M1330.1 1130.3h0M1335.4 1135.9h0M1340.7 1141h0M1346 1147.3h0M1351.3 1150h0M1356.6 1154.8h0M1361.9 1158.7h0M1367.2 1161.6h0M1372.5 1164.8h0M1377.8 1168.8h0M1383.1 1169.2h0M1388.4 1169.9h0M1393.7 1170.4h0M1399 1173.7h0M1404.3 1173.3h0M1409.6 1173.8h0M1414.9 1175.1h0M1420.2 1176h0M1425.5 1177.5h0M1430.8 1175.8h0M1436.1 1176.1h0M1441.4 1175.6h0M1446.7 1175.9h0M1452 1172.6h0M1457.3 1170.3h0M1462.6 1167.2h0M1467.9 1158.9h0" fill="none" stroke="#ff00ff" stroke-width="8.6" stroke-linecap="round"/></g>
<g clip-path="url(#cle)"><path d="M48.8 1906.4L52.8 1906.8L56.8 1907.7L60.8 1908.7L64.8 1907L68.8 1907L72.8 1907.4L76.8 1909.1L80.8 1907.2L84.8 1909.1L88.8 1908.9L92.8 1907.3L96.8 1908.6L100.8 1908.3L104.8 1908.1L108.8 1909.9L112.8 1906.9L116.8 1906.6L120.8 1909.5L124.8 1907.7L128.8 1907L132.8 1907.3L136.8 1907.3L140.8 1909.1L144.8 1906.7L148.8 1906.6L152.8 1907.7L156.8 1907.5L160.8 1908.8L164.8 1908.3L168.8 1906.7L172.8 1906.2L176.8 1908.1L180.8 1908.5L184.8 1904.8L188.8 1906.6L192.8 1906.4L196.8 1905.2L200.8 1903.3L204.8 1904.6L208.8 1903.8L212.8 1901.6L216.8 1902.4L220.8 1899.5L224.8 1897.3L228.8 1896.7L232.8 1895.1L236.8 1893.7L240.8 1889.9L244.8 1885.9L248.8 1881.8L252.8 1875.6L256.8 1867.7L260.8 1859.1L264.8 1852.7L268.8 1847.4L272.8 1844L276.8 1840.9L280.8 1839.5L284.8 1835.9L288.8 1833.7L292.8 1833.5L296.8 1828.3L300.8 1815.3L304.8 1800L308.8 1787.7L312.8 1776L316.8 1762.1L320.8 1750.2L324.8 1734.7L328.8 1722.5L332.8 1719.4L336.8 1715.5L340.8 1713.9L344.8 1714.2L348.8 1716.8L352.8 1720.7L356.8 1727.5L360.8 1728.8L364.8 1728.1L368.8 1724L372.8 1720.6L376.8 1716.5L380.8 1703.3L384.8 1688.3L388.8 1674.1L392.8 1656.4L396.8 1633.8L400.8 1611.7L404.8 1588.9L408.8 1565.5L412.8 1544.5L416.8 1523.6L420.8 1514.1L424.8 1502.7L428.8 1506L432.8 1509.6L436.8 1504L440.8 1513.6L444.8 1519.4L448.8 1518.3L452.8 1536.2L456.8 1556.4L460.8 1575.1L464.8 1588.9L468.8 1592.4L472.8 1614.1L476.8 1639.7L480.8 1660.4L484.8 1675.3L488.8 1683.5L492.8 1693.1L496.8 1704.7L500.8 1712.6L504.8 1721.5L508.8 1730.4L512.8 1739.1L516.8 1746.6L520.8 1755.7L524.8 1762.2L528.8 1768.3L532.8 1773.8L536.8 1777.8L540.8 1783.4L544.8 1787.4L548.8 1790.9L552.8 1794L556.8 1799.3L560.8 1802.4L564.8 1806.2L568.8 1808.6L572.8 1812L576.8 1814.7L580.8 1820.9L584.8 1822.5L588.8 1827.5L592.8 1830.6L596.8 1835.4L600.8 1839.2L604.8 1841.3L608.8 1843.8L612.8 1844.8L616.8 1845.5L620.8 1848.8L624.8 1849.9L628.8 1851L632.8 1849.2L636.8 1851.9L640.8 1853.6L644.8 1852.3L648.8 1851.1L652.8 1851.7L656.8 1848.9L660.8 1847.7L664.8 1847.7L668.8 1845L672.8 1842.5L676.8 1839L680.8 1836L684.8 1833.6L688.8 1829L692.8 1826.8L696.8 1821.1" fill="none" stroke="#555555" stroke-width="3" stroke-linejoin="round" stroke-linecap="round"/>
<path d="M48.8 1910C56.9 1910.3 76.8 1912.2 97.4 1912C118 1911.8 148.6 1910.5 172.5 1909C196.4 1907.5 226.1 1904.5 240.8 1903.2C255.5 1901.9 250.9 1902.6 260.9 1901.2C270.9 1899.8 291 1896.5 301 1895C311 1893.5 314.4 1894.5 321 1892C327.6 1889.5 333.5 1885 340.4 1880C347.3 1875 355.9 1872.3 362.5 1862C369.1 1851.7 375.1 1838.5 380.2 1817.9C385.3 1797.3 390.1 1758.1 393.4 1738.4C396.7 1718.8 397.2 1717.5 399.8 1700C402.4 1682.5 406.1 1651.5 409.2 1633.6C412.3 1615.7 414.5 1603.8 418.6 1592.4C422.7 1581 429.9 1569.1 433.6 1565C437.4 1560.9 438.6 1566.2 441.1 1568C443.6 1569.8 444.1 1567.1 448.5 1575.5C452.9 1583.9 461.7 1604.5 467.3 1618.6C472.9 1632.7 476.9 1645.1 482.3 1659.9C487.7 1674.7 492.2 1692.9 499.5 1707.4C506.8 1722 514.2 1732.5 526 1747.2C537.8 1761.9 555.4 1781.1 570.1 1795.8C584.8 1810.5 599.6 1826.7 614.3 1835.5C629 1844.3 644.7 1847.9 658.5 1848.8C672.3 1849.7 690.6 1842.1 697 1840.8" fill="none" stroke="#1a6fdf" stroke-width="3" stroke-linejoin="round" stroke-linecap="round"/>
<path d="M48.8 1910C60.7 1909.9 98.1 1909.8 120 1909.5C141.9 1909.2 163.2 1909.1 180 1908.5C196.8 1907.9 210.9 1907.2 220.7 1906C230.5 1904.8 234.1 1903.7 238.8 1901C243.5 1898.3 245.1 1895.8 248.8 1890C252.5 1884.2 255.9 1873.2 260.9 1866C265.9 1858.8 273.5 1850.2 278.6 1846.6C283.8 1843 287.4 1850.7 291.8 1844.4C296.2 1838.1 299.9 1823 305 1809C310.1 1795 317.5 1770.6 322.7 1760.4C327.9 1750.2 331.6 1748.1 336 1748.1C340.4 1748.1 344.1 1753.2 349.2 1760.4C354.3 1767.6 361 1783.3 366.9 1791.4C372.8 1799.5 378 1803.1 384.6 1809C391.2 1814.9 397.9 1818.6 406.7 1826.7C415.5 1834.8 428 1849.1 437.6 1857.6C447.2 1866.1 453.1 1871.8 464.1 1877.5C475.2 1883.2 486.2 1889.4 503.9 1892.1C521.6 1894.8 548 1893.9 570.1 1893.9C592.2 1893.9 615.2 1893 636.4 1892.1C657.5 1891.2 686.9 1889.2 697 1888.6" fill="none" stroke="#00ffff" stroke-width="3" stroke-linejoin="round" stroke-linecap="round"/>
<path d="M48.8 1910C60.7 1909.8 98.1 1909.4 120 1909C141.9 1908.6 163.9 1908.7 180 1907.5C196.1 1906.3 207.2 1904.1 216.7 1902C226.2 1899.9 231.1 1898.7 236.8 1895C242.5 1891.3 246.8 1885.8 250.8 1880C254.8 1874.2 257 1866.7 260.9 1860C264.8 1853.3 270.1 1844.1 274.1 1840C278.2 1835.9 281.5 1837.7 285.2 1835.5C288.9 1833.3 291.4 1837.7 296.2 1826.7C301 1815.7 308.7 1784.8 313.9 1769.3C319.1 1753.8 322.4 1742.2 327.2 1733.9C332 1725.7 336.7 1720.9 342.6 1719.8C348.5 1718.7 356.2 1730.8 362.5 1727.3C368.8 1723.8 375.2 1711.1 380.2 1698.6C385.2 1686.1 388.1 1672.6 392.3 1652.4C396.5 1632.2 401.3 1599.3 405.4 1577.4C409.5 1555.5 412.6 1533.4 416.7 1521.2C420.8 1509 425.7 1506.2 429.8 1504.3C433.9 1502.4 437.4 1504 441.1 1509.9C444.9 1515.8 447.9 1527.4 452.3 1539.9C456.7 1552.4 462.3 1567.4 467.3 1584.9C472.3 1602.4 476.2 1626 482.3 1644.9C488.4 1663.9 496.6 1683.8 503.9 1698.6C511.2 1713.4 515 1719.9 526 1733.9C537 1747.9 555.4 1768.5 570.1 1782.5C584.8 1796.5 601.8 1809.8 614.3 1817.9C626.8 1826 636.4 1829.3 645.2 1831.1C654 1832.9 658.7 1831.1 667.3 1828.9C675.9 1826.7 692 1819.7 697 1817.9" fill="none" stroke="#ff00ff" stroke-width="3" stroke-linejoin="round" stroke-linecap="round"/></g>
<g clip-path="url(#clf)"><path d="M821.6 1908.4L825.6 1909.8L829.6 1911.7L833.6 1913.7L837.6 1912.9L841.6 1913.9L845.6 1914L849.6 1915.5L853.6 1913.4L857.6 1915.1L861.6 1914.6L865.6 1912.8L869.6 1913.9L873.6 1913.4L877.6 1913.1L881.6 1914.7L885.6 1911.7L889.6 1911.2L893.6 1914L897.6 1912.1L901.6 1911.2L905.6 1911.4L909.6 1911.4L913.6 1913.1L917.6 1910.5L921.6 1910.3L925.6 1911.3L929.6 1911L933.6 1912.1L937.6 1911.2L941.6 1909L945.6 1907.9L949.6 1909.3L953.6 1909.1L957.6 1905.5L961.6 1907.1L965.6 1906.9L969.6 1905.6L973.6 1903.6L977.6 1904.8L981.6 1903.9L985.6 1900.3L989.6 1899.2L993.6 1895.2L997.6 1892.1L1001.6 1890.5L1005.6 1887.9L1009.6 1885L1013.6 1872.5L1017.6 1859.7L1021.6 1846.8L1025.6 1833.6L1029.6 1820.4L1033.6 1806.5L1037.6 1794.1L1041.6 1786L1045.6 1781.1L1049.6 1779.8L1053.6 1779L1057.6 1776.1L1061.6 1775.2L1065.6 1769.3L1069.6 1758.3L1073.6 1741.7L1077.6 1718.2L1081.6 1695.8L1085.6 1671.1L1089.6 1643.9L1093.6 1622.8L1097.6 1607.6L1101.6 1595.7L1105.6 1584.2L1109.6 1572.1L1113.6 1578.1L1117.6 1582.2L1121.6 1585.7L1125.6 1590.5L1129.6 1602.5L1133.6 1609.4L1137.6 1619.4L1141.6 1619.7L1145.6 1616L1149.6 1618.4L1153.6 1616.3L1157.6 1609.3L1161.6 1603.3L1165.6 1594.7L1169.6 1586.7L1173.6 1578.2L1177.6 1569L1181.6 1562.3L1185.6 1559.3L1189.6 1556.2L1193.6 1554.9L1197.6 1552.2L1201.6 1557.5L1205.6 1561.4L1209.6 1564.2L1213.6 1571L1217.6 1578.4L1221.6 1583.1L1225.6 1592.1L1229.6 1606.5L1233.6 1619.3L1237.6 1632.1L1241.6 1644.8L1245.6 1645.3L1249.6 1651.3L1253.6 1661.8L1257.6 1676.6L1261.6 1688.4L1265.6 1695.9L1269.6 1702.7L1273.6 1705.8L1277.6 1712L1281.6 1719.9L1285.6 1727.6L1289.6 1734.1L1293.6 1741.8L1297.6 1746.3L1301.6 1752.7L1305.6 1759.3L1309.6 1764.5L1313.6 1769.4L1317.6 1772.6L1321.6 1775.5L1325.6 1779.4L1329.6 1786L1333.6 1790.9L1337.6 1796.6L1341.6 1800.8L1345.6 1805.2L1349.6 1806.5L1353.6 1811.4L1357.6 1811.7L1361.6 1814.6L1365.6 1815.4L1369.6 1817.9L1373.6 1819.4L1377.6 1821.5L1381.6 1824.1L1385.6 1825.3L1389.6 1825.9L1393.6 1828.3L1397.6 1828.8L1401.6 1829.8L1405.6 1827.9L1409.6 1830.4L1413.6 1832L1417.6 1828.5L1421.6 1824.4L1425.6 1822.4L1429.6 1816.9L1433.6 1813.1L1437.6 1811.4L1441.6 1807L1445.6 1803.4L1449.6 1800.4L1453.6 1797.2L1457.6 1794.3L1461.6 1789.3L1465.6 1782.1L1469.6 1760.9" fill="none" stroke="#555555" stroke-width="3" stroke-linejoin="round" stroke-linecap="round"/>
<path d="M821.6 1910.6C842.6 1909.9 911.8 1907.5 947.5 1906.2C983.2 1904.9 1011.6 1904.3 1035.9 1902.7C1060.2 1901.1 1080 1898.8 1093.3 1896.5C1106.5 1894.2 1108 1892.5 1115.4 1888.6C1122.8 1884.7 1130.9 1881.9 1137.5 1873.1C1144.1 1864.2 1149.3 1853.5 1155.2 1835.5C1161.1 1817.5 1166.9 1788.5 1172.8 1764.9C1178.7 1741.4 1186.4 1708.6 1190.5 1694.2C1194.6 1679.8 1194.3 1682.6 1197.3 1678.6C1200.2 1674.5 1204.1 1670.2 1208.2 1669.9C1212.3 1669.6 1217 1671.7 1221.7 1676.7C1226.5 1681.7 1230.9 1689.7 1236.7 1700C1242.5 1710.3 1250.5 1726.1 1256.8 1738.4C1263.1 1750.7 1264.8 1761.2 1274.4 1773.7C1284 1786.2 1298.7 1801 1314.2 1813.5C1329.7 1826 1350.3 1840 1367.2 1848.8C1384.1 1857.6 1404.8 1863.9 1415.8 1866.5C1426.8 1869.1 1424.5 1865.2 1433.5 1864.3C1442.5 1863.4 1463.9 1861.7 1470 1861.2" fill="none" stroke="#1a6fdf" stroke-width="3" stroke-linejoin="round" stroke-linecap="round"/>
<path d="M821.6 1910.6C848.5 1909.7 951.6 1909 982.9 1905.3C1014.2 1901.6 1002.8 1898 1009.4 1888.6C1016 1879.2 1018.2 1862.8 1022.6 1848.8C1027 1834.8 1032.2 1815.3 1035.9 1804.6C1039.6 1793.9 1040.7 1788 1044.7 1784.7C1048.8 1781.4 1055.4 1790.2 1060.2 1784.7C1065 1779.2 1069.4 1769.6 1073.4 1751.6C1077.5 1733.6 1081 1698 1084.5 1676.5C1088 1655 1090.1 1637.1 1094.2 1622.4C1098.3 1607.8 1104.5 1589.8 1109.2 1588.6C1113.9 1587.3 1117.6 1601.8 1122.3 1614.9C1127 1628 1132.5 1654.2 1137.3 1667.4C1142 1680.6 1144.1 1682.4 1150.8 1694.2C1157.5 1706 1168.5 1722.2 1177.3 1738.4C1186.1 1754.6 1194.2 1775.2 1203.8 1791.4C1213.4 1807.6 1222.2 1822.2 1234.7 1835.5C1247.2 1848.8 1264.2 1863.9 1278.9 1870.9C1293.6 1877.9 1308.3 1876.6 1323 1877.5C1337.7 1878.4 1348.8 1876.4 1367.2 1876.2C1385.6 1876 1416.4 1877.8 1433.5 1876.2C1450.6 1874.6 1463.9 1868.1 1470 1866.5" fill="none" stroke="#00ffff" stroke-width="3" stroke-linejoin="round" stroke-linecap="round"/>
<path d="M821.6 1908.4C842.6 1907.9 920.6 1906.4 947.5 1905.3C974.4 1904.2 972.6 1905.3 982.9 1901.8C993.2 1898.3 1002.8 1894.4 1009.4 1884.1C1016 1873.8 1018.2 1854.7 1022.6 1840C1027 1825.3 1032.2 1806.1 1035.9 1795.8C1039.6 1785.5 1040.3 1781.8 1044.7 1778.1C1049.1 1774.4 1058 1778.1 1062.4 1773.7C1066.8 1769.3 1068.2 1763.4 1071.2 1751.6C1074.2 1739.8 1076.6 1724.5 1080.1 1703C1083.6 1681.5 1087.6 1644.6 1092.4 1622.4C1097.2 1600.2 1104.2 1576.2 1109.2 1569.9C1114.2 1563.7 1117.6 1576.8 1122.3 1584.9C1127 1593 1132.9 1611.1 1137.3 1618.6C1141.7 1626.1 1144.8 1629.9 1148.6 1629.9C1152.3 1629.9 1155.4 1627.3 1159.8 1618.6C1164.2 1609.8 1169.2 1589.6 1174.8 1577.4C1180.4 1565.2 1188.6 1549.9 1193.6 1545.5C1198.6 1541.1 1200.4 1545.2 1204.8 1551.2C1209.2 1557.2 1214.2 1566.8 1219.8 1581.2C1225.4 1595.6 1232.3 1620.8 1238.5 1637.4C1244.7 1654 1250.8 1666.3 1256.8 1680.9C1262.8 1695.5 1267 1711.8 1274.4 1725.1C1281.8 1738.3 1292.9 1750.8 1301 1760.4C1309.1 1770 1312 1773.7 1323 1782.5C1334 1791.3 1354.7 1805.8 1367.2 1813.5C1379.7 1821.2 1388.5 1826 1398.1 1828.9C1407.7 1831.8 1416.5 1831.1 1424.6 1831.1C1432.7 1831.1 1439.1 1831.1 1446.7 1828.9C1454.3 1826.7 1466.1 1819.7 1470 1817.9" fill="none" stroke="#ff00ff" stroke-width="3" stroke-linejoin="round" stroke-linecap="round"/></g>
<rect x="48.6" y="22.3" width="649.1" height="547" fill="none" stroke="#000" stroke-width="3.2"/>
<path d="M84.7 567.7v-1.6M120.7 567.7v-4.7M156.8 567.7v-1.6M192.8 567.7v-4.7M228.9 567.7v-1.6M265 567.7v-4.7M301 567.7v-1.6M337.1 567.7v-4.7M373.2 567.7v-1.6M409.2 567.7v-4.7M445.3 567.7v-1.6M481.3 567.7v-4.7M517.4 567.7v-1.6M553.5 567.7v-4.7M589.5 567.7v-1.6M625.6 567.7v-4.7M661.6 567.7v-1.6" stroke="#000" stroke-width="2.6" fill="none"/>
<g font-family='"Liberation Sans", sans-serif' font-size="29" text-anchor="middle"><text x="48.6" y="604.5">525</text><text x="120.7" y="604.5">526</text><text x="192.8" y="604.5">527</text><text x="265" y="604.5">528</text><text x="337.1" y="604.5">529</text><text x="409.2" y="604.5">530</text><text x="481.3" y="604.5">531</text><text x="553.5" y="604.5">532</text><text x="625.6" y="604.5">533</text><text x="697.7" y="604.5">534</text></g>
<text x="373.5" y="646.9" font-family='"Liberation Sans", sans-serif' font-size="29" text-anchor="middle">Energy (eV)</text>
<text transform="translate(27 295.8) rotate(-90)" font-family='"Liberation Sans", sans-serif' font-size="29" text-anchor="middle">Intensity (a. u.)</text>
<text x="1.5" y="32.4" font-family='"Liberation Sans", sans-serif' font-size="43" font-weight="bold">a</text>
<rect x="821.3" y="22.4" width="649.2" height="546.8" fill="none" stroke="#000" stroke-width="3.2"/>
<path d="M857.4 567.6v-1.6M893.4 567.6v-4.7M929.5 567.6v-1.6M965.6 567.6v-4.7M1001.6 567.6v-1.6M1037.7 567.6v-4.7M1073.8 567.6v-1.6M1109.8 567.6v-4.7M1145.9 567.6v-1.6M1182 567.6v-4.7M1218 567.6v-1.6M1254.1 567.6v-4.7M1290.2 567.6v-1.6M1326.2 567.6v-4.7M1362.3 567.6v-1.6M1398.4 567.6v-4.7M1434.4 567.6v-1.6" stroke="#000" stroke-width="2.6" fill="none"/>
<g font-family='"Liberation Sans", sans-serif' font-size="29" text-anchor="middle"><text x="821.3" y="604.4">525</text><text x="893.4" y="604.4">526</text><text x="965.6" y="604.4">527</text><text x="1037.7" y="604.4">528</text><text x="1109.8" y="604.4">529</text><text x="1182" y="604.4">530</text><text x="1254.1" y="604.4">531</text><text x="1326.2" y="604.4">532</text><text x="1398.4" y="604.4">533</text><text x="1470.5" y="604.4">534</text></g>
<text x="1147.8" y="646.8" font-family='"Liberation Sans", sans-serif' font-size="29" text-anchor="middle">Energy (eV)</text>
<text transform="translate(799.5 295.8) rotate(-90)" font-family='"Liberation Sans", sans-serif' font-size="29" text-anchor="middle">Intensity (a. u.)</text>
<text x="774" y="32" font-family='"Liberation Sans", sans-serif' font-size="43" font-weight="bold">b</text>
<rect x="48.6" y="712.9" width="649.1" height="547" fill="none" stroke="#000" stroke-width="3.2"/>
<path d="M84.7 1258.3v-1.6M120.7 1258.3v-4.7M156.8 1258.3v-1.6M192.8 1258.3v-4.7M228.9 1258.3v-1.6M265 1258.3v-4.7M301 1258.3v-1.6M337.1 1258.3v-4.7M373.2 1258.3v-1.6M409.2 1258.3v-4.7M445.3 1258.3v-1.6M481.3 1258.3v-4.7M517.4 1258.3v-1.6M553.5 1258.3v-4.7M589.5 1258.3v-1.6M625.6 1258.3v-4.7M661.6 1258.3v-1.6" stroke="#000" stroke-width="2.6" fill="none"/>
<g font-family='"Liberation Sans", sans-serif' font-size="29" text-anchor="middle"><text x="48.6" y="1295.1">525</text><text x="120.7" y="1295.1">526</text><text x="192.8" y="1295.1">527</text><text x="265" y="1295.1">528</text><text x="337.1" y="1295.1">529</text><text x="409.2" y="1295.1">530</text><text x="481.3" y="1295.1">531</text><text x="553.5" y="1295.1">532</text><text x="625.6" y="1295.1">533</text><text x="697.7" y="1295.1">534</text></g>
<text x="374.9" y="1337.5" font-family='"Liberation Sans", sans-serif' font-size="29" text-anchor="middle">Energy (eV)</text>
<text transform="translate(26 986.4) rotate(-90)" font-family='"Liberation Sans", sans-serif' font-size="29" text-anchor="middle">Intensity (a. u.)</text>
<text x="1.8" y="728" font-family='"Liberation Sans", sans-serif' font-size="43" font-weight="bold">c</text>
<rect x="821.3" y="712.9" width="649.2" height="547" fill="none" stroke="#000" stroke-width="3.2"/>
<path d="M857.4 1258.3v-1.6M893.4 1258.3v-4.7M929.5 1258.3v-1.6M965.6 1258.3v-4.7M1001.6 1258.3v-1.6M1037.7 1258.3v-4.7M1073.8 1258.3v-1.6M1109.8 1258.3v-4.7M1145.9 1258.3v-1.6M1182 1258.3v-4.7M1218 1258.3v-1.6M1254.1 1258.3v-4.7M1290.2 1258.3v-1.6M1326.2 1258.3v-4.7M1362.3 1258.3v-1.6M1398.4 1258.3v-4.7M1434.4 1258.3v-1.6" stroke="#000" stroke-width="2.6" fill="none"/>
<g font-family='"Liberation Sans", sans-serif' font-size="29" text-anchor="middle"><text x="821.3" y="1295.1">525</text><text x="893.4" y="1295.1">526</text><text x="965.6" y="1295.1">527</text><text x="1037.7" y="1295.1">528</text><text x="1109.8" y="1295.1">529</text><text x="1182" y="1295.1">530</text><text x="1254.1" y="1295.1">531</text><text x="1326.2" y="1295.1">532</text><text x="1398.4" y="1295.1">533</text><text x="1470.5" y="1295.1">534</text></g>
<text x="1149.8" y="1337.2" font-family='"Liberation Sans", sans-serif' font-size="29" text-anchor="middle">Energy (eV)</text>
<text transform="translate(793 986.4) rotate(-90)" font-family='"Liberation Sans", sans-serif' font-size="29" text-anchor="middle">Intensity (a. u.)</text>
<text x="773.4" y="727.8" font-family='"Liberation Sans", sans-serif' font-size="43" font-weight="bold">d</text>
<rect x="48.6" y="1402.8" width="649.1" height="546.8" fill="none" stroke="#000" stroke-width="3.2"/>
<path d="M84.7 1948v-1.6M120.7 1948v-4.7M156.8 1948v-1.6M192.8 1948v-4.7M228.9 1948v-1.6M265 1948v-4.7M301 1948v-1.6M337.1 1948v-4.7M373.2 1948v-1.6M409.2 1948v-4.7M445.3 1948v-1.6M481.3 1948v-4.7M517.4 1948v-1.6M553.5 1948v-4.7M589.5 1948v-1.6M625.6 1948v-4.7M661.6 1948v-1.6" stroke="#000" stroke-width="2.6" fill="none"/>
<g font-family='"Liberation Sans", sans-serif' font-size="29" text-anchor="middle"><text x="48.6" y="1984.8">525</text><text x="120.7" y="1984.8">526</text><text x="192.8" y="1984.8">527</text><text x="265" y="1984.8">528</text><text x="337.1" y="1984.8">529</text><text x="409.2" y="1984.8">530</text><text x="481.3" y="1984.8">531</text><text x="553.5" y="1984.8">532</text><text x="625.6" y="1984.8">533</text><text x="697.7" y="1984.8">534</text></g>
<text x="374.9" y="2027.5" font-family='"Liberation Sans", sans-serif' font-size="29" text-anchor="middle">Energy (eV)</text>
<text transform="translate(22.2 1676.2) rotate(-90)" font-family='"Liberation Sans", sans-serif' font-size="29" text-anchor="middle">Intensity (a. u.)</text>
<text x="2" y="1415" font-family='"Liberation Sans", sans-serif' font-size="43" font-weight="bold">e</text>
<rect x="821.3" y="1402.7" width="649.2" height="546.7" fill="none" stroke="#000" stroke-width="3.2"/>
<path d="M857.4 1947.8v-1.6M893.4 1947.8v-4.7M929.5 1947.8v-1.6M965.6 1947.8v-4.7M1001.6 1947.8v-1.6M1037.7 1947.8v-4.7M1073.8 1947.8v-1.6M1109.8 1947.8v-4.7M1145.9 1947.8v-1.6M1182 1947.8v-4.7M1218 1947.8v-1.6M1254.1 1947.8v-4.7M1290.2 1947.8v-1.6M1326.2 1947.8v-4.7M1362.3 1947.8v-1.6M1398.4 1947.8v-4.7M1434.4 1947.8v-1.6" stroke="#000" stroke-width="2.6" fill="none"/>
<g font-family='"Liberation Sans", sans-serif' font-size="29" text-anchor="middle"><text x="821.3" y="1984.6">525</text><text x="893.4" y="1984.6">526</text><text x="965.6" y="1984.6">527</text><text x="1037.7" y="1984.6">528</text><text x="1109.8" y="1984.6">529</text><text x="1182" y="1984.6">530</text><text x="1254.1" y="1984.6">531</text><text x="1326.2" y="1984.6">532</text><text x="1398.4" y="1984.6">533</text><text x="1470.5" y="1984.6">534</text></g>
<text x="1147.8" y="2026.8" font-family='"Liberation Sans", sans-serif' font-size="29" text-anchor="middle">Energy (eV)</text>
<text transform="translate(793 1676.1) rotate(-90)" font-family='"Liberation Sans", sans-serif' font-size="29" text-anchor="middle">Intensity (a. u.)</text>
<text x="774" y="1414.5" font-family='"Liberation Sans", sans-serif' font-size="43" font-weight="bold">f</text>
<text x="72.5" y="70.1" font-family='"Liberation Sans", sans-serif' font-size="25">Voltage=1.4 V</text>
<text x="72.5" y="105.4" font-family='"Liberation Sans", sans-serif' font-size="25">Scan Number</text>
<path d="M73.5 132.5H127.5" stroke="#555555" stroke-width="3.0" stroke-linecap="round"/><circle cx="100.2" cy="132.5" r="4.5" fill="#555555"/>
<text x="141.2" y="140.5" font-family='"Liberation Sans", sans-serif' font-size="25">1</text>
<path d="M73.5 162.2H127.5" stroke="#ff00ff" stroke-width="3.0" stroke-linecap="round"/><circle cx="100.2" cy="162.2" r="4.5" fill="#ff00ff"/>
<text x="141.2" y="170.2" font-family='"Liberation Sans", sans-serif' font-size="25">2</text>
<path d="M73.5 191.9H127.5" stroke="#1a6fdf" stroke-width="3.0" stroke-linecap="round"/><circle cx="100.2" cy="191.9" r="4.5" fill="#1a6fdf"/>
<text x="141.2" y="199.9" font-family='"Liberation Sans", sans-serif' font-size="25">3</text>
<path d="M73.5 221.6H127.5" stroke="#008000" stroke-width="3.0" stroke-linecap="round"/><circle cx="100.2" cy="221.6" r="4.5" fill="#008000"/>
<text x="141.2" y="229.6" font-family='"Liberation Sans", sans-serif' font-size="25">4</text>
<path d="M73.5 251.3H127.5" stroke="#b07ce0" stroke-width="3.0" stroke-linecap="round"/><circle cx="100.2" cy="251.3" r="4.5" fill="#b07ce0"/>
<text x="141.2" y="259.3" font-family='"Liberation Sans", sans-serif' font-size="25">5</text>
<path d="M73.5 281H127.5" stroke="#cc9900" stroke-width="3.0" stroke-linecap="round"/><circle cx="100.2" cy="281" r="4.5" fill="#cc9900"/>
<text x="141.2" y="289" font-family='"Liberation Sans", sans-serif' font-size="25">6</text>
<path d="M73.5 310.7H127.5" stroke="#00c8c8" stroke-width="3.0" stroke-linecap="round"/><circle cx="100.2" cy="310.7" r="4.5" fill="#00c8c8"/>
<text x="141.2" y="318.7" font-family='"Liberation Sans", sans-serif' font-size="25">7</text>
<path d="M73.5 340.4H127.5" stroke="#7a5050" stroke-width="3.0" stroke-linecap="round"/><circle cx="100.2" cy="340.4" r="4.5" fill="#7a5050"/>
<text x="141.2" y="348.4" font-family='"Liberation Sans", sans-serif' font-size="25">8</text>
<path d="M73.5 370.1H127.5" stroke="#8c8c00" stroke-width="3.0" stroke-linecap="round"/><circle cx="100.2" cy="370.1" r="4.5" fill="#8c8c00"/>
<text x="141.2" y="378.1" font-family='"Liberation Sans", sans-serif' font-size="25">9</text>
<path d="M73.5 399.8H127.5" stroke="#ff6400" stroke-width="3.0" stroke-linecap="round"/><circle cx="100.2" cy="399.8" r="4.5" fill="#ff6400"/>
<text x="141.2" y="407.8" font-family='"Liberation Sans", sans-serif' font-size="25">10</text>
<path d="M73.5 429.5H127.5" stroke="#6699cc" stroke-width="3.0" stroke-linecap="round"/><circle cx="100.2" cy="429.5" r="4.5" fill="#6699cc"/>
<text x="141.2" y="437.5" font-family='"Liberation Sans", sans-serif' font-size="25">11</text>
<g transform="translate(428.9 30)"><path d="M6.2 0.3C2.6 0.3 0.6 3.6 0.6 7.5C0.6 11.6 2.9 14.5 6.1 14.5C9.6 14.5 11.6 10.5 12.1 6.6" fill="none" stroke="#000" stroke-width="2.3"/><path d="M6.2 0.3C9.3 0.3 11.2 3.5 11.8 7.6C12.3 11.2 13.2 14.2 14.4 14.3C15.6 14.4 16.4 12.6 16.6 10.8" fill="none" stroke="#000" stroke-width="1.5"/><path d="M16.3 0.2L11.0 10.8" fill="none" stroke="#000" stroke-width="2.4"/></g>
<text x="327.9" y="312.7" font-family='"Liberation Serif", serif' font-size="30">β</text>
<g transform="translate(269 436.8)"><path d="M0.7 5.2C0.9 2.6 2.1 0.9 3.6 0.9C5.6 0.9 6.4 3.0 7.0 6.2L8.4 13.4" fill="none" stroke="#000" stroke-width="1.7"/><path d="M14.3 0.6L8.2 13.6" fill="none" stroke="#000" stroke-width="2.5"/><path d="M8.0 12.6C9.6 14.6 9.5 19.6 8.1 20.9C7.0 21.9 5.9 21.0 6.3 18.6C6.6 16.6 7.3 14.5 8.0 12.6Z" fill="#000"/></g>
<text x="841.1" y="65.3" font-family='"Liberation Sans", sans-serif' font-size="25">Voltage=1.6 V</text>
<text x="841.1" y="112.8" font-family='"Liberation Sans", sans-serif' font-size="25">Scan Number</text>
<path d="M849.5 134.5H902.5" stroke="#555555" stroke-width="3.0" stroke-linecap="round"/><circle cx="876" cy="134.5" r="4.5" fill="#555555"/>
<text x="918.2" y="142.5" font-family='"Liberation Sans", sans-serif' font-size="25">1</text>
<path d="M849.5 164.1H902.5" stroke="#ff00ff" stroke-width="3.0" stroke-linecap="round"/><circle cx="876" cy="164.1" r="4.5" fill="#ff00ff"/>
<text x="918.2" y="172.1" font-family='"Liberation Sans", sans-serif' font-size="25">2</text>
<path d="M849.5 193.8H902.5" stroke="#1a6fdf" stroke-width="3.0" stroke-linecap="round"/><circle cx="876" cy="193.8" r="4.5" fill="#1a6fdf"/>
<text x="918.2" y="201.8" font-family='"Liberation Sans", sans-serif' font-size="25">3</text>
<path d="M849.5 223.4H902.5" stroke="#008000" stroke-width="3.0" stroke-linecap="round"/><circle cx="876" cy="223.4" r="4.5" fill="#008000"/>
<text x="918.2" y="231.4" font-family='"Liberation Sans", sans-serif' font-size="25">4</text>
<path d="M849.5 253H902.5" stroke="#b07ce0" stroke-width="3.0" stroke-linecap="round"/><circle cx="876" cy="253" r="4.5" fill="#b07ce0"/>
<text x="918.2" y="261" font-family='"Liberation Sans", sans-serif' font-size="25">5</text>
<path d="M849.5 282.6H902.5" stroke="#cc9900" stroke-width="3.0" stroke-linecap="round"/><circle cx="876" cy="282.6" r="4.5" fill="#cc9900"/>
<text x="918.2" y="290.6" font-family='"Liberation Sans", sans-serif' font-size="25">6</text>
<path d="M849.5 312.3H902.5" stroke="#00c8c8" stroke-width="3.0" stroke-linecap="round"/><circle cx="876" cy="312.3" r="4.5" fill="#00c8c8"/>
<text x="918.2" y="320.3" font-family='"Liberation Sans", sans-serif' font-size="25">7</text>
<path d="M849.5 341.9H902.5" stroke="#7a5050" stroke-width="3.0" stroke-linecap="round"/><circle cx="876" cy="341.9" r="4.5" fill="#7a5050"/>
<text x="918.2" y="349.9" font-family='"Liberation Sans", sans-serif' font-size="25">8</text>
<path d="M849.5 371.5H902.5" stroke="#8c8c00" stroke-width="3.0" stroke-linecap="round"/><circle cx="876" cy="371.5" r="4.5" fill="#8c8c00"/>
<text x="918.2" y="379.5" font-family='"Liberation Sans", sans-serif' font-size="25">9</text>
<path d="M849.5 401.2H902.5" stroke="#ff6400" stroke-width="3.0" stroke-linecap="round"/><circle cx="876" cy="401.2" r="4.5" fill="#ff6400"/>
<text x="918.2" y="409.2" font-family='"Liberation Sans", sans-serif' font-size="25">10</text>
<path d="M849.5 430.8H902.5" stroke="#6699cc" stroke-width="3.0" stroke-linecap="round"/><circle cx="876" cy="430.8" r="4.5" fill="#6699cc"/>
<text x="918.2" y="438.8" font-family='"Liberation Sans", sans-serif' font-size="25">11</text>
<g transform="translate(1200 33)"><path d="M6.2 0.3C2.6 0.3 0.6 3.6 0.6 7.5C0.6 11.6 2.9 14.5 6.1 14.5C9.6 14.5 11.6 10.5 12.1 6.6" fill="none" stroke="#000" stroke-width="2.3"/><path d="M6.2 0.3C9.3 0.3 11.2 3.5 11.8 7.6C12.3 11.2 13.2 14.2 14.4 14.3C15.6 14.4 16.4 12.6 16.6 10.8" fill="none" stroke="#000" stroke-width="1.5"/><path d="M16.3 0.2L11.0 10.8" fill="none" stroke="#000" stroke-width="2.4"/></g>
<text x="1094.5" y="176" font-family='"Liberation Serif", serif' font-size="30">β</text>
<g transform="translate(1040 351)"><path d="M0.7 5.2C0.9 2.6 2.1 0.9 3.6 0.9C5.6 0.9 6.4 3.0 7.0 6.2L8.4 13.4" fill="none" stroke="#000" stroke-width="1.7"/><path d="M14.3 0.6L8.2 13.6" fill="none" stroke="#000" stroke-width="2.5"/><path d="M8.0 12.6C9.6 14.6 9.5 19.6 8.1 20.9C7.0 21.9 5.9 21.0 6.3 18.6C6.6 16.6 7.3 14.5 8.0 12.6Z" fill="#000"/></g>
<text x="63.9" y="760.4" font-family='"Liberation Sans", sans-serif' font-size="25"><tspan dy="0">Li</tspan><tspan font-size="17" dy="7.5">2</tspan><tspan dy="-7.5">Co</tspan><tspan font-size="17" dy="7.5">2</tspan><tspan dy="-7.5">O</tspan><tspan font-size="17" dy="7.5">4</tspan></text>
<path d="M62 795.6H116.3" stroke="#000000" stroke-width="3.0" stroke-linecap="round"/><circle cx="89.2" cy="795.6" r="4.2" fill="#000000"/>
<text x="128.6" y="804" font-family='"Liberation Sans", sans-serif' font-size="25">FY in operando</text>
<path d="M62 825.7H116.3" stroke="#ff00ff" stroke-width="3.0" stroke-linecap="round"/><circle cx="89.2" cy="825.7" r="4.2" fill="#ff00ff"/>
<text x="128.6" y="833.5" font-family='"Liberation Sans", sans-serif' font-size="25">FY in vacuo</text>
<text x="63.9" y="969.9" font-family='"Liberation Sans", sans-serif' font-size="25"><tspan dy="0">LiCoO</tspan><tspan font-size="17" dy="7.5">2</tspan></text>
<text x="63" y="1098.2" font-family='"Liberation Sans", sans-serif' font-size="25"><tspan dy="0">Li</tspan><tspan font-size="17" dy="7.5">0.66</tspan><tspan dy="-7.5">CoO</tspan><tspan font-size="17" dy="7.5">2</tspan></text>
<text x="63" y="1195.2" font-family='"Liberation Sans", sans-serif' font-size="25"><tspan dy="0">Na</tspan><tspan font-size="17" dy="7.5">0.5</tspan><tspan dy="-7.5">CoO</tspan><tspan font-size="17" dy="7.5">2</tspan></text>
<g transform="translate(276 815)"><path d="M0.7 5.2C0.9 2.6 2.1 0.9 3.6 0.9C5.6 0.9 6.4 3.0 7.0 6.2L8.4 13.4" fill="none" stroke="#000" stroke-width="1.7"/><path d="M14.3 0.6L8.2 13.6" fill="none" stroke="#000" stroke-width="2.5"/><path d="M8.0 12.6C9.6 14.6 9.5 19.6 8.1 20.9C7.0 21.9 5.9 21.0 6.3 18.6C6.6 16.6 7.3 14.5 8.0 12.6Z" fill="#000"/></g>
<text x="313.5" y="743.5" font-family='"Liberation Serif", serif' font-size="30">β</text>
<g transform="translate(429.4 716.5)"><path d="M6.2 0.3C2.6 0.3 0.6 3.6 0.6 7.5C0.6 11.6 2.9 14.5 6.1 14.5C9.6 14.5 11.6 10.5 12.1 6.6" fill="none" stroke="#000" stroke-width="2.3"/><path d="M6.2 0.3C9.3 0.3 11.2 3.5 11.8 7.6C12.3 11.2 13.2 14.2 14.4 14.3C15.6 14.4 16.4 12.6 16.6 10.8" fill="none" stroke="#000" stroke-width="1.5"/><path d="M16.3 0.2L11.0 10.8" fill="none" stroke="#000" stroke-width="2.4"/></g>
<text x="840.9" y="760.4" font-family='"Liberation Sans", sans-serif' font-size="25">Different voltages</text>
<path d="M845 818.1H899" stroke="#0000ff" stroke-width="3.0" stroke-linecap="round"/><circle cx="871.8" cy="818.1" r="4.5" fill="#0000ff"/>
<text x="912" y="826.5" font-family='"Liberation Sans", sans-serif' font-size="25">1.0 V</text>
<path d="M845 848.2H899" stroke="#ff00ff" stroke-width="3.0" stroke-linecap="round"/><circle cx="871.8" cy="848.2" r="4.5" fill="#ff00ff"/>
<text x="912" y="856.6" font-family='"Liberation Sans", sans-serif' font-size="25">1.2 V</text>
<path d="M845 877.7H899" stroke="#aa78dc" stroke-width="3.0" stroke-linecap="round"/><circle cx="871.8" cy="877.7" r="4.5" fill="#aa78dc"/>
<text x="912" y="886.1" font-family='"Liberation Sans", sans-serif' font-size="25">1.4 V</text>
<path d="M845 907.5H899" stroke="#ff8000" stroke-width="3.0" stroke-linecap="round"/><circle cx="871.8" cy="907.5" r="4.5" fill="#ff8000"/>
<text x="912" y="915.9" font-family='"Liberation Sans", sans-serif' font-size="25">1.6 V</text>
<g transform="translate(1175 721)"><path d="M6.2 0.3C2.6 0.3 0.6 3.6 0.6 7.5C0.6 11.6 2.9 14.5 6.1 14.5C9.6 14.5 11.6 10.5 12.1 6.6" fill="none" stroke="#000" stroke-width="2.3"/><path d="M6.2 0.3C9.3 0.3 11.2 3.5 11.8 7.6C12.3 11.2 13.2 14.2 14.4 14.3C15.6 14.4 16.4 12.6 16.6 10.8" fill="none" stroke="#000" stroke-width="1.5"/><path d="M16.3 0.2L11.0 10.8" fill="none" stroke="#000" stroke-width="2.4"/></g>
<text x="1104" y="923.4" font-family='"Liberation Serif", serif' font-size="30">β</text>
<g transform="translate(1040 1071)"><path d="M0.7 5.2C0.9 2.6 2.1 0.9 3.6 0.9C5.6 0.9 6.4 3.0 7.0 6.2L8.4 13.4" fill="none" stroke="#000" stroke-width="1.7"/><path d="M14.3 0.6L8.2 13.6" fill="none" stroke="#000" stroke-width="2.5"/><path d="M8.0 12.6C9.6 14.6 9.5 19.6 8.1 20.9C7.0 21.9 5.9 21.0 6.3 18.6C6.6 16.6 7.3 14.5 8.0 12.6Z" fill="#000"/></g>
<text x="63.2" y="1460.5" font-family='"Liberation Sans", sans-serif' font-size="25">O K-SXAS</text>
<path d="M66 1500.6H119.6" stroke="#555555" stroke-width="3.0" stroke-linecap="round"/>
<path d="M66 1530.6H119.6" stroke="#1a6fdf" stroke-width="3.0" stroke-linecap="round"/>
<path d="M66 1565.4H119.6" stroke="#00ffff" stroke-width="3.0" stroke-linecap="round"/>
<path d="M66 1601H119.6" stroke="#ff00ff" stroke-width="3.0" stroke-linecap="round"/>
<text x="133.7" y="1509.2" font-family='"Liberation Sans", sans-serif' font-size="25">1.4 V</text>
<text x="133.7" y="1539.2" font-family='"Liberation Sans", sans-serif' font-size="25"><tspan dy="0">80% Li</tspan><tspan font-size="17" dy="7.5">2</tspan><tspan dy="-7.5">Co</tspan><tspan font-size="17" dy="7.5">2</tspan><tspan dy="-7.5">O</tspan><tspan font-size="17" dy="7.5">4</tspan></text>
<text x="133.7" y="1574" font-family='"Liberation Sans", sans-serif' font-size="25"><tspan dy="0">20% BaCoO</tspan><tspan font-size="17" dy="7.5">3</tspan></text>
<text x="133.7" y="1609.6" font-family='"Liberation Sans", sans-serif' font-size="25">sum</text>
<text x="496.5" y="1513.7" font-family='"Liberation Sans", sans-serif' font-size="25"><tspan dy="0">Co</tspan><tspan font-size="17" dy="-11">3.2+</tspan></text>
<g transform="translate(426 1475)"><path d="M6.2 0.3C2.6 0.3 0.6 3.6 0.6 7.5C0.6 11.6 2.9 14.5 6.1 14.5C9.6 14.5 11.6 10.5 12.1 6.6" fill="none" stroke="#000" stroke-width="2.3"/><path d="M6.2 0.3C9.3 0.3 11.2 3.5 11.8 7.6C12.3 11.2 13.2 14.2 14.4 14.3C15.6 14.4 16.4 12.6 16.6 10.8" fill="none" stroke="#000" stroke-width="1.5"/><path d="M16.3 0.2L11.0 10.8" fill="none" stroke="#000" stroke-width="2.4"/></g>
<text x="336.2" y="1695.3" font-family='"Liberation Serif", serif' font-size="30">β</text>
<g transform="translate(276.5 1802.5)"><path d="M0.7 5.2C0.9 2.6 2.1 0.9 3.6 0.9C5.6 0.9 6.4 3.0 7.0 6.2L8.4 13.4" fill="none" stroke="#000" stroke-width="1.7"/><path d="M14.3 0.6L8.2 13.6" fill="none" stroke="#000" stroke-width="2.5"/><path d="M8.0 12.6C9.6 14.6 9.5 19.6 8.1 20.9C7.0 21.9 5.9 21.0 6.3 18.6C6.6 16.6 7.3 14.5 8.0 12.6Z" fill="#000"/></g>
<text x="840.5" y="1454.8" font-family='"Liberation Sans", sans-serif' font-size="25">O K-SXAS</text>
<path d="M836.6 1502.4H890.8" stroke="#555555" stroke-width="3.0" stroke-linecap="round"/>
<path d="M836.6 1532.4H890.8" stroke="#1a6fdf" stroke-width="3.0" stroke-linecap="round"/>
<path d="M836.6 1568H890.8" stroke="#00ffff" stroke-width="3.0" stroke-linecap="round"/>
<path d="M836.6 1602.9H890.8" stroke="#ff00ff" stroke-width="3.0" stroke-linecap="round"/>
<text x="904.2" y="1511.8" font-family='"Liberation Sans", sans-serif' font-size="25">1.6 V</text>
<text x="904.2" y="1541.8" font-family='"Liberation Sans", sans-serif' font-size="25"><tspan dy="0">60% Li</tspan><tspan font-size="17" dy="7.5">2</tspan><tspan dy="-7.5">Co</tspan><tspan font-size="17" dy="7.5">2</tspan><tspan dy="-7.5">O</tspan><tspan font-size="17" dy="7.5">4</tspan></text>
<text x="904.2" y="1577.4" font-family='"Liberation Sans", sans-serif' font-size="25"><tspan dy="0">40% BaCoO</tspan><tspan font-size="17" dy="7.5">3</tspan></text>
<text x="904.2" y="1612.3" font-family='"Liberation Sans", sans-serif' font-size="25">sum</text>
<text x="1297.8" y="1523" font-family='"Liberation Sans", sans-serif' font-size="25"><tspan dy="0">Co</tspan><tspan font-size="17" dy="-11">3.4+</tspan></text>
<g transform="translate(1192 1520)"><path d="M6.2 0.3C2.6 0.3 0.6 3.6 0.6 7.5C0.6 11.6 2.9 14.5 6.1 14.5C9.6 14.5 11.6 10.5 12.1 6.6" fill="none" stroke="#000" stroke-width="2.3"/><path d="M6.2 0.3C9.3 0.3 11.2 3.5 11.8 7.6C12.3 11.2 13.2 14.2 14.4 14.3C15.6 14.4 16.4 12.6 16.6 10.8" fill="none" stroke="#000" stroke-width="1.5"/><path d="M16.3 0.2L11.0 10.8" fill="none" stroke="#000" stroke-width="2.4"/></g>
<text x="1103.5" y="1557" font-family='"Liberation Serif", serif' font-size="30">β</text>
<g transform="translate(1040 1748)"><path d="M0.7 5.2C0.9 2.6 2.1 0.9 3.6 0.9C5.6 0.9 6.4 3.0 7.0 6.2L8.4 13.4" fill="none" stroke="#000" stroke-width="1.7"/><path d="M14.3 0.6L8.2 13.6" fill="none" stroke="#000" stroke-width="2.5"/><path d="M8.0 12.6C9.6 14.6 9.5 19.6 8.1 20.9C7.0 21.9 5.9 21.0 6.3 18.6C6.6 16.6 7.3 14.5 8.0 12.6Z" fill="#000"/></g>
</svg></body></html>
